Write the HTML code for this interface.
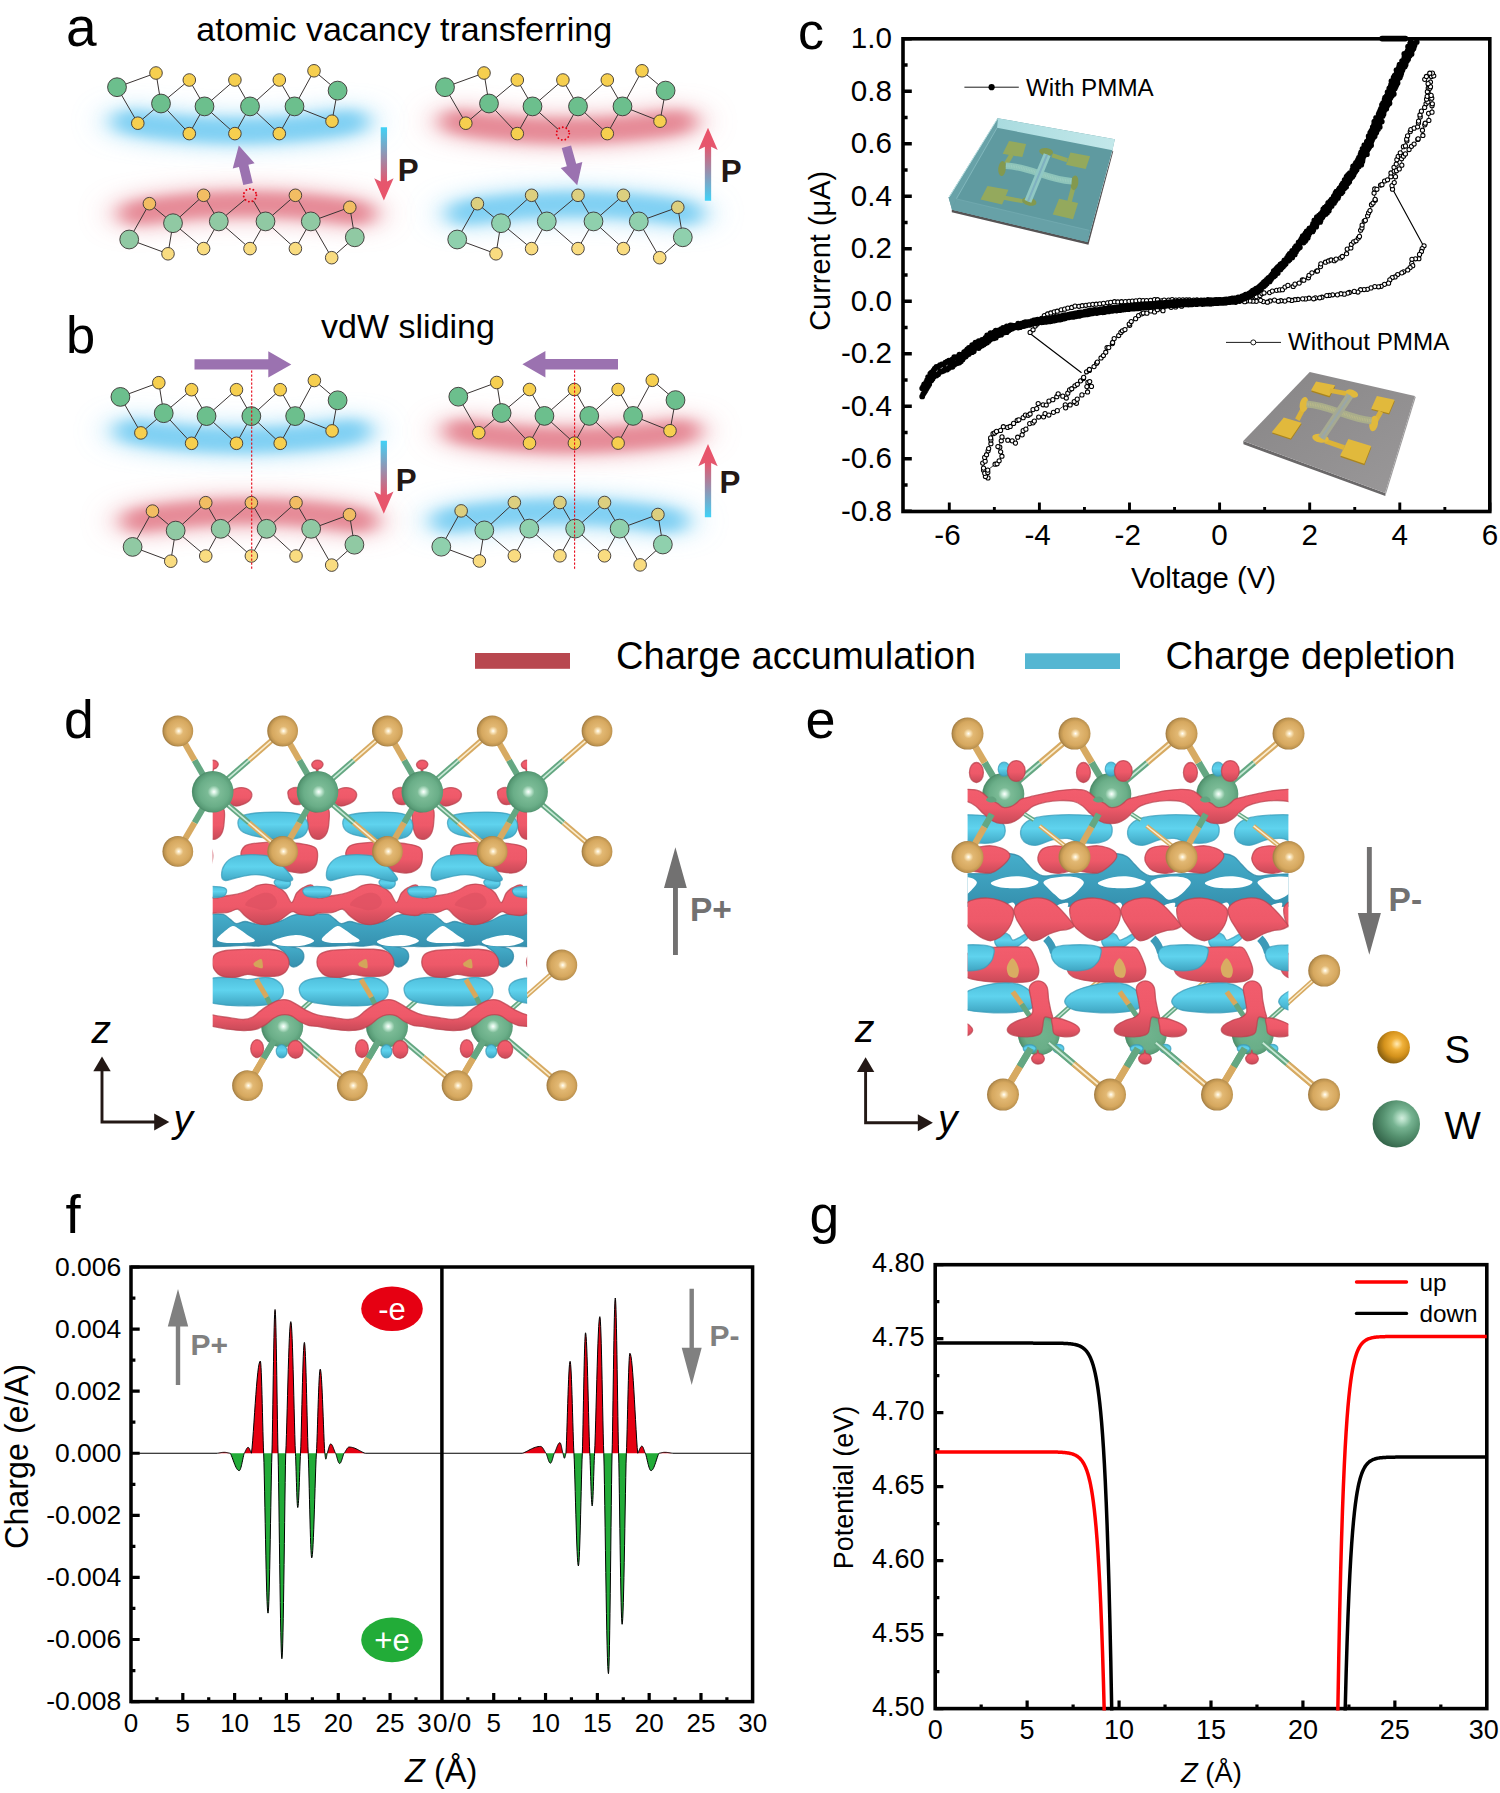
<!DOCTYPE html>
<html><head><meta charset="utf-8"><title>figure</title>
<style>html,body{margin:0;padding:0;background:#fff}svg{display:block}text{font-family:"Liberation Sans", sans-serif}</style></head>
<body><svg width="1500" height="1793" viewBox="0 0 1500 1793">
<defs><filter id="blur" filterUnits="userSpaceOnUse" x="0" y="0" width="800" height="620"><feGaussianBlur stdDeviation="10 5.5"/></filter>
<filter id="blur2" filterUnits="userSpaceOnUse" x="0" y="0" width="800" height="620"><feGaussianBlur stdDeviation="18 11"/></filter>
<linearGradient id="pgd" x1="0" y1="0" x2="0" y2="1"><stop offset="0" stop-color="#3fd2f7"/><stop offset="0.75" stop-color="#e6566d"/><stop offset="1" stop-color="#ea5369"/></linearGradient>
<linearGradient id="pgu" x1="0" y1="1" x2="0" y2="0"><stop offset="0" stop-color="#3fd2f7"/><stop offset="0.75" stop-color="#e6566d"/><stop offset="1" stop-color="#ea5369"/></linearGradient>
<linearGradient id="pmmaStrip" x1="0" y1="0" x2="1" y2="0"><stop offset="0" stop-color="#a9dbdf"/><stop offset="1" stop-color="#c3e8ea"/></linearGradient>
<linearGradient id="pmmaTop" x1="0" y1="0" x2="1" y2="1"><stop offset="0" stop-color="#5b979e"/><stop offset="1" stop-color="#639ca2"/></linearGradient>
<linearGradient id="subTop" x1="0" y1="0" x2="1" y2="1"><stop offset="0" stop-color="#878586"/><stop offset="1" stop-color="#9a9899"/></linearGradient><radialGradient id="gS" cx="0.53" cy="0.5" r="0.5"><stop offset="0" stop-color="#fff"/><stop offset="0.1" stop-color="#fbe9c3"/><stop offset="0.3" stop-color="#e2b873"/><stop offset="0.75" stop-color="#d6a85f"/><stop offset="0.93" stop-color="#be9450"/><stop offset="1" stop-color="#a98247"/></radialGradient>
<radialGradient id="gW" cx="0.53" cy="0.5" r="0.5"><stop offset="0" stop-color="#fff"/><stop offset="0.1" stop-color="#d2f0df"/><stop offset="0.3" stop-color="#7bbb96"/><stop offset="0.72" stop-color="#6aae88"/><stop offset="0.92" stop-color="#5a9d78"/><stop offset="1" stop-color="#4f8f6c"/></radialGradient>
<radialGradient id="gWn" cx="0.53" cy="0.5" r="0.5"><stop offset="0" stop-color="#70b48e"/><stop offset="0.72" stop-color="#6aae88"/><stop offset="0.92" stop-color="#5a9d78"/><stop offset="1" stop-color="#4f8f6c"/></radialGradient>
<radialGradient id="gSL" cx="0.6" cy="0.4" r="0.6"><stop offset="0" stop-color="#ffe9b5"/><stop offset="0.1" stop-color="#fcd98c"/><stop offset="0.3" stop-color="#f0b13a"/><stop offset="0.65" stop-color="#d4921c"/><stop offset="1" stop-color="#8f6412"/></radialGradient>
<radialGradient id="gWL" cx="0.62" cy="0.38" r="0.65"><stop offset="0" stop-color="#d2eddd"/><stop offset="0.12" stop-color="#b2dcc4"/><stop offset="0.32" stop-color="#76b391"/><stop offset="0.62" stop-color="#55916f"/><stop offset="1" stop-color="#35664b"/></radialGradient>
<linearGradient id="gRed" x1="0" y1="0" x2="0" y2="1"><stop offset="0" stop-color="#f25d6d"/><stop offset="0.55" stop-color="#ee5969"/><stop offset="1" stop-color="#c94a58"/></linearGradient>
<linearGradient id="gRedD" x1="0" y1="0" x2="0" y2="1"><stop offset="0" stop-color="#e05565"/><stop offset="1" stop-color="#b84350"/></linearGradient>
<linearGradient id="gLB" x1="0" y1="0" x2="0" y2="1"><stop offset="0" stop-color="#4fbfdc"/><stop offset="0.45" stop-color="#5fd3ee"/><stop offset="1" stop-color="#3fa5c2"/></linearGradient>
<linearGradient id="gTeal" x1="0" y1="0" x2="0" y2="1"><stop offset="0" stop-color="#45aecb"/><stop offset="1" stop-color="#3590ae"/></linearGradient>
<clipPath id="clipD"><rect x="212.7" y="700" width="314.4" height="420"/></clipPath>
<clipPath id="clipE"><rect x="967.6" y="700" width="320.8" height="420"/></clipPath></defs>
<rect width="1500" height="1793" fill="#fff"/>
<g filter="url(#blur)"><path d="M126 121.5Q240 140.5 354 121.5" fill="none" stroke="#80d0f3" stroke-width="22" stroke-linecap="round"/></g><g filter="url(#blur2)"><path d="M126 121.5Q240 140.5 354 121.5" fill="none" stroke="#80d0f3" stroke-width="30" stroke-linecap="round" stroke-opacity="0.7"/></g>
<g filter="url(#blur)"><path d="M133 213.5Q247 194.5 361 213.5" fill="none" stroke="#e68a97" stroke-width="22" stroke-linecap="round"/></g><g filter="url(#blur2)"><path d="M133 213.5Q247 194.5 361 213.5" fill="none" stroke="#e68a97" stroke-width="30" stroke-linecap="round" stroke-opacity="0.7"/></g>
<path d="M117 87.2L156 73L161 103.5M117 87.2L137.8 123.2L161 103.5M161 103.5L189.3 80L204.5 106.4M161 103.5L189.3 133.6L204.5 106.4M204.5 106.4L234.9 80L250 106.4M204.5 106.4L234.9 133.6L250 106.4M250 106.4L279.3 80L294.5 106.4M250 106.4L279.3 133.6L294.5 106.4M294.5 106.4L314 70.8L337.6 90.6M294.5 106.4L332 121.2L337.6 90.6" fill="none" stroke="#3a3433" stroke-width="1"/>
<circle cx="156" cy="73" r="6.3" fill="#f6cf4f" stroke="#3a3433" stroke-width="0.9"/>
<circle cx="189.3" cy="80" r="6.3" fill="#f6cf4f" stroke="#3a3433" stroke-width="0.9"/>
<circle cx="234.9" cy="80" r="6.3" fill="#f6cf4f" stroke="#3a3433" stroke-width="0.9"/>
<circle cx="279.3" cy="80" r="6.3" fill="#f6cf4f" stroke="#3a3433" stroke-width="0.9"/>
<circle cx="314" cy="70.8" r="6.3" fill="#f6cf4f" stroke="#3a3433" stroke-width="0.9"/>
<circle cx="137.8" cy="123.2" r="6.3" fill="#f6cf4f" stroke="#3a3433" stroke-width="0.9"/>
<circle cx="189.3" cy="133.6" r="6.3" fill="#f6cf4f" stroke="#3a3433" stroke-width="0.9"/>
<circle cx="234.9" cy="133.6" r="6.3" fill="#f6cf4f" stroke="#3a3433" stroke-width="0.9"/>
<circle cx="279.3" cy="133.6" r="6.3" fill="#f6cf4f" stroke="#3a3433" stroke-width="0.9"/>
<circle cx="332" cy="121.2" r="6.3" fill="#f6cf4f" stroke="#3a3433" stroke-width="0.9"/>
<circle cx="117" cy="87.2" r="9.4" fill="#6cbf8d" stroke="#3a3433" stroke-width="0.9"/>
<circle cx="161" cy="103.5" r="9.4" fill="#6cbf8d" stroke="#3a3433" stroke-width="0.9"/>
<circle cx="204.5" cy="106.4" r="9.4" fill="#6cbf8d" stroke="#3a3433" stroke-width="0.9"/>
<circle cx="250" cy="106.4" r="9.4" fill="#6cbf8d" stroke="#3a3433" stroke-width="0.9"/>
<circle cx="294.5" cy="106.4" r="9.4" fill="#6cbf8d" stroke="#3a3433" stroke-width="0.9"/>
<circle cx="337.6" cy="90.6" r="9.4" fill="#6cbf8d" stroke="#3a3433" stroke-width="0.9"/>
<path d="M129.2 239.5L149.4 203.7L173 223.2M129.2 239.5L168 253.8L173 223.2M173 223.2L203.6 195.3L218.8 221.4M173 223.2L203.6 248.6L218.8 221.4M218.8 221.4L245.01 199.47M265.5 221.4L253.32 200.89M218.8 221.4L250 248.6L265.5 221.4M265.5 221.4L295.4 195.3L310.8 221.4M265.5 221.4L295.4 248.6L310.8 221.4M310.8 221.4L349.8 207.3L354.8 237.3M310.8 221.4L331.7 257.7L354.8 237.3" fill="none" stroke="#3a3433" stroke-width="1"/>
<circle cx="149.4" cy="203.7" r="6.3" fill="#f2bd63" stroke="#3a3433" stroke-width="0.9"/>
<circle cx="203.6" cy="195.3" r="6.3" fill="#f2bd63" stroke="#3a3433" stroke-width="0.9"/>
<circle cx="250" cy="195.3" r="6.4" fill="none" stroke="#e60012" stroke-width="1.9" stroke-linecap="round" stroke-dasharray="0.01 3.645"/>
<circle cx="295.4" cy="195.3" r="6.3" fill="#f2bd63" stroke="#3a3433" stroke-width="0.9"/>
<circle cx="349.8" cy="207.3" r="6.3" fill="#f2bd63" stroke="#3a3433" stroke-width="0.9"/>
<circle cx="168" cy="253.8" r="6.3" fill="#f9dc80" stroke="#3a3433" stroke-width="0.9"/>
<circle cx="203.6" cy="248.6" r="6.3" fill="#f9dc80" stroke="#3a3433" stroke-width="0.9"/>
<circle cx="250" cy="248.6" r="6.3" fill="#f9dc80" stroke="#3a3433" stroke-width="0.9"/>
<circle cx="295.4" cy="248.6" r="6.3" fill="#f9dc80" stroke="#3a3433" stroke-width="0.9"/>
<circle cx="331.7" cy="257.7" r="6.3" fill="#f9dc80" stroke="#3a3433" stroke-width="0.9"/>
<circle cx="129.2" cy="239.5" r="9.4" fill="#90c9a3" stroke="#3a3433" stroke-width="0.9"/>
<circle cx="173" cy="223.2" r="9.4" fill="#90c9a3" stroke="#3a3433" stroke-width="0.9"/>
<circle cx="218.8" cy="221.4" r="9.4" fill="#90c9a3" stroke="#3a3433" stroke-width="0.9"/>
<circle cx="265.5" cy="221.4" r="9.4" fill="#90c9a3" stroke="#3a3433" stroke-width="0.9"/>
<circle cx="310.8" cy="221.4" r="9.4" fill="#90c9a3" stroke="#3a3433" stroke-width="0.9"/>
<circle cx="354.8" cy="237.3" r="9.4" fill="#90c9a3" stroke="#3a3433" stroke-width="0.9"/>
<g filter="url(#blur)"><path d="M454 121.5Q568 140.5 682 121.5" fill="none" stroke="#e68a97" stroke-width="22" stroke-linecap="round"/></g><g filter="url(#blur2)"><path d="M454 121.5Q568 140.5 682 121.5" fill="none" stroke="#e68a97" stroke-width="30" stroke-linecap="round" stroke-opacity="0.7"/></g>
<g filter="url(#blur)"><path d="M461 213.5Q575 194.5 689 213.5" fill="none" stroke="#80d0f3" stroke-width="22" stroke-linecap="round"/></g><g filter="url(#blur2)"><path d="M461 213.5Q575 194.5 689 213.5" fill="none" stroke="#80d0f3" stroke-width="30" stroke-linecap="round" stroke-opacity="0.7"/></g>
<path d="M445 87.2L484 73L489 103.5M445 87.2L465.8 123.2L489 103.5M489 103.5L517.3 80L532.5 106.4M489 103.5L517.3 133.6L532.5 106.4M532.5 106.4L562.9 80L578 106.4M532.5 106.4L558.06 129.27M578 106.4L566.05 127.92M578 106.4L607.3 80L622.5 106.4M578 106.4L607.3 133.6L622.5 106.4M622.5 106.4L642 70.8L665.6 90.6M622.5 106.4L660 121.2L665.6 90.6" fill="none" stroke="#3a3433" stroke-width="1"/>
<circle cx="484" cy="73" r="6.3" fill="#f6cf4f" stroke="#3a3433" stroke-width="0.9"/>
<circle cx="517.3" cy="80" r="6.3" fill="#f6cf4f" stroke="#3a3433" stroke-width="0.9"/>
<circle cx="562.9" cy="80" r="6.3" fill="#f6cf4f" stroke="#3a3433" stroke-width="0.9"/>
<circle cx="607.3" cy="80" r="6.3" fill="#f6cf4f" stroke="#3a3433" stroke-width="0.9"/>
<circle cx="642" cy="70.8" r="6.3" fill="#f6cf4f" stroke="#3a3433" stroke-width="0.9"/>
<circle cx="465.8" cy="123.2" r="6.3" fill="#f6cf4f" stroke="#3a3433" stroke-width="0.9"/>
<circle cx="517.3" cy="133.6" r="6.3" fill="#f6cf4f" stroke="#3a3433" stroke-width="0.9"/>
<circle cx="562.9" cy="133.6" r="6.4" fill="none" stroke="#e60012" stroke-width="1.9" stroke-linecap="round" stroke-dasharray="0.01 3.645"/>
<circle cx="607.3" cy="133.6" r="6.3" fill="#f6cf4f" stroke="#3a3433" stroke-width="0.9"/>
<circle cx="660" cy="121.2" r="6.3" fill="#f6cf4f" stroke="#3a3433" stroke-width="0.9"/>
<circle cx="445" cy="87.2" r="9.4" fill="#6cbf8d" stroke="#3a3433" stroke-width="0.9"/>
<circle cx="489" cy="103.5" r="9.4" fill="#6cbf8d" stroke="#3a3433" stroke-width="0.9"/>
<circle cx="532.5" cy="106.4" r="9.4" fill="#6cbf8d" stroke="#3a3433" stroke-width="0.9"/>
<circle cx="578" cy="106.4" r="9.4" fill="#6cbf8d" stroke="#3a3433" stroke-width="0.9"/>
<circle cx="622.5" cy="106.4" r="9.4" fill="#6cbf8d" stroke="#3a3433" stroke-width="0.9"/>
<circle cx="665.6" cy="90.6" r="9.4" fill="#6cbf8d" stroke="#3a3433" stroke-width="0.9"/>
<path d="M457.2 239.5L477.4 203.7L501 223.2M457.2 239.5L496 253.8L501 223.2M501 223.2L531.6 195.3L546.8 221.4M501 223.2L531.6 248.6L546.8 221.4M546.8 221.4L578 195.3L593.5 221.4M546.8 221.4L578 248.6L593.5 221.4M593.5 221.4L623.4 195.3L638.8 221.4M593.5 221.4L623.4 248.6L638.8 221.4M638.8 221.4L677.8 207.3L682.8 237.3M638.8 221.4L659.7 257.7L682.8 237.3" fill="none" stroke="#3a3433" stroke-width="1"/>
<circle cx="477.4" cy="203.7" r="6.3" fill="#dccf7f" stroke="#3a3433" stroke-width="0.9"/>
<circle cx="531.6" cy="195.3" r="6.3" fill="#dccf7f" stroke="#3a3433" stroke-width="0.9"/>
<circle cx="578" cy="195.3" r="6.3" fill="#dccf7f" stroke="#3a3433" stroke-width="0.9"/>
<circle cx="623.4" cy="195.3" r="6.3" fill="#dccf7f" stroke="#3a3433" stroke-width="0.9"/>
<circle cx="677.8" cy="207.3" r="6.3" fill="#dccf7f" stroke="#3a3433" stroke-width="0.9"/>
<circle cx="496" cy="253.8" r="6.3" fill="#f9dc80" stroke="#3a3433" stroke-width="0.9"/>
<circle cx="531.6" cy="248.6" r="6.3" fill="#f9dc80" stroke="#3a3433" stroke-width="0.9"/>
<circle cx="578" cy="248.6" r="6.3" fill="#f9dc80" stroke="#3a3433" stroke-width="0.9"/>
<circle cx="623.4" cy="248.6" r="6.3" fill="#f9dc80" stroke="#3a3433" stroke-width="0.9"/>
<circle cx="659.7" cy="257.7" r="6.3" fill="#f9dc80" stroke="#3a3433" stroke-width="0.9"/>
<circle cx="457.2" cy="239.5" r="9.4" fill="#8fd0ad" stroke="#3a3433" stroke-width="0.9"/>
<circle cx="501" cy="223.2" r="9.4" fill="#8fd0ad" stroke="#3a3433" stroke-width="0.9"/>
<circle cx="546.8" cy="221.4" r="9.4" fill="#8fd0ad" stroke="#3a3433" stroke-width="0.9"/>
<circle cx="593.5" cy="221.4" r="9.4" fill="#8fd0ad" stroke="#3a3433" stroke-width="0.9"/>
<circle cx="638.8" cy="221.4" r="9.4" fill="#8fd0ad" stroke="#3a3433" stroke-width="0.9"/>
<circle cx="682.8" cy="237.3" r="9.4" fill="#8fd0ad" stroke="#3a3433" stroke-width="0.9"/>
<g filter="url(#blur)"><path d="M128.5 431Q242.5 450 356.5 431" fill="none" stroke="#80d0f3" stroke-width="22" stroke-linecap="round"/></g><g filter="url(#blur2)"><path d="M128.5 431Q242.5 450 356.5 431" fill="none" stroke="#80d0f3" stroke-width="30" stroke-linecap="round" stroke-opacity="0.7"/></g>
<g filter="url(#blur)"><path d="M135.5 521Q249.5 502 363.5 521" fill="none" stroke="#e68a97" stroke-width="22" stroke-linecap="round"/></g><g filter="url(#blur2)"><path d="M135.5 521Q249.5 502 363.5 521" fill="none" stroke="#e68a97" stroke-width="30" stroke-linecap="round" stroke-opacity="0.7"/></g>
<path d="M120.4 396.9L158.8 382.7L163.72 413.2M120.4 396.9L140.88 432.9L163.72 413.2M163.72 413.2L191.59 389.7L206.55 416.1M163.72 413.2L191.59 443.3L206.55 416.1M206.55 416.1L236.48 389.7L251.35 416.1M206.55 416.1L236.48 443.3L251.35 416.1M251.35 416.1L280.2 389.7L295.17 416.1M251.35 416.1L280.2 443.3L295.17 416.1M295.17 416.1L314.37 380.5L337.6 400.3M295.17 416.1L332.09 430.9L337.6 400.3" fill="none" stroke="#3a3433" stroke-width="1"/>
<circle cx="158.8" cy="382.7" r="6.3" fill="#f6cf4f" stroke="#3a3433" stroke-width="0.9"/>
<circle cx="191.59" cy="389.7" r="6.3" fill="#f6cf4f" stroke="#3a3433" stroke-width="0.9"/>
<circle cx="236.48" cy="389.7" r="6.3" fill="#f6cf4f" stroke="#3a3433" stroke-width="0.9"/>
<circle cx="280.2" cy="389.7" r="6.3" fill="#f6cf4f" stroke="#3a3433" stroke-width="0.9"/>
<circle cx="314.37" cy="380.5" r="6.3" fill="#f6cf4f" stroke="#3a3433" stroke-width="0.9"/>
<circle cx="140.88" cy="432.9" r="6.3" fill="#f6cf4f" stroke="#3a3433" stroke-width="0.9"/>
<circle cx="191.59" cy="443.3" r="6.3" fill="#f6cf4f" stroke="#3a3433" stroke-width="0.9"/>
<circle cx="236.48" cy="443.3" r="6.3" fill="#f6cf4f" stroke="#3a3433" stroke-width="0.9"/>
<circle cx="280.2" cy="443.3" r="6.3" fill="#f6cf4f" stroke="#3a3433" stroke-width="0.9"/>
<circle cx="332.09" cy="430.9" r="6.3" fill="#f6cf4f" stroke="#3a3433" stroke-width="0.9"/>
<circle cx="120.4" cy="396.9" r="9.4" fill="#6cbf8d" stroke="#3a3433" stroke-width="0.9"/>
<circle cx="163.72" cy="413.2" r="9.4" fill="#6cbf8d" stroke="#3a3433" stroke-width="0.9"/>
<circle cx="206.55" cy="416.1" r="9.4" fill="#6cbf8d" stroke="#3a3433" stroke-width="0.9"/>
<circle cx="251.35" cy="416.1" r="9.4" fill="#6cbf8d" stroke="#3a3433" stroke-width="0.9"/>
<circle cx="295.17" cy="416.1" r="9.4" fill="#6cbf8d" stroke="#3a3433" stroke-width="0.9"/>
<circle cx="337.6" cy="400.3" r="9.4" fill="#6cbf8d" stroke="#3a3433" stroke-width="0.9"/>
<path d="M132.6 546.9L152.46 511.1L175.66 530.6M132.6 546.9L170.75 561.2L175.66 530.6M175.66 530.6L205.75 502.7L220.69 528.8M175.66 530.6L205.75 556L220.69 528.8M220.69 528.8L251.37 502.7L266.61 528.8M220.69 528.8L251.37 556L266.61 528.8M266.61 528.8L296.01 502.7L311.15 528.8M266.61 528.8L296.01 556L311.15 528.8M311.15 528.8L349.49 514.7L354.41 544.7M311.15 528.8L331.7 565.1L354.41 544.7" fill="none" stroke="#3a3433" stroke-width="1"/>
<circle cx="152.46" cy="511.1" r="6.3" fill="#f2bd63" stroke="#3a3433" stroke-width="0.9"/>
<circle cx="205.75" cy="502.7" r="6.3" fill="#f2bd63" stroke="#3a3433" stroke-width="0.9"/>
<circle cx="251.37" cy="502.7" r="6.3" fill="#f2bd63" stroke="#3a3433" stroke-width="0.9"/>
<circle cx="296.01" cy="502.7" r="6.3" fill="#f2bd63" stroke="#3a3433" stroke-width="0.9"/>
<circle cx="349.49" cy="514.7" r="6.3" fill="#f2bd63" stroke="#3a3433" stroke-width="0.9"/>
<circle cx="170.75" cy="561.2" r="6.3" fill="#f9dc80" stroke="#3a3433" stroke-width="0.9"/>
<circle cx="205.75" cy="556" r="6.3" fill="#f9dc80" stroke="#3a3433" stroke-width="0.9"/>
<circle cx="251.37" cy="556" r="6.3" fill="#f9dc80" stroke="#3a3433" stroke-width="0.9"/>
<circle cx="296.01" cy="556" r="6.3" fill="#f9dc80" stroke="#3a3433" stroke-width="0.9"/>
<circle cx="331.7" cy="565.1" r="6.3" fill="#f9dc80" stroke="#3a3433" stroke-width="0.9"/>
<circle cx="132.6" cy="546.9" r="9.4" fill="#90c9a3" stroke="#3a3433" stroke-width="0.9"/>
<circle cx="175.66" cy="530.6" r="9.4" fill="#90c9a3" stroke="#3a3433" stroke-width="0.9"/>
<circle cx="220.69" cy="528.8" r="9.4" fill="#90c9a3" stroke="#3a3433" stroke-width="0.9"/>
<circle cx="266.61" cy="528.8" r="9.4" fill="#90c9a3" stroke="#3a3433" stroke-width="0.9"/>
<circle cx="311.15" cy="528.8" r="9.4" fill="#90c9a3" stroke="#3a3433" stroke-width="0.9"/>
<circle cx="354.41" cy="544.7" r="9.4" fill="#90c9a3" stroke="#3a3433" stroke-width="0.9"/>
<g filter="url(#blur)"><path d="M458 431Q572 450 686 431" fill="none" stroke="#e68a97" stroke-width="22" stroke-linecap="round"/></g><g filter="url(#blur2)"><path d="M458 431Q572 450 686 431" fill="none" stroke="#e68a97" stroke-width="30" stroke-linecap="round" stroke-opacity="0.7"/></g>
<g filter="url(#blur)"><path d="M445.5 521Q559.5 502 673.5 521" fill="none" stroke="#80d0f3" stroke-width="22" stroke-linecap="round"/></g><g filter="url(#blur2)"><path d="M445.5 521Q559.5 502 673.5 521" fill="none" stroke="#80d0f3" stroke-width="30" stroke-linecap="round" stroke-opacity="0.7"/></g>
<path d="M458.3 396.7L496.7 382.5L501.62 413M458.3 396.7L478.78 432.7L501.62 413M501.62 413L529.49 389.5L544.45 415.9M501.62 413L529.49 443.1L544.45 415.9M544.45 415.9L574.38 389.5L589.25 415.9M544.45 415.9L574.38 443.1L589.25 415.9M589.25 415.9L618.1 389.5L633.07 415.9M589.25 415.9L618.1 443.1L633.07 415.9M633.07 415.9L652.27 380.3L675.5 400.1M633.07 415.9L669.99 430.7L675.5 400.1" fill="none" stroke="#3a3433" stroke-width="1"/>
<circle cx="496.7" cy="382.5" r="6.3" fill="#f6cf4f" stroke="#3a3433" stroke-width="0.9"/>
<circle cx="529.49" cy="389.5" r="6.3" fill="#f6cf4f" stroke="#3a3433" stroke-width="0.9"/>
<circle cx="574.38" cy="389.5" r="6.3" fill="#f6cf4f" stroke="#3a3433" stroke-width="0.9"/>
<circle cx="618.1" cy="389.5" r="6.3" fill="#f6cf4f" stroke="#3a3433" stroke-width="0.9"/>
<circle cx="652.27" cy="380.3" r="6.3" fill="#f6cf4f" stroke="#3a3433" stroke-width="0.9"/>
<circle cx="478.78" cy="432.7" r="6.3" fill="#f6cf4f" stroke="#3a3433" stroke-width="0.9"/>
<circle cx="529.49" cy="443.1" r="6.3" fill="#f6cf4f" stroke="#3a3433" stroke-width="0.9"/>
<circle cx="574.38" cy="443.1" r="6.3" fill="#f6cf4f" stroke="#3a3433" stroke-width="0.9"/>
<circle cx="618.1" cy="443.1" r="6.3" fill="#f6cf4f" stroke="#3a3433" stroke-width="0.9"/>
<circle cx="669.99" cy="430.7" r="6.3" fill="#f6cf4f" stroke="#3a3433" stroke-width="0.9"/>
<circle cx="458.3" cy="396.7" r="9.4" fill="#6cbf8d" stroke="#3a3433" stroke-width="0.9"/>
<circle cx="501.62" cy="413" r="9.4" fill="#6cbf8d" stroke="#3a3433" stroke-width="0.9"/>
<circle cx="544.45" cy="415.9" r="9.4" fill="#6cbf8d" stroke="#3a3433" stroke-width="0.9"/>
<circle cx="589.25" cy="415.9" r="9.4" fill="#6cbf8d" stroke="#3a3433" stroke-width="0.9"/>
<circle cx="633.07" cy="415.9" r="9.4" fill="#6cbf8d" stroke="#3a3433" stroke-width="0.9"/>
<circle cx="675.5" cy="400.1" r="9.4" fill="#6cbf8d" stroke="#3a3433" stroke-width="0.9"/>
<path d="M441.3 546.7L461.14 510.9L484.31 530.4M441.3 546.7L479.4 561L484.31 530.4M484.31 530.4L514.36 502.5L529.29 528.6M484.31 530.4L514.36 555.8L529.29 528.6M529.29 528.6L559.93 502.5L575.15 528.6M529.29 528.6L559.93 555.8L575.15 528.6M575.15 528.6L604.51 502.5L619.63 528.6M575.15 528.6L604.51 555.8L619.63 528.6M619.63 528.6L657.93 514.5L662.84 544.5M619.63 528.6L640.15 564.9L662.84 544.5" fill="none" stroke="#3a3433" stroke-width="1"/>
<circle cx="461.14" cy="510.9" r="6.3" fill="#dccf7f" stroke="#3a3433" stroke-width="0.9"/>
<circle cx="514.36" cy="502.5" r="6.3" fill="#dccf7f" stroke="#3a3433" stroke-width="0.9"/>
<circle cx="559.93" cy="502.5" r="6.3" fill="#dccf7f" stroke="#3a3433" stroke-width="0.9"/>
<circle cx="604.51" cy="502.5" r="6.3" fill="#dccf7f" stroke="#3a3433" stroke-width="0.9"/>
<circle cx="657.93" cy="514.5" r="6.3" fill="#dccf7f" stroke="#3a3433" stroke-width="0.9"/>
<circle cx="479.4" cy="561" r="6.3" fill="#f9dc80" stroke="#3a3433" stroke-width="0.9"/>
<circle cx="514.36" cy="555.8" r="6.3" fill="#f9dc80" stroke="#3a3433" stroke-width="0.9"/>
<circle cx="559.93" cy="555.8" r="6.3" fill="#f9dc80" stroke="#3a3433" stroke-width="0.9"/>
<circle cx="604.51" cy="555.8" r="6.3" fill="#f9dc80" stroke="#3a3433" stroke-width="0.9"/>
<circle cx="640.15" cy="564.9" r="6.3" fill="#f9dc80" stroke="#3a3433" stroke-width="0.9"/>
<circle cx="441.3" cy="546.7" r="9.4" fill="#8fd0ad" stroke="#3a3433" stroke-width="0.9"/>
<circle cx="484.31" cy="530.4" r="9.4" fill="#8fd0ad" stroke="#3a3433" stroke-width="0.9"/>
<circle cx="529.29" cy="528.6" r="9.4" fill="#8fd0ad" stroke="#3a3433" stroke-width="0.9"/>
<circle cx="575.15" cy="528.6" r="9.4" fill="#8fd0ad" stroke="#3a3433" stroke-width="0.9"/>
<circle cx="619.63" cy="528.6" r="9.4" fill="#8fd0ad" stroke="#3a3433" stroke-width="0.9"/>
<circle cx="662.84" cy="544.5" r="9.4" fill="#8fd0ad" stroke="#3a3433" stroke-width="0.9"/>
<path d="M251.7 370.5V569M574.6 370.5V569" stroke="#e60012" stroke-width="1.1" stroke-dasharray="2.2 1.8" fill="none"/>
<polygon points="252.72,182.88 248.39,164.7 254.61,163.22 238.8,145.4 232.73,168.44 238.95,166.95 243.28,185.12" fill="#9b72b0"/>
<polygon points="561.73,148.11 566.85,166.3 560.68,168.03 577.2,185.2 582.34,161.94 576.18,163.67 571.07,145.49" fill="#9b72b0"/>
<polygon points="194.5,369.6 268.3,369.6 268.3,377.6 291.3,364.4 268.3,351.2 268.3,359.2 194.5,359.2" fill="#9b72b0"/>
<polygon points="618,359.1 545.4,359.1 545.4,351.1 522.4,364.3 545.4,377.5 545.4,369.5 618,369.5" fill="#9b72b0"/>
<path d="M380.75 127.3H387.05V181.4L393.6 178.2L383.9 200.4L374.2 178.2L380.75 181.4Z" fill="url(#pgd)"/>
<path d="M704.85 200.8H711.15V146.8L717.7 150L708 127.8L698.3 150L704.85 146.8Z" fill="url(#pgu)"/>
<path d="M380.65 440.7H386.95V494.7L393.5 491.5L383.8 513.7L374.1 491.5L380.65 494.7Z" fill="url(#pgd)"/>
<path d="M704.85 517.2H711.15V463L717.7 466.2L708 444L698.3 466.2L704.85 463Z" fill="url(#pgu)"/>
<text x="397.7" y="181" font-size="31.3" text-anchor="start" fill="#231815" font-weight="bold">P</text>
<text x="720.7" y="182.1" font-size="31.3" text-anchor="start" fill="#231815" font-weight="bold">P</text>
<text x="395.8" y="491.3" font-size="31.3" text-anchor="start" fill="#231815" font-weight="bold">P</text>
<text x="719.5" y="492.6" font-size="31.3" text-anchor="start" fill="#231815" font-weight="bold">P</text>
<text x="404.2" y="40.8" font-size="34" text-anchor="middle" fill="#000">atomic vacancy transferring</text>
<text x="408" y="337.8" font-size="34" text-anchor="middle" fill="#000">vdW sliding</text>
<text x="66" y="45.6" font-size="55" text-anchor="start" fill="#000">a</text>
<text x="66" y="352.6" font-size="52.5" text-anchor="start" fill="#000">b</text>
<g>
<polygon points="951.78,209.43 1087.56,241.73 1112.51,150.79 1113.27,151.29 1088.45,244.77 951.78,212.34" fill="#565354" />
<polygon points="997.63,118.23 1114.79,139.13 1112.26,150.79 1087.56,241.98 952.03,209.81 948.61,197.4" fill="#5f9aa0" />
<polygon points="997.63,118.23 1114.79,139.13 1112.51,150.28 997,127.73" fill="url(#pmmaStrip)" />
<polygon points="997.63,118.23 997,127.73 956.21,198.92 952.03,209.81 948.61,197.4" fill="#68a2a8" />
<polygon points="956.21,198.92 1089.46,230.33 1087.56,241.98 952.03,209.81" fill="#67a1a7" />
<path d="M997.38 118.87L949.12 197.14" fill="none" stroke="#d6f2f4" stroke-width="0.8" />
<path d="M996.87 128.11L956.47 198.66" fill="none" stroke="#9fd0d5" stroke-width="0.5" />
<path d="M956.47 198.92L1089.21 230.33" fill="none" stroke="#7cb3b9" stroke-width="0.5" />
<polygon points="1009.03,141.03 1026.13,143.95 1022.33,157.12 1002.7,153.83" fill="#94a95d" />
<polygon points="1070.46,152.43 1090.09,156.23 1085.66,169.02 1066.03,164.72" fill="#94a95d" />
<polygon points="987.5,186 1008.4,189.8 1002.06,204.62 980.53,199.55" fill="#94a95d" />
<polygon points="1059.06,198.66 1078.06,203.1 1073,219.18 1052.73,214.62" fill="#94a95d" />
<path d="M1011.56 154.59L1006.12 163.83" fill="none" stroke="#94a95d" stroke-width="4.6" />
<path d="M1067.3 160.28L1052.1 155.22" fill="none" stroke="#94a95d" stroke-width="4.2" />
<path d="M1003.96 197.65L1022.96 201.2" fill="none" stroke="#94a95d" stroke-width="4.2" />
<path d="M1069.45 201.83L1073.63 186" fill="none" stroke="#94a95d" stroke-width="4.6" />
<ellipse cx="1046.14" cy="151.8" rx="6.97" ry="3.8" fill="#83994f" transform="rotate(8 1046.14 151.8)"/>
<ellipse cx="1074.52" cy="182.83" rx="3.8" ry="7.35" fill="#83994f" transform="rotate(8 1074.52 182.83)"/>
<ellipse cx="1002.06" cy="168.52" rx="3.8" ry="7.6" fill="#83994f" transform="rotate(6 1002.06 168.52)"/>
<ellipse cx="1029.3" cy="201.45" rx="7.35" ry="4.05" fill="#83994f" transform="rotate(14 1029.3 201.45)"/>
<path d="M1005.86 165.73C1031.2 167 1045.13 179.03 1071.73 181.18" fill="none" stroke="#8dc4ba" stroke-width="6.6" />
<path d="M1005.86 165.73C1031.2 167 1045.13 179.03 1071.73 181.18" fill="none" stroke="#9fcfc0" stroke-width="3" stroke-dasharray="0.9 0.8" stroke-opacity="0.7"/>
<path d="M1047.16 154.59L1027.9 201.45" fill="none" stroke="#90c8c4" stroke-width="7.2" />
<path d="M1047.16 154.59L1027.9 201.45" fill="none" stroke="#7fb0c0" stroke-width="2" />
</g>
<g>
<polygon points="1243.23,441 1385.09,492.93 1385.35,495.97 1243.49,444.29" fill="#6a6869" />
<polygon points="1414.86,396.03 1385.09,492.93 1385.35,495.97 1415.62,397.43" fill="#9f9d9e" />
<polygon points="1309.73,371.97 1414.86,396.03 1385.09,492.93 1243.23,441" fill="url(#subTop)" />
<polygon points="1316.32,382.86 1335.32,386.66 1329.62,397.43 1311.25,391.73" fill="#a9841f" /><polygon points="1316.06,381.47 1335.06,385.27 1329.36,396.03 1311,390.33" fill="#e1b93c" />
<polygon points="1377.12,397.43 1394.85,401.23 1389.15,414.53 1371.42,410.09" fill="#a9841f" /><polygon points="1376.86,396.03 1394.59,399.83 1388.89,413.13 1371.16,408.7" fill="#e1b93c" />
<polygon points="1284.02,418.96 1301.75,424.02 1290.98,439.86 1271.99,433.52" fill="#a9841f" /><polygon points="1283.77,417.56 1301.5,422.63 1290.73,438.46 1271.73,432.13" fill="#e1b93c" />
<polygon points="1348.62,440.49 1371.42,447.46 1364.45,465.19 1340.38,456.96" fill="#a9841f" /><polygon points="1348.36,439.1 1371.16,446.06 1364.2,463.8 1340.13,455.56" fill="#e1b93c" />
<path d="M1329.74 390.59L1348.36 393.88" fill="none" stroke="#dcb338" stroke-width="4.6" />
<path d="M1380.92 411.61L1375.34 421.36" fill="none" stroke="#dcb338" stroke-width="5" />
<path d="M1297.32 419.72L1303.14 408.7" fill="none" stroke="#dcb338" stroke-width="5" />
<path d="M1344.18 447.58L1325.18 441" fill="none" stroke="#dcb338" stroke-width="5" />
<ellipse cx="1351.78" cy="393.5" rx="6.59" ry="3.8" fill="#e1b93c" transform="rotate(20 1351.78 393.5)"/>
<ellipse cx="1373.7" cy="423.52" rx="4.31" ry="7.85" fill="#e1b93c" transform="rotate(10 1373.7 423.52)"/>
<ellipse cx="1304.03" cy="404.52" rx="4.31" ry="7.6" fill="#e1b93c" transform="rotate(10 1304.03 404.52)"/>
<ellipse cx="1320.5" cy="438.21" rx="8.36" ry="4.31" fill="#e1b93c" transform="rotate(10 1320.5 438.21)"/>
<path d="M1306.56 404.01C1331.26 405.79 1346.46 418.2 1371.54 420.73" fill="none" stroke="#a9ad8b" stroke-width="7.2" />
<path d="M1306.56 404.01C1331.26 405.79 1346.46 418.2 1371.54 420.73" fill="none" stroke="#bfbd8a" stroke-width="3.2" stroke-dasharray="0.9 0.8" stroke-opacity="0.7"/>
<path d="M1350.01 395.4L1321.38 438.21" fill="none" stroke="#a6aa92" stroke-width="7.6" />
<path d="M1350.01 395.4L1321.38 438.21" fill="none" stroke="#9aa7a8" stroke-width="2.2" />
</g>
<polyline points="987.99,477.93 985.44,476.41 983.57,470.19 983.51,468.09 982.72,463.05 985.15,461.15 984.67,457.39 986.55,454.73 988.09,450.87 988.64,448.61 990.91,443.73 990.89,439.88 990.64,437.93 993.06,433.69 994.71,432.93 996.52,431.41 1000.57,430.43 1003.35,426.74 1007.66,427.44 1010.2,426.49 1013.6,423.41 1017.19,420.42 1018.84,419.87 1023.16,417.63 1025.42,415.03 1028.22,415.25 1030.09,413.95 1033.01,409.61 1036.71,408.62 1038.18,403.51 1043.1,404.75 1046.25,405.02 1048.96,401.08 1052.81,399.63 1056.77,396.73 1058.16,393.82 1062.78,396.19 1066.32,398.02 1067.78,393.13 1069.58,389.9 1071.73,388.73 1074.95,385.76 1077.33,384.26 1080.6,380.86 1083.36,378.5 1083.65,377.42 1086.59,371.76 1089.32,370.41 1089.4,369.49 1094.03,366.58 1096.63,363.35 1097.39,362.08 1101.01,357.98 1103.38,355.5 1105.74,352.2 1107.07,347.59 1108.72,347.56 1112.35,343.57 1112.63,342.48 1114.17,338.59 1118.69,335.5 1120.87,332.43 1122.47,330.75 1124.95,329.59 1129.7,325.32 1129.21,324.01 1131.21,321.53 1135.62,318.68 1138.58,315.61 1141.81,313.82 1143.36,313.01 1146.9,313.17 1150.73,310.91 1154.55,311.89 1157.38,309.74 1162.06,309.02 1162.98,310.63 1169.92,305.53 1171.12,307.31 1175.57,306.94 1177.77,304.6 1181.61,306.17 1183.89,303.72 1188.44,302.42 1191.68,303.53 1195.87,302.88 1198.01,302.8 1202.32,302.14 1205.87,303.23 1210.53,303.89 1212.05,301.47 1213.84,303.49 1218.98,301.27" fill="none" stroke="#000" stroke-width="0.8"/>
<polyline points="984.73,473.3 987.8,472.39 987.74,470.05 995.09,464.22 997.08,463.78 999.14,460.75 1001.94,456.24 1000.65,451.84 999.77,447.13 997.92,446.54 1001.27,440.79 1001.99,436.91 1007.81,440.23 1012.16,440.86 1015.5,443.12 1017.67,437.22 1022.13,434.83 1023.16,430.68 1025.88,429.14 1029.7,423.6 1032.97,422.8 1034.33,421.11 1038.7,417.04 1043.56,416.84 1045.07,413.54 1048.85,415.04 1053.44,412.35 1057.27,410.68 1065.3,404.79 1065.61,407.83 1070.11,404.98 1076.39,403.25 1074.21,401.54 1077.23,399.15 1081.92,394.9 1087.56,391.99 1086.91,386.58 1091.46,386.4 1087.95,382.43 1089.7,381.61" fill="none" stroke="#000" stroke-width="0.8"/>
<polyline points="1030.14,332.42 1033.05,329.78 1035.17,326.07 1037.11,323.9 1039.98,320.76 1041.66,318.32 1044.36,315.51 1047.62,313.98 1050.84,312.97 1054.25,311.86 1057.25,311.24 1061.16,309.75 1064.6,309.17 1067.82,308.11 1071.71,307.49 1075.01,306.06 1078.98,306.27 1082.25,305.72 1085.89,305.29 1089.14,304.78 1092.82,304.37 1096.26,304.23 1099.79,303.79 1103.44,303.27 1107.61,302.79 1110.66,302.36 1114.47,301.7 1117.88,301.96 1121.5,301.72 1125.4,301.68 1129.03,301.42 1132.33,301.05 1135.93,300.83 1139.55,300.35 1143.11,300.66 1146.55,300.53 1150.52,300.37 1154.51,299.64 1157.53,299.74 1161.43,300.83 1164.16,300.16 1168.52,300.02 1172.12,299.51 1175.8,300.13 1179.19,299.86 1182.94,299.88 1186.44,299.87 1189.42,299.99 1193.64,300.19 1196.97,299.99 1200.94,300.04 1204.7,300.5 1207.76,299.52 1211.8,300.38 1215.42,300.2 1218.63,299.82 1219.92,299.77" fill="none" stroke="#000" stroke-width="0.8"/>
<polyline points="1218.07,300.4 1225.34,302.99 1225.88,300.56 1230.11,300.5 1234.48,301.06 1235.72,302.27 1239.57,301.25 1243.49,300.72 1247.02,299.39 1248.26,296.86 1251.97,297 1256.29,296.57 1260.01,295.47 1261.99,293.56 1263.99,292.89 1269.61,292.6 1272.34,291.05 1276.56,290.31 1279.66,289.91 1282.46,289.66 1284.98,287.08 1287.92,285.42 1293.21,286.46 1294.98,284.13 1299.18,283.08 1302.36,279.95 1303.8,280.13 1308.39,277.77 1309.04,275.32 1311.94,272.83 1316.6,271 1317.46,270.95 1320.5,266.55 1320.87,263.86 1325.48,262.21 1328.48,260.98 1331.12,259.96 1334.37,260.69 1336.09,259.17 1340.7,257.89 1342.36,256.48 1346.59,253.71 1347.24,249.11 1350.84,247.95 1351.37,244.37 1353.65,241.89 1356.06,240.79 1358.32,238.11 1359.47,236.44 1360.59,230.25 1361.94,227.93 1362.13,225.03 1364.24,221.02 1365.36,220.32 1367.62,215.86 1368.64,212.84 1370,210.57 1371.48,204.71 1373.07,203.03 1375.19,200.24 1375.13,199.44 1374.06,193.07 1374.73,188.99 1376.89,189.26 1380.59,185.03 1381.98,184.67 1384.57,181 1387.52,179.77 1390.89,176.68 1390.99,172.98 1394.2,171.16 1394.01,167.35 1396.26,164.05 1396.89,159.68 1398.2,156.36 1401.12,155.11 1400.27,152.75 1403.42,146.63 1405.47,145.89 1406.87,140.87 1406.68,139.17 1407.58,135.76 1410.26,131.6 1410.85,129.57 1414.12,128.16 1417.61,126.82 1418.44,122.95 1418.57,121.06 1420.21,116.94 1419.96,114.95 1421.41,111.19 1424.67,107.41 1426.06,103.7 1427.91,101.93 1426.57,99.22 1427.2,96.37 1427.39,91.67 1428.25,88.12 1428.65,84.61 1430.44,82.02 1431.45,76.45 1433.73,75.87 1432.4,73.09" fill="none" stroke="#000" stroke-width="0.8"/>
<polyline points="1392.51,189.18 1392.02,185.68 1394.24,182.59 1395.46,176.68 1396.42,170.68 1399.26,168.89 1401.81,165.18 1401.55,158.75 1403.52,156.17 1405.4,153.89 1409.06,149.52 1411.46,146.34 1414.09,144.02 1417.86,139.45 1418.11,138.8 1422.87,135.48 1422.46,130.23 1424.76,124.84 1425.22,123.22 1428.85,120.42 1428.59,113.37 1432,112.19 1431.99,105.67 1432.32,103.78 1431.74,98.19 1431.13,95.41 1429.83,88.32 1430.46,86.69 1428.08,83.65 1424.73,79.36 1426.4,76.45 1429.76,73.22" fill="none" stroke="#000" stroke-width="0.8"/>
<polyline points="1424.03,245.76 1422.17,248.57 1421.43,251.46 1419.56,254.39 1418.88,258.72 1415.45,258.76 1411.94,259.37 1411.76,263.28 1412.7,265.68 1410.1,267.6 1407.72,269.97 1403.64,271.76 1401.8,272.86 1397.62,274.61 1395.05,276.95 1392.19,277.57 1389.78,279.9 1388.56,283.19 1384.48,284.37 1381.16,286.29 1378.46,286.79 1374.8,286.57 1370.98,287.91 1367.36,289.29 1364.08,289.53 1360.54,289.71 1357.92,292.02 1354.24,291.39 1349.34,292.48 1347.84,293.06 1344.24,294.17 1340.87,293.73 1337.38,294.86 1332.62,294.79 1329.22,295.46 1326.76,295.5 1321.98,297.2 1319.73,297.78 1315.4,297.92 1313.61,298.75 1308.99,298.23 1305.53,298.94 1302.65,298.83 1297.96,299.48 1294.92,299.7 1291.8,300.48 1288.75,299.72 1284.86,301.11 1280.93,300.72 1278.3,301.29 1274.46,300.1 1270.08,300.98 1267.4,302.22 1263.28,301.61 1260.6,300.3 1256.3,301.3 1252.96,301.2 1249.95,300.92 1246.45,301.06 1244.73,301.67" fill="none" stroke="#000" stroke-width="0.8"/>
<path d="M1030.7 334L1081.5 372.8M1392 188L1423 245" stroke="#000" stroke-width="1.15" fill="none"/>
<g fill="#fff" stroke="#000" stroke-width="1.05"><circle cx="987.99" cy="477.93" r="2.1"/><circle cx="985.44" cy="476.41" r="2.1"/><circle cx="983.57" cy="470.19" r="2.1"/><circle cx="983.51" cy="468.09" r="2.1"/><circle cx="982.72" cy="463.05" r="2.1"/><circle cx="985.15" cy="461.15" r="2.1"/><circle cx="984.67" cy="457.39" r="2.1"/><circle cx="986.55" cy="454.73" r="2.1"/><circle cx="988.09" cy="450.87" r="2.1"/><circle cx="988.64" cy="448.61" r="2.1"/><circle cx="990.91" cy="443.73" r="2.1"/><circle cx="990.89" cy="439.88" r="2.1"/><circle cx="990.64" cy="437.93" r="2.1"/><circle cx="993.06" cy="433.69" r="2.1"/><circle cx="994.71" cy="432.93" r="2.1"/><circle cx="996.52" cy="431.41" r="2.1"/><circle cx="1000.57" cy="430.43" r="2.1"/><circle cx="1003.35" cy="426.74" r="2.1"/><circle cx="1007.66" cy="427.44" r="2.1"/><circle cx="1010.2" cy="426.49" r="2.1"/><circle cx="1013.6" cy="423.41" r="2.1"/><circle cx="1017.19" cy="420.42" r="2.1"/><circle cx="1018.84" cy="419.87" r="2.1"/><circle cx="1023.16" cy="417.63" r="2.1"/><circle cx="1025.42" cy="415.03" r="2.1"/><circle cx="1028.22" cy="415.25" r="2.1"/><circle cx="1030.09" cy="413.95" r="2.1"/><circle cx="1033.01" cy="409.61" r="2.1"/><circle cx="1036.71" cy="408.62" r="2.1"/><circle cx="1038.18" cy="403.51" r="2.1"/><circle cx="1043.1" cy="404.75" r="2.1"/><circle cx="1046.25" cy="405.02" r="2.1"/><circle cx="1048.96" cy="401.08" r="2.1"/><circle cx="1052.81" cy="399.63" r="2.1"/><circle cx="1056.77" cy="396.73" r="2.1"/><circle cx="1058.16" cy="393.82" r="2.1"/><circle cx="1062.78" cy="396.19" r="2.1"/><circle cx="1066.32" cy="398.02" r="2.1"/><circle cx="1067.78" cy="393.13" r="2.1"/><circle cx="1069.58" cy="389.9" r="2.1"/><circle cx="1071.73" cy="388.73" r="2.1"/><circle cx="1074.95" cy="385.76" r="2.1"/><circle cx="1077.33" cy="384.26" r="2.1"/><circle cx="1080.6" cy="380.86" r="2.1"/><circle cx="1083.36" cy="378.5" r="2.1"/><circle cx="1083.65" cy="377.42" r="2.1"/><circle cx="1086.59" cy="371.76" r="2.1"/><circle cx="1089.32" cy="370.41" r="2.1"/><circle cx="1089.4" cy="369.49" r="2.1"/><circle cx="1094.03" cy="366.58" r="2.1"/><circle cx="1096.63" cy="363.35" r="2.1"/><circle cx="1097.39" cy="362.08" r="2.1"/><circle cx="1101.01" cy="357.98" r="2.1"/><circle cx="1103.38" cy="355.5" r="2.1"/><circle cx="1105.74" cy="352.2" r="2.1"/><circle cx="1107.07" cy="347.59" r="2.1"/><circle cx="1108.72" cy="347.56" r="2.1"/><circle cx="1112.35" cy="343.57" r="2.1"/><circle cx="1112.63" cy="342.48" r="2.1"/><circle cx="1114.17" cy="338.59" r="2.1"/><circle cx="1118.69" cy="335.5" r="2.1"/><circle cx="1120.87" cy="332.43" r="2.1"/><circle cx="1122.47" cy="330.75" r="2.1"/><circle cx="1124.95" cy="329.59" r="2.1"/><circle cx="1129.7" cy="325.32" r="2.1"/><circle cx="1129.21" cy="324.01" r="2.1"/><circle cx="1131.21" cy="321.53" r="2.1"/><circle cx="1135.62" cy="318.68" r="2.1"/><circle cx="1138.58" cy="315.61" r="2.1"/><circle cx="1141.81" cy="313.82" r="2.1"/><circle cx="1143.36" cy="313.01" r="2.1"/><circle cx="1146.9" cy="313.17" r="2.1"/><circle cx="1150.73" cy="310.91" r="2.1"/><circle cx="1154.55" cy="311.89" r="2.1"/><circle cx="1157.38" cy="309.74" r="2.1"/><circle cx="1162.06" cy="309.02" r="2.1"/><circle cx="1162.98" cy="310.63" r="2.1"/><circle cx="1169.92" cy="305.53" r="2.1"/><circle cx="1171.12" cy="307.31" r="2.1"/><circle cx="1175.57" cy="306.94" r="2.1"/><circle cx="1177.77" cy="304.6" r="2.1"/><circle cx="1181.61" cy="306.17" r="2.1"/><circle cx="1183.89" cy="303.72" r="2.1"/><circle cx="1188.44" cy="302.42" r="2.1"/><circle cx="1191.68" cy="303.53" r="2.1"/><circle cx="1195.87" cy="302.88" r="2.1"/><circle cx="1198.01" cy="302.8" r="2.1"/><circle cx="1202.32" cy="302.14" r="2.1"/><circle cx="1205.87" cy="303.23" r="2.1"/><circle cx="1210.53" cy="303.89" r="2.1"/><circle cx="1212.05" cy="301.47" r="2.1"/><circle cx="1213.84" cy="303.49" r="2.1"/><circle cx="1218.98" cy="301.27" r="2.1"/><circle cx="984.73" cy="473.3" r="2.1"/><circle cx="987.8" cy="472.39" r="2.1"/><circle cx="987.74" cy="470.05" r="2.1"/><circle cx="995.09" cy="464.22" r="2.1"/><circle cx="997.08" cy="463.78" r="2.1"/><circle cx="999.14" cy="460.75" r="2.1"/><circle cx="1001.94" cy="456.24" r="2.1"/><circle cx="1000.65" cy="451.84" r="2.1"/><circle cx="999.77" cy="447.13" r="2.1"/><circle cx="997.92" cy="446.54" r="2.1"/><circle cx="1001.27" cy="440.79" r="2.1"/><circle cx="1001.99" cy="436.91" r="2.1"/><circle cx="1007.81" cy="440.23" r="2.1"/><circle cx="1012.16" cy="440.86" r="2.1"/><circle cx="1015.5" cy="443.12" r="2.1"/><circle cx="1017.67" cy="437.22" r="2.1"/><circle cx="1022.13" cy="434.83" r="2.1"/><circle cx="1023.16" cy="430.68" r="2.1"/><circle cx="1025.88" cy="429.14" r="2.1"/><circle cx="1029.7" cy="423.6" r="2.1"/><circle cx="1032.97" cy="422.8" r="2.1"/><circle cx="1034.33" cy="421.11" r="2.1"/><circle cx="1038.7" cy="417.04" r="2.1"/><circle cx="1043.56" cy="416.84" r="2.1"/><circle cx="1045.07" cy="413.54" r="2.1"/><circle cx="1048.85" cy="415.04" r="2.1"/><circle cx="1053.44" cy="412.35" r="2.1"/><circle cx="1057.27" cy="410.68" r="2.1"/><circle cx="1065.3" cy="404.79" r="2.1"/><circle cx="1065.61" cy="407.83" r="2.1"/><circle cx="1070.11" cy="404.98" r="2.1"/><circle cx="1076.39" cy="403.25" r="2.1"/><circle cx="1074.21" cy="401.54" r="2.1"/><circle cx="1077.23" cy="399.15" r="2.1"/><circle cx="1081.92" cy="394.9" r="2.1"/><circle cx="1087.56" cy="391.99" r="2.1"/><circle cx="1086.91" cy="386.58" r="2.1"/><circle cx="1091.46" cy="386.4" r="2.1"/><circle cx="1087.95" cy="382.43" r="2.1"/><circle cx="1089.7" cy="381.61" r="2.1"/><circle cx="1030.14" cy="332.42" r="2.1"/><circle cx="1033.05" cy="329.78" r="2.1"/><circle cx="1035.17" cy="326.07" r="2.1"/><circle cx="1037.11" cy="323.9" r="2.1"/><circle cx="1039.98" cy="320.76" r="2.1"/><circle cx="1041.66" cy="318.32" r="2.1"/><circle cx="1044.36" cy="315.51" r="2.1"/><circle cx="1047.62" cy="313.98" r="2.1"/><circle cx="1050.84" cy="312.97" r="2.1"/><circle cx="1054.25" cy="311.86" r="2.1"/><circle cx="1057.25" cy="311.24" r="2.1"/><circle cx="1061.16" cy="309.75" r="2.1"/><circle cx="1064.6" cy="309.17" r="2.1"/><circle cx="1067.82" cy="308.11" r="2.1"/><circle cx="1071.71" cy="307.49" r="2.1"/><circle cx="1075.01" cy="306.06" r="2.1"/><circle cx="1078.98" cy="306.27" r="2.1"/><circle cx="1082.25" cy="305.72" r="2.1"/><circle cx="1085.89" cy="305.29" r="2.1"/><circle cx="1089.14" cy="304.78" r="2.1"/><circle cx="1092.82" cy="304.37" r="2.1"/><circle cx="1096.26" cy="304.23" r="2.1"/><circle cx="1099.79" cy="303.79" r="2.1"/><circle cx="1103.44" cy="303.27" r="2.1"/><circle cx="1107.61" cy="302.79" r="2.1"/><circle cx="1110.66" cy="302.36" r="2.1"/><circle cx="1114.47" cy="301.7" r="2.1"/><circle cx="1117.88" cy="301.96" r="2.1"/><circle cx="1121.5" cy="301.72" r="2.1"/><circle cx="1125.4" cy="301.68" r="2.1"/><circle cx="1129.03" cy="301.42" r="2.1"/><circle cx="1132.33" cy="301.05" r="2.1"/><circle cx="1135.93" cy="300.83" r="2.1"/><circle cx="1139.55" cy="300.35" r="2.1"/><circle cx="1143.11" cy="300.66" r="2.1"/><circle cx="1146.55" cy="300.53" r="2.1"/><circle cx="1150.52" cy="300.37" r="2.1"/><circle cx="1154.51" cy="299.64" r="2.1"/><circle cx="1157.53" cy="299.74" r="2.1"/><circle cx="1161.43" cy="300.83" r="2.1"/><circle cx="1164.16" cy="300.16" r="2.1"/><circle cx="1168.52" cy="300.02" r="2.1"/><circle cx="1172.12" cy="299.51" r="2.1"/><circle cx="1175.8" cy="300.13" r="2.1"/><circle cx="1179.19" cy="299.86" r="2.1"/><circle cx="1182.94" cy="299.88" r="2.1"/><circle cx="1186.44" cy="299.87" r="2.1"/><circle cx="1189.42" cy="299.99" r="2.1"/><circle cx="1193.64" cy="300.19" r="2.1"/><circle cx="1196.97" cy="299.99" r="2.1"/><circle cx="1200.94" cy="300.04" r="2.1"/><circle cx="1204.7" cy="300.5" r="2.1"/><circle cx="1207.76" cy="299.52" r="2.1"/><circle cx="1211.8" cy="300.38" r="2.1"/><circle cx="1215.42" cy="300.2" r="2.1"/><circle cx="1218.63" cy="299.82" r="2.1"/><circle cx="1219.92" cy="299.77" r="2.1"/><circle cx="1218.07" cy="300.4" r="2.1"/><circle cx="1225.34" cy="302.99" r="2.1"/><circle cx="1225.88" cy="300.56" r="2.1"/><circle cx="1230.11" cy="300.5" r="2.1"/><circle cx="1234.48" cy="301.06" r="2.1"/><circle cx="1235.72" cy="302.27" r="2.1"/><circle cx="1239.57" cy="301.25" r="2.1"/><circle cx="1243.49" cy="300.72" r="2.1"/><circle cx="1247.02" cy="299.39" r="2.1"/><circle cx="1248.26" cy="296.86" r="2.1"/><circle cx="1251.97" cy="297" r="2.1"/><circle cx="1256.29" cy="296.57" r="2.1"/><circle cx="1260.01" cy="295.47" r="2.1"/><circle cx="1261.99" cy="293.56" r="2.1"/><circle cx="1263.99" cy="292.89" r="2.1"/><circle cx="1269.61" cy="292.6" r="2.1"/><circle cx="1272.34" cy="291.05" r="2.1"/><circle cx="1276.56" cy="290.31" r="2.1"/><circle cx="1279.66" cy="289.91" r="2.1"/><circle cx="1282.46" cy="289.66" r="2.1"/><circle cx="1284.98" cy="287.08" r="2.1"/><circle cx="1287.92" cy="285.42" r="2.1"/><circle cx="1293.21" cy="286.46" r="2.1"/><circle cx="1294.98" cy="284.13" r="2.1"/><circle cx="1299.18" cy="283.08" r="2.1"/><circle cx="1302.36" cy="279.95" r="2.1"/><circle cx="1303.8" cy="280.13" r="2.1"/><circle cx="1308.39" cy="277.77" r="2.1"/><circle cx="1309.04" cy="275.32" r="2.1"/><circle cx="1311.94" cy="272.83" r="2.1"/><circle cx="1316.6" cy="271" r="2.1"/><circle cx="1317.46" cy="270.95" r="2.1"/><circle cx="1320.5" cy="266.55" r="2.1"/><circle cx="1320.87" cy="263.86" r="2.1"/><circle cx="1325.48" cy="262.21" r="2.1"/><circle cx="1328.48" cy="260.98" r="2.1"/><circle cx="1331.12" cy="259.96" r="2.1"/><circle cx="1334.37" cy="260.69" r="2.1"/><circle cx="1336.09" cy="259.17" r="2.1"/><circle cx="1340.7" cy="257.89" r="2.1"/><circle cx="1342.36" cy="256.48" r="2.1"/><circle cx="1346.59" cy="253.71" r="2.1"/><circle cx="1347.24" cy="249.11" r="2.1"/><circle cx="1350.84" cy="247.95" r="2.1"/><circle cx="1351.37" cy="244.37" r="2.1"/><circle cx="1353.65" cy="241.89" r="2.1"/><circle cx="1356.06" cy="240.79" r="2.1"/><circle cx="1358.32" cy="238.11" r="2.1"/><circle cx="1359.47" cy="236.44" r="2.1"/><circle cx="1360.59" cy="230.25" r="2.1"/><circle cx="1361.94" cy="227.93" r="2.1"/><circle cx="1362.13" cy="225.03" r="2.1"/><circle cx="1364.24" cy="221.02" r="2.1"/><circle cx="1365.36" cy="220.32" r="2.1"/><circle cx="1367.62" cy="215.86" r="2.1"/><circle cx="1368.64" cy="212.84" r="2.1"/><circle cx="1370" cy="210.57" r="2.1"/><circle cx="1371.48" cy="204.71" r="2.1"/><circle cx="1373.07" cy="203.03" r="2.1"/><circle cx="1375.19" cy="200.24" r="2.1"/><circle cx="1375.13" cy="199.44" r="2.1"/><circle cx="1374.06" cy="193.07" r="2.1"/><circle cx="1374.73" cy="188.99" r="2.1"/><circle cx="1376.89" cy="189.26" r="2.1"/><circle cx="1380.59" cy="185.03" r="2.1"/><circle cx="1381.98" cy="184.67" r="2.1"/><circle cx="1384.57" cy="181" r="2.1"/><circle cx="1387.52" cy="179.77" r="2.1"/><circle cx="1390.89" cy="176.68" r="2.1"/><circle cx="1390.99" cy="172.98" r="2.1"/><circle cx="1394.2" cy="171.16" r="2.1"/><circle cx="1394.01" cy="167.35" r="2.1"/><circle cx="1396.26" cy="164.05" r="2.1"/><circle cx="1396.89" cy="159.68" r="2.1"/><circle cx="1398.2" cy="156.36" r="2.1"/><circle cx="1401.12" cy="155.11" r="2.1"/><circle cx="1400.27" cy="152.75" r="2.1"/><circle cx="1403.42" cy="146.63" r="2.1"/><circle cx="1405.47" cy="145.89" r="2.1"/><circle cx="1406.87" cy="140.87" r="2.1"/><circle cx="1406.68" cy="139.17" r="2.1"/><circle cx="1407.58" cy="135.76" r="2.1"/><circle cx="1410.26" cy="131.6" r="2.1"/><circle cx="1410.85" cy="129.57" r="2.1"/><circle cx="1414.12" cy="128.16" r="2.1"/><circle cx="1417.61" cy="126.82" r="2.1"/><circle cx="1418.44" cy="122.95" r="2.1"/><circle cx="1418.57" cy="121.06" r="2.1"/><circle cx="1420.21" cy="116.94" r="2.1"/><circle cx="1419.96" cy="114.95" r="2.1"/><circle cx="1421.41" cy="111.19" r="2.1"/><circle cx="1424.67" cy="107.41" r="2.1"/><circle cx="1426.06" cy="103.7" r="2.1"/><circle cx="1427.91" cy="101.93" r="2.1"/><circle cx="1426.57" cy="99.22" r="2.1"/><circle cx="1427.2" cy="96.37" r="2.1"/><circle cx="1427.39" cy="91.67" r="2.1"/><circle cx="1428.25" cy="88.12" r="2.1"/><circle cx="1428.65" cy="84.61" r="2.1"/><circle cx="1430.44" cy="82.02" r="2.1"/><circle cx="1431.45" cy="76.45" r="2.1"/><circle cx="1433.73" cy="75.87" r="2.1"/><circle cx="1432.4" cy="73.09" r="2.1"/><circle cx="1392.51" cy="189.18" r="2.1"/><circle cx="1392.02" cy="185.68" r="2.1"/><circle cx="1394.24" cy="182.59" r="2.1"/><circle cx="1395.46" cy="176.68" r="2.1"/><circle cx="1396.42" cy="170.68" r="2.1"/><circle cx="1399.26" cy="168.89" r="2.1"/><circle cx="1401.81" cy="165.18" r="2.1"/><circle cx="1401.55" cy="158.75" r="2.1"/><circle cx="1403.52" cy="156.17" r="2.1"/><circle cx="1405.4" cy="153.89" r="2.1"/><circle cx="1409.06" cy="149.52" r="2.1"/><circle cx="1411.46" cy="146.34" r="2.1"/><circle cx="1414.09" cy="144.02" r="2.1"/><circle cx="1417.86" cy="139.45" r="2.1"/><circle cx="1418.11" cy="138.8" r="2.1"/><circle cx="1422.87" cy="135.48" r="2.1"/><circle cx="1422.46" cy="130.23" r="2.1"/><circle cx="1424.76" cy="124.84" r="2.1"/><circle cx="1425.22" cy="123.22" r="2.1"/><circle cx="1428.85" cy="120.42" r="2.1"/><circle cx="1428.59" cy="113.37" r="2.1"/><circle cx="1432" cy="112.19" r="2.1"/><circle cx="1431.99" cy="105.67" r="2.1"/><circle cx="1432.32" cy="103.78" r="2.1"/><circle cx="1431.74" cy="98.19" r="2.1"/><circle cx="1431.13" cy="95.41" r="2.1"/><circle cx="1429.83" cy="88.32" r="2.1"/><circle cx="1430.46" cy="86.69" r="2.1"/><circle cx="1428.08" cy="83.65" r="2.1"/><circle cx="1424.73" cy="79.36" r="2.1"/><circle cx="1426.4" cy="76.45" r="2.1"/><circle cx="1429.76" cy="73.22" r="2.1"/><circle cx="1424.03" cy="245.76" r="2.1"/><circle cx="1422.17" cy="248.57" r="2.1"/><circle cx="1421.43" cy="251.46" r="2.1"/><circle cx="1419.56" cy="254.39" r="2.1"/><circle cx="1418.88" cy="258.72" r="2.1"/><circle cx="1415.45" cy="258.76" r="2.1"/><circle cx="1411.94" cy="259.37" r="2.1"/><circle cx="1411.76" cy="263.28" r="2.1"/><circle cx="1412.7" cy="265.68" r="2.1"/><circle cx="1410.1" cy="267.6" r="2.1"/><circle cx="1407.72" cy="269.97" r="2.1"/><circle cx="1403.64" cy="271.76" r="2.1"/><circle cx="1401.8" cy="272.86" r="2.1"/><circle cx="1397.62" cy="274.61" r="2.1"/><circle cx="1395.05" cy="276.95" r="2.1"/><circle cx="1392.19" cy="277.57" r="2.1"/><circle cx="1389.78" cy="279.9" r="2.1"/><circle cx="1388.56" cy="283.19" r="2.1"/><circle cx="1384.48" cy="284.37" r="2.1"/><circle cx="1381.16" cy="286.29" r="2.1"/><circle cx="1378.46" cy="286.79" r="2.1"/><circle cx="1374.8" cy="286.57" r="2.1"/><circle cx="1370.98" cy="287.91" r="2.1"/><circle cx="1367.36" cy="289.29" r="2.1"/><circle cx="1364.08" cy="289.53" r="2.1"/><circle cx="1360.54" cy="289.71" r="2.1"/><circle cx="1357.92" cy="292.02" r="2.1"/><circle cx="1354.24" cy="291.39" r="2.1"/><circle cx="1349.34" cy="292.48" r="2.1"/><circle cx="1347.84" cy="293.06" r="2.1"/><circle cx="1344.24" cy="294.17" r="2.1"/><circle cx="1340.87" cy="293.73" r="2.1"/><circle cx="1337.38" cy="294.86" r="2.1"/><circle cx="1332.62" cy="294.79" r="2.1"/><circle cx="1329.22" cy="295.46" r="2.1"/><circle cx="1326.76" cy="295.5" r="2.1"/><circle cx="1321.98" cy="297.2" r="2.1"/><circle cx="1319.73" cy="297.78" r="2.1"/><circle cx="1315.4" cy="297.92" r="2.1"/><circle cx="1313.61" cy="298.75" r="2.1"/><circle cx="1308.99" cy="298.23" r="2.1"/><circle cx="1305.53" cy="298.94" r="2.1"/><circle cx="1302.65" cy="298.83" r="2.1"/><circle cx="1297.96" cy="299.48" r="2.1"/><circle cx="1294.92" cy="299.7" r="2.1"/><circle cx="1291.8" cy="300.48" r="2.1"/><circle cx="1288.75" cy="299.72" r="2.1"/><circle cx="1284.86" cy="301.11" r="2.1"/><circle cx="1280.93" cy="300.72" r="2.1"/><circle cx="1278.3" cy="301.29" r="2.1"/><circle cx="1274.46" cy="300.1" r="2.1"/><circle cx="1270.08" cy="300.98" r="2.1"/><circle cx="1267.4" cy="302.22" r="2.1"/><circle cx="1263.28" cy="301.61" r="2.1"/><circle cx="1260.6" cy="300.3" r="2.1"/><circle cx="1256.3" cy="301.3" r="2.1"/><circle cx="1252.96" cy="301.2" r="2.1"/><circle cx="1249.95" cy="300.92" r="2.1"/><circle cx="1246.45" cy="301.06" r="2.1"/><circle cx="1244.73" cy="301.67" r="2.1"/></g>
<polyline points="922.2,388.36 923.18,386.66 924.16,384.44 925.14,384.14 926.13,382.36 927.11,380.19 928.1,377.03 929.21,376.9 930.32,373.72 931.43,372.64 932.54,371.83 933.65,370.34 934.76,368.54 936.4,366.83 938.18,366.82 939.97,365.13 941.76,364.47 943.55,364.29 945.34,362.67 947.12,361.74 948.9,360.66 950.68,360.65 952.46,359.5 954.24,357.18 956.02,357.63 957.8,357.17 959.43,354.68 961,354.96 962.56,354.28 964.13,352.14 965.7,351.27 967.26,349.31 968.87,347.79 970.5,348.25 972.14,345.21 973.78,346.12 975.42,342.66 977.06,343.13 978.73,341.03 980.41,341.52 982.08,339.85 983.75,339.73 985.43,337.91 987.1,335.38 988.8,336.13 990.54,333.12 992.28,334.14 994.02,332.46 995.75,330.71 997.49,331.05 999.31,330.11 1001.17,329.26 1003.03,328 1004.88,328.48 1006.74,326.43 1008.6,327.36 1010.47,325.4 1012.39,325.7 1014.31,326.22 1016.23,325.56 1018.15,323.57 1020.07,324.35 1022,323.29 1023.96,322.73 1025.91,322.07 1027.86,322.17 1029.82,321.88 1031.77,321.22 1033.73,320.43 1035.68,320.07 1037.66,319.75 1039.65,319.83 1041.63,319.15 1043.62,319.14 1045.6,318.77 1047.59,318.64 1049.57,318.72 1051.56,318.03 1053.52,317.69 1055.48,316.9 1057.44,317.06 1059.39,316.49 1061.35,316.22 1063.31,315.43 1065.27,315.23 1067.23,315.03 1069.19,314.63 1071.15,314.21 1073.12,313.78 1075.09,313.38 1077.06,313.16 1079.03,312.67 1080.99,312.49 1082.96,312.39 1084.93,311.76 1086.9,311.29 1088.88,311.02 1090.86,310.48 1092.84,310.52 1094.82,310 1096.8,310.06 1098.78,309.81 1100.76,309.31 1102.74,309.14 1104.72,308.61 1106.7,308.62 1108.68,307.89 1110.66,307.91 1112.65,307.78 1114.64,307.73 1116.63,307.46 1118.62,307.29 1120.61,306.75 1122.6,306.67 1124.59,306.65 1126.57,305.88 1128.56,305.73 1130.55,305.84 1132.54,305.58 1134.53,305.4 1136.52,305.21 1138.51,305.26 1140.51,304.76 1142.5,304.4 1144.49,304.21 1146.48,304.15 1148.48,304.13 1150.47,303.89 1152.46,304.07 1154.45,303.71 1156.44,303.42 1158.44,303.22 1160.43,302.91 1162.43,303.17 1164.42,302.88 1166.42,302.77 1168.41,302.37 1170.41,302.61 1172.4,302.19 1174.4,301.96 1176.4,301.87 1178.39,301.56 1180.39,301.68 1182.38,301.79 1184.38,301.25 1186.38,301.52 1188.38,301.5 1190.37,301.38 1192.37,301.38 1194.37,301.15 1196.37,301.12 1198.36,300.84 1200.36,301.08 1202.36,300.77 1204.36,300.48 1206.36,300.82 1208.35,300.54 1210.35,300.24 1212.35,300.34 1214.35,300.21 1216.35,299.98 1218.35,300.19 1220.34,299.81 1222.33,300.14 1224.32,299.64 1226.31,299.45 1228.3,299.41 1230.3,298.96 1232.28,298.46 1234.25,298.43 1236.21,298.21 1238.18,297.43 1240.14,297.29 1241.97,296.39 1243.81,295.98 1245.65,294.68 1247.48,294.3 1249.32,293.49 1251.06,292.08 1252.74,290.77 1254.41,289.97 1256.09,288.75 1257.77,287.81 1259.44,286.72 1260.97,285.09 1262.42,283.95 1263.87,282.07 1265.32,281.03 1266.77,279.71 1268.22,278.21 1269.67,277.2 1271.04,275.73 1272.38,274.24 1273.73,271.09 1275.07,270.27 1276.42,268.66 1277.76,267.19 1279.11,266.14 1280.44,264.36 1281.76,263.72 1283.07,262.88 1284.38,260.29 1285.69,259.93 1287.01,257.96 1288.32,255.61 1289.63,253.97 1290.92,253.05 1292.2,250.92 1293.48,250.38 1294.76,248.02 1296.04,246.16 1297.32,245.53 1298.6,242.47 1299.88,241.98 1299.22,242.56 1300.47,240.98 1301.21,239.39 1302.1,237.8 1302.75,236.22 1304.71,234.63 1305.62,233.05 1306.67,231.46 1308.76,229.88 1309.42,228.29 1312.08,226.71 1312.79,225.12 1313.11,223.54 1315.01,221.95 1314.35,220.37 1317.34,218.78 1316.84,217.2 1318.9,215.61 1320.58,214.03 1322.22,212.44 1324.05,210.86 1323.3,209.27 1324.69,207.69 1326.6,206.1 1328.21,204.51 1328.19,202.9 1330.11,201.29 1331.39,199.69 1333.12,198.08 1333.76,196.47 1334.89,194.87 1335.51,193.26 1336.34,191.65 1338.61,189.99 1339.44,188.33 1341.05,186.66 1341.81,185 1342.84,183.34 1344.57,181.67 1344.66,180.01 1346.01,178.34 1346.6,176.68 1348.08,174.97 1349.83,173.26 1352.12,171.55 1352.31,169.84 1353.35,168.13 1353.08,166.42 1355.07,164.71 1355.91,163 1357.25,161.29 1358.08,159.56 1358.97,157.77 1360.34,155.98 1360.58,154.19 1361.14,152.41 1363.01,150.62 1362.52,148.83 1364.39,147.04 1364.33,145.25 1366.94,143.46 1366.85,141.67 1368.54,139.88 1368.82,138.05 1368.66,136.21 1370.88,134.38 1370.27,132.54 1371.5,130.71 1373.4,128.88 1372.77,127.04 1373.93,125.21 1374.28,123.37 1374.3,121.54 1377.28,119.71 1376.07,117.87 1378.73,116.03 1378.65,114.19 1379.39,112.35 1380.28,110.51 1380.99,108.67 1382.15,106.83 1381.98,104.99 1383.05,103.15 1384.71,101.31 1384.63,99.47 1385.09,97.63 1386.73,95.79 1387.71,93.95 1387.6,92.11 1390.83,90.27 1389.29,88.43 1390.55,86.59 1391.06,84.75 1392.04,82.91 1391.47,81.07 1393.57,79.23 1393.63,77.39 1394.68,75.55 1396.44,73.71 1397.06,71.87 1396.5,70.03 1398.7,68.24 1399.21,66.45 1399.56,64.66 1402.37,62.87 1402.06,61.08 1403.93,59.29 1404.38,57.5 1404.63,55.71 1404.29,53.93 1407.06,52.14 1407.85,50.35 1408.53,48.56 1408.07,46.77 1411.05,44.98 1410.19,43.19 1410.65,42 1416.73,42 1414.95,43.19 1414.61,44.98 1413.97,46.77 1413.48,48.56 1412.23,50.35 1410.21,52.14 1411.55,53.93 1409.64,55.71 1408.27,57.5 1408.08,59.29 1406.85,61.08 1405.68,62.87 1405.62,64.66 1404.8,66.45 1403.01,68.24 1402.47,70.03 1401.63,71.87 1401.14,73.71 1400.58,75.55 1399.8,77.39 1397.85,79.23 1397.17,81.07 1397.55,82.91 1396.48,84.75 1395.73,86.59 1394.78,88.43 1392.57,90.27 1393.1,92.11 1393.78,93.95 1391.89,95.79 1390.5,97.63 1389.47,99.47 1389.1,101.31 1389.49,103.15 1387.72,104.99 1386.66,106.83 1386.26,108.67 1384.25,110.51 1383.72,112.35 1383.48,114.19 1382.59,116.03 1380.99,117.87 1380.47,119.71 1381.78,121.54 1379.7,123.37 1379.48,125.21 1379.73,127.04 1378.13,128.88 1376.76,130.71 1376.31,132.54 1374.94,134.38 1374.65,136.21 1373.01,138.05 1372.06,139.88 1371.36,141.67 1370.78,143.46 1371.1,145.25 1369.48,147.04 1368.27,148.83 1367.21,150.62 1366.31,152.41 1366.89,154.19 1363.8,155.98 1362.86,157.77 1362.61,159.56 1362.38,161.29 1361.58,163 1361.28,164.71 1358.78,166.42 1355.91,168.13 1356.62,169.84 1355.27,171.55 1354.17,173.26 1353.5,174.97 1352.3,176.68 1350.75,178.34 1349.21,180.01 1349.26,181.67 1347.9,183.34 1346.24,185 1346.15,186.66 1344.39,188.33 1342.54,189.99 1342.53,191.65 1341.22,193.26 1338.1,194.87 1338.35,196.47 1337.87,198.08 1335.9,199.69 1335.03,201.29 1334.04,202.9 1331.75,204.51 1331.66,206.1 1329.68,207.69 1328.86,209.27 1328.81,210.86 1327.27,212.44 1325.73,214.03 1323.36,215.61 1322.37,217.2 1320.67,218.78 1320.64,220.37 1320.11,221.95 1316.97,223.54 1316.4,225.12 1316.16,226.71 1313.59,228.29 1313.32,229.88 1312.54,231.46 1309.52,233.05 1308.68,234.63 1308.04,236.22 1307.74,237.8 1306.06,239.39 1305.16,240.98 1303.56,242.56 1299.88,247.35 1298.6,248.2 1297.32,249.59 1296.04,251.71 1294.76,254.43 1293.48,253.98 1292.2,257.43 1290.92,257.8 1289.63,259.42 1288.32,260.67 1287.01,260.89 1285.69,263.81 1284.38,265.04 1283.07,266.6 1281.76,267.72 1280.44,269.45 1279.11,269.59 1277.76,273.11 1276.42,271.62 1275.07,275.44 1273.73,276.42 1272.38,277.16 1271.04,279.16 1269.67,281.46 1268.22,281.2 1266.77,283.56 1265.32,284.9 1263.87,286.14 1262.42,286.91 1260.97,289.4 1259.44,290.13 1257.77,291.22 1256.09,292.21 1254.41,293.37 1252.74,294.24 1251.06,295.45 1249.32,296.48 1247.48,297.27 1245.65,297.68 1243.81,298.82 1241.97,299.31 1240.14,300.27 1238.18,300.54 1236.21,301.28 1234.25,301.27 1232.28,301.9 1230.3,302.04 1228.3,302.22 1226.31,302.43 1224.32,302.16 1222.33,302.91 1220.34,302.81 1218.35,303.07 1216.35,303.08 1214.35,303.19 1212.35,303.42 1210.35,303.37 1208.35,303.6 1206.36,303.52 1204.36,303.73 1202.36,304.07 1200.36,303.52 1198.36,303.81 1196.37,304.18 1194.37,303.77 1192.37,304.28 1190.37,304.33 1188.38,304.49 1186.38,304.41 1184.38,304.45 1182.38,304.64 1180.39,304.49 1178.39,304.96 1176.4,305.11 1174.4,305.17 1172.4,305.21 1170.41,305.38 1168.41,305.51 1166.42,305.57 1164.42,306 1162.43,306.14 1160.43,306.07 1158.44,306.46 1156.44,306.26 1154.45,306.78 1152.46,306.81 1150.47,307.01 1148.48,307.15 1146.48,307.33 1144.49,307.67 1142.5,307.52 1140.51,307.99 1138.51,308.28 1136.52,308.37 1134.53,308.59 1132.54,308.71 1130.55,308.7 1128.56,309.13 1126.57,309.16 1124.59,309.4 1122.6,309.67 1120.61,310.01 1118.62,310.05 1116.63,310.51 1114.64,310.35 1112.65,310.78 1110.66,310.84 1108.68,311.4 1106.7,311.44 1104.72,311.98 1102.74,312.27 1100.76,312.14 1098.78,312.45 1096.8,312.98 1094.82,312.93 1092.84,313.29 1090.86,313.48 1088.88,314.09 1086.9,314.38 1084.93,314.58 1082.96,314.8 1080.99,315.29 1079.03,315.92 1077.06,316.06 1075.09,316.43 1073.12,316.93 1071.15,316.89 1069.19,317.25 1067.23,317.47 1065.27,318.37 1063.31,318.63 1061.35,319.32 1059.39,319.64 1057.44,319.73 1055.48,320.24 1053.52,320.71 1051.56,321.1 1049.57,321.41 1047.59,321.52 1045.6,321.94 1043.62,322.11 1041.63,322.35 1039.65,322.17 1037.66,322.86 1035.68,323.21 1033.73,323.44 1031.77,323.97 1029.82,324.74 1027.86,324.77 1025.91,325.39 1023.96,326.02 1022,326.15 1020.07,327.16 1018.15,327.56 1016.23,326.79 1014.31,327.52 1012.39,328.59 1010.47,329.27 1008.6,330.47 1006.74,332.22 1004.88,332.36 1003.03,332.82 1001.17,334.69 999.31,335.12 997.49,335.41 995.75,337.66 994.02,338.27 992.28,337.31 990.54,339.15 988.8,340.99 987.1,342.59 985.43,343.2 983.75,344.38 982.08,345.38 980.41,346.31 978.73,348.01 977.06,347.93 975.42,347.86 973.78,351.2 972.14,352.14 970.5,351.73 968.87,353.95 967.26,354.66 965.7,356.39 964.13,357.18 962.56,359.61 961,361.29 959.43,362.48 957.8,363.04 956.02,363.45 954.24,364.74 952.46,366.83 950.68,365.81 948.9,367.97 947.12,369.6 945.34,369.01 943.55,370.78 941.76,371.46 939.97,371.94 938.18,374.22 936.4,375.51 934.76,375.68 933.65,376.64 932.54,378.74 931.43,380.13 930.32,380.92 929.21,384.17 928.1,386.11 927.11,387.39 926.13,389.19 925.14,391.08 924.16,392.39 923.18,394.08 922.2,396.42" fill="none" stroke="#000" stroke-width="1" stroke-linejoin="round"/>
<path d="M922.2 388.36h0M923.18 386.66h0M924.16 384.44h0M925.14 384.14h0M926.13 382.36h0M927.11 380.19h0M928.1 377.03h0M929.21 376.9h0M930.32 373.72h0M931.43 372.64h0M932.54 371.83h0M933.65 370.34h0M934.76 368.54h0M936.4 366.83h0M938.18 366.82h0M939.97 365.13h0M941.76 364.47h0M943.55 364.29h0M945.34 362.67h0M947.12 361.74h0M948.9 360.66h0M950.68 360.65h0M952.46 359.5h0M954.24 357.18h0M956.02 357.63h0M957.8 357.17h0M959.43 354.68h0M961 354.96h0M962.56 354.28h0M964.13 352.14h0M965.7 351.27h0M967.26 349.31h0M968.87 347.79h0M970.5 348.25h0M972.14 345.21h0M973.78 346.12h0M975.42 342.66h0M977.06 343.13h0M978.73 341.03h0M980.41 341.52h0M982.08 339.85h0M983.75 339.73h0M985.43 337.91h0M987.1 335.38h0M988.8 336.13h0M990.54 333.12h0M992.28 334.14h0M994.02 332.46h0M995.75 330.71h0M997.49 331.05h0M999.31 330.11h0M1001.17 329.26h0M1003.03 328h0M1004.88 328.48h0M1006.74 326.43h0M1008.6 327.36h0M1010.47 325.4h0M1012.39 325.7h0M1014.31 326.22h0M1016.23 325.56h0M1018.15 323.57h0M1020.07 324.35h0M1022 323.29h0M1023.96 322.73h0M1025.91 322.07h0M1027.86 322.17h0M1029.82 321.88h0M1031.77 321.22h0M1033.73 320.43h0M1035.68 320.07h0M1037.66 319.75h0M1039.65 319.83h0M1041.63 319.15h0M1043.62 319.14h0M1045.6 318.77h0M1047.59 318.64h0M1049.57 318.72h0M1051.56 318.03h0M1053.52 317.69h0M1055.48 316.9h0M1057.44 317.06h0M1059.39 316.49h0M1061.35 316.22h0M1063.31 315.43h0M1065.27 315.23h0M1067.23 315.03h0M1069.19 314.63h0M1071.15 314.21h0M1073.12 313.78h0M1075.09 313.38h0M1077.06 313.16h0M1079.03 312.67h0M1080.99 312.49h0M1082.96 312.39h0M1084.93 311.76h0M1086.9 311.29h0M1088.88 311.02h0M1090.86 310.48h0M1092.84 310.52h0M1094.82 310h0M1096.8 310.06h0M1098.78 309.81h0M1100.76 309.31h0M1102.74 309.14h0M1104.72 308.61h0M1106.7 308.62h0M1108.68 307.89h0M1110.66 307.91h0M1112.65 307.78h0M1114.64 307.73h0M1116.63 307.46h0M1118.62 307.29h0M1120.61 306.75h0M1122.6 306.67h0M1124.59 306.65h0M1126.57 305.88h0M1128.56 305.73h0M1130.55 305.84h0M1132.54 305.58h0M1134.53 305.4h0M1136.52 305.21h0M1138.51 305.26h0M1140.51 304.76h0M1142.5 304.4h0M1144.49 304.21h0M1146.48 304.15h0M1148.48 304.13h0M1150.47 303.89h0M1152.46 304.07h0M1154.45 303.71h0M1156.44 303.42h0M1158.44 303.22h0M1160.43 302.91h0M1162.43 303.17h0M1164.42 302.88h0M1166.42 302.77h0M1168.41 302.37h0M1170.41 302.61h0M1172.4 302.19h0M1174.4 301.96h0M1176.4 301.87h0M1178.39 301.56h0M1180.39 301.68h0M1182.38 301.79h0M1184.38 301.25h0M1186.38 301.52h0M1188.38 301.5h0M1190.37 301.38h0M1192.37 301.38h0M1194.37 301.15h0M1196.37 301.12h0M1198.36 300.84h0M1200.36 301.08h0M1202.36 300.77h0M1204.36 300.48h0M1206.36 300.82h0M1208.35 300.54h0M1210.35 300.24h0M1212.35 300.34h0M1214.35 300.21h0M1216.35 299.98h0M1218.35 300.19h0M1220.34 299.81h0M1222.33 300.14h0M1224.32 299.64h0M1226.31 299.45h0M1228.3 299.41h0M1230.3 298.96h0M1232.28 298.46h0M1234.25 298.43h0M1236.21 298.21h0M1238.18 297.43h0M1240.14 297.29h0M1241.97 296.39h0M1243.81 295.98h0M1245.65 294.68h0M1247.48 294.3h0M1249.32 293.49h0M1251.06 292.08h0M1252.74 290.77h0M1254.41 289.97h0M1256.09 288.75h0M1257.77 287.81h0M1259.44 286.72h0M1260.97 285.09h0M1262.42 283.95h0M1263.87 282.07h0M1265.32 281.03h0M1266.77 279.71h0M1268.22 278.21h0M1269.67 277.2h0M1271.04 275.73h0M1272.38 274.24h0M1273.73 271.09h0M1275.07 270.27h0M1276.42 268.66h0M1277.76 267.19h0M1279.11 266.14h0M1280.44 264.36h0M1281.76 263.72h0M1283.07 262.88h0M1284.38 260.29h0M1285.69 259.93h0M1287.01 257.96h0M1288.32 255.61h0M1289.63 253.97h0M1290.92 253.05h0M1292.2 250.92h0M1293.48 250.38h0M1294.76 248.02h0M1296.04 246.16h0M1297.32 245.53h0M1298.6 242.47h0M1299.88 241.98h0M1299.22 242.56h0M1300.47 240.98h0M1301.21 239.39h0M1302.1 237.8h0M1302.75 236.22h0M1304.71 234.63h0M1305.62 233.05h0M1306.67 231.46h0M1308.76 229.88h0M1309.42 228.29h0M1312.08 226.71h0M1312.79 225.12h0M1313.11 223.54h0M1315.01 221.95h0M1314.35 220.37h0M1317.34 218.78h0M1316.84 217.2h0M1318.9 215.61h0M1320.58 214.03h0M1322.22 212.44h0M1324.05 210.86h0M1323.3 209.27h0M1324.69 207.69h0M1326.6 206.1h0M1328.21 204.51h0M1328.19 202.9h0M1330.11 201.29h0M1331.39 199.69h0M1333.12 198.08h0M1333.76 196.47h0M1334.89 194.87h0M1335.51 193.26h0M1336.34 191.65h0M1338.61 189.99h0M1339.44 188.33h0M1341.05 186.66h0M1341.81 185h0M1342.84 183.34h0M1344.57 181.67h0M1344.66 180.01h0M1346.01 178.34h0M1346.6 176.68h0M1348.08 174.97h0M1349.83 173.26h0M1352.12 171.55h0M1352.31 169.84h0M1353.35 168.13h0M1353.08 166.42h0M1355.07 164.71h0M1355.91 163h0M1357.25 161.29h0M1358.08 159.56h0M1358.97 157.77h0M1360.34 155.98h0M1360.58 154.19h0M1361.14 152.41h0M1363.01 150.62h0M1362.52 148.83h0M1364.39 147.04h0M1364.33 145.25h0M1366.94 143.46h0M1366.85 141.67h0M1368.54 139.88h0M1368.82 138.05h0M1368.66 136.21h0M1370.88 134.38h0M1370.27 132.54h0M1371.5 130.71h0M1373.4 128.88h0M1372.77 127.04h0M1373.93 125.21h0M1374.28 123.37h0M1374.3 121.54h0M1377.28 119.71h0M1376.07 117.87h0M1378.73 116.03h0M1378.65 114.19h0M1379.39 112.35h0M1380.28 110.51h0M1380.99 108.67h0M1382.15 106.83h0M1381.98 104.99h0M1383.05 103.15h0M1384.71 101.31h0M1384.63 99.47h0M1385.09 97.63h0M1386.73 95.79h0M1387.71 93.95h0M1387.6 92.11h0M1390.83 90.27h0M1389.29 88.43h0M1390.55 86.59h0M1391.06 84.75h0M1392.04 82.91h0M1391.47 81.07h0M1393.57 79.23h0M1393.63 77.39h0M1394.68 75.55h0M1396.44 73.71h0M1397.06 71.87h0M1396.5 70.03h0M1398.7 68.24h0M1399.21 66.45h0M1399.56 64.66h0M1402.37 62.87h0M1402.06 61.08h0M1403.93 59.29h0M1404.38 57.5h0M1404.63 55.71h0M1404.29 53.93h0M1407.06 52.14h0M1407.85 50.35h0M1408.53 48.56h0M1408.07 46.77h0M1411.05 44.98h0M1410.19 43.19h0M1410.65 42h0M1416.73 42h0M1414.95 43.19h0M1414.61 44.98h0M1413.97 46.77h0M1413.48 48.56h0M1412.23 50.35h0M1410.21 52.14h0M1411.55 53.93h0M1409.64 55.71h0M1408.27 57.5h0M1408.08 59.29h0M1406.85 61.08h0M1405.68 62.87h0M1405.62 64.66h0M1404.8 66.45h0M1403.01 68.24h0M1402.47 70.03h0M1401.63 71.87h0M1401.14 73.71h0M1400.58 75.55h0M1399.8 77.39h0M1397.85 79.23h0M1397.17 81.07h0M1397.55 82.91h0M1396.48 84.75h0M1395.73 86.59h0M1394.78 88.43h0M1392.57 90.27h0M1393.1 92.11h0M1393.78 93.95h0M1391.89 95.79h0M1390.5 97.63h0M1389.47 99.47h0M1389.1 101.31h0M1389.49 103.15h0M1387.72 104.99h0M1386.66 106.83h0M1386.26 108.67h0M1384.25 110.51h0M1383.72 112.35h0M1383.48 114.19h0M1382.59 116.03h0M1380.99 117.87h0M1380.47 119.71h0M1381.78 121.54h0M1379.7 123.37h0M1379.48 125.21h0M1379.73 127.04h0M1378.13 128.88h0M1376.76 130.71h0M1376.31 132.54h0M1374.94 134.38h0M1374.65 136.21h0M1373.01 138.05h0M1372.06 139.88h0M1371.36 141.67h0M1370.78 143.46h0M1371.1 145.25h0M1369.48 147.04h0M1368.27 148.83h0M1367.21 150.62h0M1366.31 152.41h0M1366.89 154.19h0M1363.8 155.98h0M1362.86 157.77h0M1362.61 159.56h0M1362.38 161.29h0M1361.58 163h0M1361.28 164.71h0M1358.78 166.42h0M1355.91 168.13h0M1356.62 169.84h0M1355.27 171.55h0M1354.17 173.26h0M1353.5 174.97h0M1352.3 176.68h0M1350.75 178.34h0M1349.21 180.01h0M1349.26 181.67h0M1347.9 183.34h0M1346.24 185h0M1346.15 186.66h0M1344.39 188.33h0M1342.54 189.99h0M1342.53 191.65h0M1341.22 193.26h0M1338.1 194.87h0M1338.35 196.47h0M1337.87 198.08h0M1335.9 199.69h0M1335.03 201.29h0M1334.04 202.9h0M1331.75 204.51h0M1331.66 206.1h0M1329.68 207.69h0M1328.86 209.27h0M1328.81 210.86h0M1327.27 212.44h0M1325.73 214.03h0M1323.36 215.61h0M1322.37 217.2h0M1320.67 218.78h0M1320.64 220.37h0M1320.11 221.95h0M1316.97 223.54h0M1316.4 225.12h0M1316.16 226.71h0M1313.59 228.29h0M1313.32 229.88h0M1312.54 231.46h0M1309.52 233.05h0M1308.68 234.63h0M1308.04 236.22h0M1307.74 237.8h0M1306.06 239.39h0M1305.16 240.98h0M1303.56 242.56h0M1299.88 247.35h0M1298.6 248.2h0M1297.32 249.59h0M1296.04 251.71h0M1294.76 254.43h0M1293.48 253.98h0M1292.2 257.43h0M1290.92 257.8h0M1289.63 259.42h0M1288.32 260.67h0M1287.01 260.89h0M1285.69 263.81h0M1284.38 265.04h0M1283.07 266.6h0M1281.76 267.72h0M1280.44 269.45h0M1279.11 269.59h0M1277.76 273.11h0M1276.42 271.62h0M1275.07 275.44h0M1273.73 276.42h0M1272.38 277.16h0M1271.04 279.16h0M1269.67 281.46h0M1268.22 281.2h0M1266.77 283.56h0M1265.32 284.9h0M1263.87 286.14h0M1262.42 286.91h0M1260.97 289.4h0M1259.44 290.13h0M1257.77 291.22h0M1256.09 292.21h0M1254.41 293.37h0M1252.74 294.24h0M1251.06 295.45h0M1249.32 296.48h0M1247.48 297.27h0M1245.65 297.68h0M1243.81 298.82h0M1241.97 299.31h0M1240.14 300.27h0M1238.18 300.54h0M1236.21 301.28h0M1234.25 301.27h0M1232.28 301.9h0M1230.3 302.04h0M1228.3 302.22h0M1226.31 302.43h0M1224.32 302.16h0M1222.33 302.91h0M1220.34 302.81h0M1218.35 303.07h0M1216.35 303.08h0M1214.35 303.19h0M1212.35 303.42h0M1210.35 303.37h0M1208.35 303.6h0M1206.36 303.52h0M1204.36 303.73h0M1202.36 304.07h0M1200.36 303.52h0M1198.36 303.81h0M1196.37 304.18h0M1194.37 303.77h0M1192.37 304.28h0M1190.37 304.33h0M1188.38 304.49h0M1186.38 304.41h0M1184.38 304.45h0M1182.38 304.64h0M1180.39 304.49h0M1178.39 304.96h0M1176.4 305.11h0M1174.4 305.17h0M1172.4 305.21h0M1170.41 305.38h0M1168.41 305.51h0M1166.42 305.57h0M1164.42 306h0M1162.43 306.14h0M1160.43 306.07h0M1158.44 306.46h0M1156.44 306.26h0M1154.45 306.78h0M1152.46 306.81h0M1150.47 307.01h0M1148.48 307.15h0M1146.48 307.33h0M1144.49 307.67h0M1142.5 307.52h0M1140.51 307.99h0M1138.51 308.28h0M1136.52 308.37h0M1134.53 308.59h0M1132.54 308.71h0M1130.55 308.7h0M1128.56 309.13h0M1126.57 309.16h0M1124.59 309.4h0M1122.6 309.67h0M1120.61 310.01h0M1118.62 310.05h0M1116.63 310.51h0M1114.64 310.35h0M1112.65 310.78h0M1110.66 310.84h0M1108.68 311.4h0M1106.7 311.44h0M1104.72 311.98h0M1102.74 312.27h0M1100.76 312.14h0M1098.78 312.45h0M1096.8 312.98h0M1094.82 312.93h0M1092.84 313.29h0M1090.86 313.48h0M1088.88 314.09h0M1086.9 314.38h0M1084.93 314.58h0M1082.96 314.8h0M1080.99 315.29h0M1079.03 315.92h0M1077.06 316.06h0M1075.09 316.43h0M1073.12 316.93h0M1071.15 316.89h0M1069.19 317.25h0M1067.23 317.47h0M1065.27 318.37h0M1063.31 318.63h0M1061.35 319.32h0M1059.39 319.64h0M1057.44 319.73h0M1055.48 320.24h0M1053.52 320.71h0M1051.56 321.1h0M1049.57 321.41h0M1047.59 321.52h0M1045.6 321.94h0M1043.62 322.11h0M1041.63 322.35h0M1039.65 322.17h0M1037.66 322.86h0M1035.68 323.21h0M1033.73 323.44h0M1031.77 323.97h0M1029.82 324.74h0M1027.86 324.77h0M1025.91 325.39h0M1023.96 326.02h0M1022 326.15h0M1020.07 327.16h0M1018.15 327.56h0M1016.23 326.79h0M1014.31 327.52h0M1012.39 328.59h0M1010.47 329.27h0M1008.6 330.47h0M1006.74 332.22h0M1004.88 332.36h0M1003.03 332.82h0M1001.17 334.69h0M999.31 335.12h0M997.49 335.41h0M995.75 337.66h0M994.02 338.27h0M992.28 337.31h0M990.54 339.15h0M988.8 340.99h0M987.1 342.59h0M985.43 343.2h0M983.75 344.38h0M982.08 345.38h0M980.41 346.31h0M978.73 348.01h0M977.06 347.93h0M975.42 347.86h0M973.78 351.2h0M972.14 352.14h0M970.5 351.73h0M968.87 353.95h0M967.26 354.66h0M965.7 356.39h0M964.13 357.18h0M962.56 359.61h0M961 361.29h0M959.43 362.48h0M957.8 363.04h0M956.02 363.45h0M954.24 364.74h0M952.46 366.83h0M950.68 365.81h0M948.9 367.97h0M947.12 369.6h0M945.34 369.01h0M943.55 370.78h0M941.76 371.46h0M939.97 371.94h0M938.18 374.22h0M936.4 375.51h0M934.76 375.68h0M933.65 376.64h0M932.54 378.74h0M931.43 380.13h0M930.32 380.92h0M929.21 384.17h0M928.1 386.11h0M927.11 387.39h0M926.13 389.19h0M925.14 391.08h0M924.16 392.39h0M923.18 394.08h0M922.2 396.42h0" stroke="#000" stroke-width="5.8" stroke-linecap="round" fill="none"/>
<path d="M1382 38.6H1405.5" stroke="#000" stroke-width="5.6" stroke-linecap="round"/>
<path d="M903.0 38.7h8.8M903.0 64.95h4.6M903.0 91.2h8.8M903.0 117.45h4.6M903.0 143.7h8.8M903.0 169.95h4.6M903.0 196.2h8.8M903.0 222.45h4.6M903.0 248.7h8.8M903.0 274.95h4.6M903.0 301.2h8.8M903.0 327.45h4.6M903.0 353.7h8.8M903.0 379.95h4.6M903.0 406.2h8.8M903.0 432.45h4.6M903.0 458.7h8.8M903.0 484.95h4.6M903.0 511.2h8.8" stroke="#000" stroke-width="3.6" fill="none"/><path d="M949.3 511.5v-8.9M1039.4 511.5v-8.9M1129.5 511.5v-8.9M1219.6 511.5v-8.9M1309.7 511.5v-8.9M1399.8 511.5v-8.9M1489.9 511.5v-8.9M994.35 511.5v-4.5M1084.45 511.5v-4.5M1174.55 511.5v-4.5M1264.65 511.5v-4.5M1354.75 511.5v-4.5M1444.85 511.5v-4.5" stroke="#000" stroke-width="2.9" fill="none"/>
<rect x="903.0" y="38.8" width="586.8" height="472.7" fill="none" stroke="#000" stroke-width="3.6"/>
<text x="892" y="48.2" font-size="29.6" text-anchor="end" fill="#000">1.0</text>
<text x="892" y="100.7" font-size="29.6" text-anchor="end" fill="#000">0.8</text>
<text x="892" y="153.2" font-size="29.6" text-anchor="end" fill="#000">0.6</text>
<text x="892" y="205.7" font-size="29.6" text-anchor="end" fill="#000">0.4</text>
<text x="892" y="258.2" font-size="29.6" text-anchor="end" fill="#000">0.2</text>
<text x="892" y="310.7" font-size="29.6" text-anchor="end" fill="#000">0.0</text>
<text x="892" y="363.2" font-size="29.6" text-anchor="end" fill="#000">-0.2</text>
<text x="892" y="415.7" font-size="29.6" text-anchor="end" fill="#000">-0.4</text>
<text x="892" y="468.2" font-size="29.6" text-anchor="end" fill="#000">-0.6</text>
<text x="892" y="520.7" font-size="29.6" text-anchor="end" fill="#000">-0.8</text>
<text x="947.5" y="545.3" font-size="29.6" text-anchor="middle" fill="#000">-6</text>
<text x="1037.6" y="545.3" font-size="29.6" text-anchor="middle" fill="#000">-4</text>
<text x="1127.7" y="545.3" font-size="29.6" text-anchor="middle" fill="#000">-2</text>
<text x="1219.6" y="545.3" font-size="29.6" text-anchor="middle" fill="#000">0</text>
<text x="1309.7" y="545.3" font-size="29.6" text-anchor="middle" fill="#000">2</text>
<text x="1399.8" y="545.3" font-size="29.6" text-anchor="middle" fill="#000">4</text>
<text x="1489.9" y="545.3" font-size="29.6" text-anchor="middle" fill="#000">6</text>
<text x="1203.6" y="588" font-size="29.3" text-anchor="middle" fill="#000">Voltage (V)</text>
<text transform="translate(830.4,250.8) rotate(-90)" font-size="29" text-anchor="middle">Current (μA)</text>
<path d="M964.4 87.2H1018.8" stroke="#000" stroke-width="0.9"/><circle cx="991.6" cy="87.2" r="3.1" fill="#000"/>
<text x="1026" y="95.7" font-size="24.2" text-anchor="start" fill="#000">With PMMA</text>
<path d="M1226 342.4H1281" stroke="#000" stroke-width="0.9"/><circle cx="1253.3" cy="342.4" r="2.5" fill="#fff" stroke="#000" stroke-width="0.9"/>
<text x="1288" y="350.4" font-size="24.2" text-anchor="start" fill="#000">Without PMMA</text>
<text x="798" y="49" font-size="52" text-anchor="start" fill="#000">c</text>
<g stroke-linecap="butt" fill="none">
<path d="M212.7 791.8L194.55 760.18" stroke="#64a782" stroke-width="6.2"/><path d="M194.55 760.18L177.8 731" stroke="#d7aa62" stroke-width="6.2"/>
<path d="M212.7 791.8L249 760.18" stroke="#64a782" stroke-width="5.4"/><path d="M249 760.18L282.5 731" stroke="#d7aa62" stroke-width="5.4"/><path d="M212.7 791.8L249 760.18" stroke="#c9ead7" stroke-width="1.62"/><path d="M249 760.18L282.5 731" stroke="#fbeed0" stroke-width="1.62"/>
<path d="M317.5 791.8L299.35 760.18" stroke="#64a782" stroke-width="6.2"/><path d="M299.35 760.18L282.6 731" stroke="#d7aa62" stroke-width="6.2"/>
<path d="M317.5 791.8L353.8 760.18" stroke="#64a782" stroke-width="5.4"/><path d="M353.8 760.18L387.3 731" stroke="#d7aa62" stroke-width="5.4"/><path d="M317.5 791.8L353.8 760.18" stroke="#c9ead7" stroke-width="1.62"/><path d="M353.8 760.18L387.3 731" stroke="#fbeed0" stroke-width="1.62"/>
<path d="M422.3 791.8L404.15 760.18" stroke="#64a782" stroke-width="6.2"/><path d="M404.15 760.18L387.4 731" stroke="#d7aa62" stroke-width="6.2"/>
<path d="M422.3 791.8L458.6 760.18" stroke="#64a782" stroke-width="5.4"/><path d="M458.6 760.18L492.1 731" stroke="#d7aa62" stroke-width="5.4"/><path d="M422.3 791.8L458.6 760.18" stroke="#c9ead7" stroke-width="1.62"/><path d="M458.6 760.18L492.1 731" stroke="#fbeed0" stroke-width="1.62"/>
<path d="M527.1 791.8L508.95 760.18" stroke="#64a782" stroke-width="6.2"/><path d="M508.95 760.18L492.2 731" stroke="#d7aa62" stroke-width="6.2"/>
<path d="M527.1 791.8L563.4 760.18" stroke="#64a782" stroke-width="5.4"/><path d="M563.4 760.18L596.9 731" stroke="#d7aa62" stroke-width="5.4"/><path d="M527.1 791.8L563.4 760.18" stroke="#c9ead7" stroke-width="1.62"/><path d="M563.4 760.18L596.9 731" stroke="#fbeed0" stroke-width="1.62"/>
<path d="M282.2 1026.4L317.1 995.7" stroke="#64a782" stroke-width="4.6"/><path d="M317.1 995.7L352 965" stroke="#d7aa62" stroke-width="4.6"/><path d="M282.2 1026.4L317.1 995.7" stroke="#c9ead7" stroke-width="1.38"/><path d="M317.1 995.7L352 965" stroke="#fbeed0" stroke-width="1.38"/>
<path d="M387 1026.4L421.9 995.7" stroke="#64a782" stroke-width="4.6"/><path d="M421.9 995.7L456.8 965" stroke="#d7aa62" stroke-width="4.6"/><path d="M387 1026.4L421.9 995.7" stroke="#c9ead7" stroke-width="1.38"/><path d="M421.9 995.7L456.8 965" stroke="#fbeed0" stroke-width="1.38"/>
<path d="M491.8 1026.4L526.7 995.7" stroke="#64a782" stroke-width="4.6"/><path d="M526.7 995.7L561.6 965" stroke="#d7aa62" stroke-width="4.6"/><path d="M491.8 1026.4L526.7 995.7" stroke="#c9ead7" stroke-width="1.38"/><path d="M526.7 995.7L561.6 965" stroke="#fbeed0" stroke-width="1.38"/>
<path d="M282.2 1026.4L264.16 1057.18" stroke="#64a782" stroke-width="6.2"/><path d="M264.16 1057.18L247.5 1085.6" stroke="#d7aa62" stroke-width="6.2"/>
<path d="M282.2 1026.4L318.55 1057.18" stroke="#64a782" stroke-width="5.4"/><path d="M318.55 1057.18L352.1 1085.6" stroke="#d7aa62" stroke-width="5.4"/><path d="M282.2 1026.4L318.55 1057.18" stroke="#c9ead7" stroke-width="1.62"/><path d="M318.55 1057.18L352.1 1085.6" stroke="#fbeed0" stroke-width="1.62"/>
<path d="M387 1026.4L368.96 1057.18" stroke="#64a782" stroke-width="6.2"/><path d="M368.96 1057.18L352.3 1085.6" stroke="#d7aa62" stroke-width="6.2"/>
<path d="M387 1026.4L423.35 1057.18" stroke="#64a782" stroke-width="5.4"/><path d="M423.35 1057.18L456.9 1085.6" stroke="#d7aa62" stroke-width="5.4"/><path d="M387 1026.4L423.35 1057.18" stroke="#c9ead7" stroke-width="1.62"/><path d="M423.35 1057.18L456.9 1085.6" stroke="#fbeed0" stroke-width="1.62"/>
<path d="M491.8 1026.4L473.76 1057.18" stroke="#64a782" stroke-width="6.2"/><path d="M473.76 1057.18L457.1 1085.6" stroke="#d7aa62" stroke-width="6.2"/>
<path d="M491.8 1026.4L528.15 1057.18" stroke="#64a782" stroke-width="5.4"/><path d="M528.15 1057.18L561.7 1085.6" stroke="#d7aa62" stroke-width="5.4"/><path d="M491.8 1026.4L528.15 1057.18" stroke="#c9ead7" stroke-width="1.62"/><path d="M528.15 1057.18L561.7 1085.6" stroke="#fbeed0" stroke-width="1.62"/>
</g>
<circle cx="282.2" cy="1026.4" r="21" fill="url(#gW)"/>
<circle cx="387" cy="1026.4" r="21" fill="url(#gW)"/>
<circle cx="491.8" cy="1026.4" r="21" fill="url(#gW)"/>
<g clip-path="url(#clipD)"><path d="M206.92 764.53C207.02 763.41 208.12 761.88 209.07 761.16C210.01 760.44 211.37 760.24 212.59 760.24C213.82 760.24 215.48 760.44 216.43 761.16C217.37 761.88 218.27 763.41 218.27 764.53C218.27 765.66 217.19 767.14 216.43 767.91C215.66 768.67 214.26 768.55 213.67 769.13C213.08 769.72 213.21 771.05 212.9 771.43C212.59 771.82 212.11 771.82 211.83 771.43C211.55 771.05 211.78 769.72 211.21 769.13C210.65 768.55 209.17 768.67 208.45 767.91C207.74 767.14 206.82 765.66 206.92 764.53Z" fill="url(#gRed)" stroke="#b9434f" stroke-width="1.3" stroke-opacity="0.75" stroke-linejoin="round" />
<path d="M183 792.9C183 790.75 184.28 789.6 186.07 788.76C187.86 787.92 191.56 787.28 193.73 787.84C195.91 788.4 198.21 789.88 199.1 792.13C200 794.38 200.25 799.24 199.1 801.33C197.95 803.43 194.37 804.66 192.2 804.71C190.03 804.76 187.6 803.61 186.07 801.64C184.53 799.67 183 795.05 183 792.9Z" fill="url(#gRed)" stroke="#b9434f" stroke-width="1.3" stroke-opacity="0.75" stroke-linejoin="round" />
<path d="M230.53 792.13C231.94 789.78 235.65 788.63 238.2 787.99C240.76 787.35 243.64 787.48 245.87 788.3C248.09 789.12 250.85 790.98 251.54 792.9C252.23 794.82 251.46 797.88 250.01 799.8C248.55 801.72 245.28 803.38 242.8 804.4C240.32 805.42 237.31 806.32 235.13 805.93C232.96 805.55 230.53 804.4 229.77 802.1C229 799.8 229.13 794.48 230.53 792.13Z" fill="url(#gRed)" stroke="#b9434f" stroke-width="1.3" stroke-opacity="0.75" stroke-linejoin="round" />
<path d="M203.24 809C204.57 808.11 207.25 812.12 210.6 812.07C213.95 812.02 221.08 806.9 223.33 808.69C225.58 810.48 224.38 818.66 224.09 822.8C223.81 826.94 223.07 830.82 221.64 833.53C220.21 836.24 217.81 838.39 215.51 839.05C213.21 839.72 209.78 839.21 207.84 837.52C205.9 835.83 204.72 832.28 203.85 828.93C202.99 825.59 202.73 820.76 202.63 817.43C202.53 814.11 201.91 809.89 203.24 809Z" fill="url(#gRed)" stroke="#b9434f" stroke-width="1.3" stroke-opacity="0.75" stroke-linejoin="round" />
<path d="M311.72 764.53C311.82 763.41 312.92 761.88 313.87 761.16C314.81 760.44 316.17 760.24 317.39 760.24C318.62 760.24 320.28 760.44 321.23 761.16C322.17 761.88 323.07 763.41 323.07 764.53C323.07 765.66 321.99 767.14 321.23 767.91C320.46 768.67 319.06 768.55 318.47 769.13C317.88 769.72 318.01 771.05 317.7 771.43C317.39 771.82 316.91 771.82 316.63 771.43C316.35 771.05 316.58 769.72 316.01 769.13C315.45 768.55 313.97 768.67 313.25 767.91C312.54 767.14 311.62 765.66 311.72 764.53Z" fill="url(#gRed)" stroke="#b9434f" stroke-width="1.3" stroke-opacity="0.75" stroke-linejoin="round" />
<path d="M287.8 792.9C287.8 790.75 289.08 789.6 290.87 788.76C292.66 787.92 296.36 787.28 298.53 787.84C300.71 788.4 303.01 789.88 303.9 792.13C304.8 794.38 305.05 799.24 303.9 801.33C302.75 803.43 299.17 804.66 297 804.71C294.83 804.76 292.4 803.61 290.87 801.64C289.33 799.67 287.8 795.05 287.8 792.9Z" fill="url(#gRed)" stroke="#b9434f" stroke-width="1.3" stroke-opacity="0.75" stroke-linejoin="round" />
<path d="M335.33 792.13C336.74 789.78 340.45 788.63 343 787.99C345.56 787.35 348.44 787.48 350.67 788.3C352.89 789.12 355.65 790.98 356.34 792.9C357.03 794.82 356.26 797.88 354.81 799.8C353.35 801.72 350.08 803.38 347.6 804.4C345.12 805.42 342.11 806.32 339.93 805.93C337.76 805.55 335.33 804.4 334.57 802.1C333.8 799.8 333.93 794.48 335.33 792.13Z" fill="url(#gRed)" stroke="#b9434f" stroke-width="1.3" stroke-opacity="0.75" stroke-linejoin="round" />
<path d="M308.04 809C309.37 808.11 312.05 812.12 315.4 812.07C318.75 812.02 325.88 806.9 328.13 808.69C330.38 810.48 329.18 818.66 328.89 822.8C328.61 826.94 327.87 830.82 326.44 833.53C325.01 836.24 322.61 838.39 320.31 839.05C318.01 839.72 314.58 839.21 312.64 837.52C310.7 835.83 309.52 832.28 308.65 828.93C307.79 825.59 307.53 820.76 307.43 817.43C307.33 814.11 306.71 809.89 308.04 809Z" fill="url(#gRed)" stroke="#b9434f" stroke-width="1.3" stroke-opacity="0.75" stroke-linejoin="round" />
<path d="M416.52 764.53C416.62 763.41 417.72 761.88 418.67 761.16C419.61 760.44 420.97 760.24 422.19 760.24C423.42 760.24 425.08 760.44 426.03 761.16C426.97 761.88 427.87 763.41 427.87 764.53C427.87 765.66 426.79 767.14 426.03 767.91C425.26 768.67 423.86 768.55 423.27 769.13C422.68 769.72 422.81 771.05 422.5 771.43C422.19 771.82 421.71 771.82 421.43 771.43C421.15 771.05 421.38 769.72 420.81 769.13C420.25 768.55 418.77 768.67 418.05 767.91C417.34 767.14 416.42 765.66 416.52 764.53Z" fill="url(#gRed)" stroke="#b9434f" stroke-width="1.3" stroke-opacity="0.75" stroke-linejoin="round" />
<path d="M392.6 792.9C392.6 790.75 393.88 789.6 395.67 788.76C397.46 787.92 401.16 787.28 403.33 787.84C405.51 788.4 407.81 789.88 408.7 792.13C409.6 794.38 409.85 799.24 408.7 801.33C407.55 803.43 403.97 804.66 401.8 804.71C399.63 804.76 397.2 803.61 395.67 801.64C394.13 799.67 392.6 795.05 392.6 792.9Z" fill="url(#gRed)" stroke="#b9434f" stroke-width="1.3" stroke-opacity="0.75" stroke-linejoin="round" />
<path d="M440.13 792.13C441.54 789.78 445.25 788.63 447.8 787.99C450.36 787.35 453.24 787.48 455.47 788.3C457.69 789.12 460.45 790.98 461.14 792.9C461.83 794.82 461.06 797.88 459.61 799.8C458.15 801.72 454.88 803.38 452.4 804.4C449.92 805.42 446.91 806.32 444.73 805.93C442.56 805.55 440.13 804.4 439.37 802.1C438.6 799.8 438.73 794.48 440.13 792.13Z" fill="url(#gRed)" stroke="#b9434f" stroke-width="1.3" stroke-opacity="0.75" stroke-linejoin="round" />
<path d="M412.84 809C414.17 808.11 416.85 812.12 420.2 812.07C423.55 812.02 430.68 806.9 432.93 808.69C435.18 810.48 433.98 818.66 433.69 822.8C433.41 826.94 432.67 830.82 431.24 833.53C429.81 836.24 427.41 838.39 425.11 839.05C422.81 839.72 419.38 839.21 417.44 837.52C415.5 835.83 414.32 832.28 413.45 828.93C412.59 825.59 412.33 820.76 412.23 817.43C412.13 814.11 411.51 809.89 412.84 809Z" fill="url(#gRed)" stroke="#b9434f" stroke-width="1.3" stroke-opacity="0.75" stroke-linejoin="round" />
<path d="M521.32 764.53C521.42 763.41 522.52 761.88 523.47 761.16C524.41 760.44 525.77 760.24 526.99 760.24C528.22 760.24 529.88 760.44 530.83 761.16C531.77 761.88 532.67 763.41 532.67 764.53C532.67 765.66 531.59 767.14 530.83 767.91C530.06 768.67 528.66 768.55 528.07 769.13C527.48 769.72 527.61 771.05 527.3 771.43C526.99 771.82 526.51 771.82 526.23 771.43C525.95 771.05 526.18 769.72 525.61 769.13C525.05 768.55 523.57 768.67 522.85 767.91C522.14 767.14 521.22 765.66 521.32 764.53Z" fill="url(#gRed)" stroke="#b9434f" stroke-width="1.3" stroke-opacity="0.75" stroke-linejoin="round" />
<path d="M497.4 792.9C497.4 790.75 498.68 789.6 500.47 788.76C502.26 787.92 505.96 787.28 508.13 787.84C510.31 788.4 512.61 789.88 513.5 792.13C514.4 794.38 514.65 799.24 513.5 801.33C512.35 803.43 508.77 804.66 506.6 804.71C504.43 804.76 502 803.61 500.47 801.64C498.93 799.67 497.4 795.05 497.4 792.9Z" fill="url(#gRed)" stroke="#b9434f" stroke-width="1.3" stroke-opacity="0.75" stroke-linejoin="round" />
<path d="M544.93 792.13C546.34 789.78 550.05 788.63 552.6 787.99C555.16 787.35 558.04 787.48 560.27 788.3C562.49 789.12 565.25 790.98 565.94 792.9C566.63 794.82 565.86 797.88 564.41 799.8C562.95 801.72 559.68 803.38 557.2 804.4C554.72 805.42 551.71 806.32 549.53 805.93C547.36 805.55 544.93 804.4 544.17 802.1C543.4 799.8 543.53 794.48 544.93 792.13Z" fill="url(#gRed)" stroke="#b9434f" stroke-width="1.3" stroke-opacity="0.75" stroke-linejoin="round" />
<path d="M517.64 809C518.97 808.11 521.65 812.12 525 812.07C528.35 812.02 535.48 806.9 537.73 808.69C539.98 810.48 538.78 818.66 538.49 822.8C538.21 826.94 537.47 830.82 536.04 833.53C534.61 836.24 532.21 838.39 529.91 839.05C527.61 839.72 524.18 839.21 522.24 837.52C520.3 835.83 519.12 832.28 518.25 828.93C517.39 825.59 517.13 820.76 517.03 817.43C516.93 814.11 516.31 809.89 517.64 809Z" fill="url(#gRed)" stroke="#b9434f" stroke-width="1.3" stroke-opacity="0.75" stroke-linejoin="round" />
<path d="M133.17 823.57C132.91 820.88 134.06 817.97 137 816.21C139.94 814.44 144.67 813.68 150.8 812.99C156.93 812.3 166.9 811.96 173.8 812.07C180.7 812.17 187.6 812.32 192.2 813.6C196.8 814.88 199.69 816.97 201.4 819.73C203.11 822.49 203.45 827.22 202.47 830.16C201.5 833.1 199.84 835.78 195.57 837.37C191.31 838.95 183.82 839.74 176.87 839.67C169.92 839.59 160.26 838.13 153.87 836.91C147.48 835.68 141.98 834.53 138.53 832.31C135.08 830.08 133.42 826.25 133.17 823.57Z" fill="url(#gLB)" stroke="#3b9dbb" stroke-width="1.3" stroke-opacity="0.75" stroke-linejoin="round" />
<path d="M136.23 855C135.72 852.19 137.38 848.1 140.07 846.11C142.75 844.11 146.2 843.68 152.33 843.04C158.47 842.4 168.94 842.07 176.87 842.27C184.79 842.48 194.19 843.3 199.87 844.27C205.54 845.24 208.76 845.93 210.91 848.1C213.05 850.27 212.95 854.11 212.75 857.3C212.54 860.5 212.08 864.66 209.68 867.27C207.28 869.87 203.29 872.38 198.33 872.94C193.38 873.5 186.07 871.28 179.93 870.64C173.8 870 167.67 870.39 161.53 869.11C155.4 867.83 147.35 865.33 143.13 862.97C138.92 860.62 136.74 857.81 136.23 855Z" fill="url(#gRed)" stroke="#b9434f" stroke-width="1.3" stroke-opacity="0.75" stroke-linejoin="round" />
<path d="M237.97 823.57C237.71 820.88 238.86 817.97 241.8 816.21C244.74 814.44 249.47 813.68 255.6 812.99C261.73 812.3 271.7 811.96 278.6 812.07C285.5 812.17 292.4 812.32 297 813.6C301.6 814.88 304.49 816.97 306.2 819.73C307.91 822.49 308.25 827.22 307.27 830.16C306.3 833.1 304.64 835.78 300.37 837.37C296.11 838.95 288.62 839.74 281.67 839.67C274.72 839.59 265.06 838.13 258.67 836.91C252.28 835.68 246.78 834.53 243.33 832.31C239.88 830.08 238.22 826.25 237.97 823.57Z" fill="url(#gLB)" stroke="#3b9dbb" stroke-width="1.3" stroke-opacity="0.75" stroke-linejoin="round" />
<path d="M241.03 855C240.52 852.19 242.18 848.1 244.87 846.11C247.55 844.11 251 843.68 257.13 843.04C263.27 842.4 273.74 842.07 281.67 842.27C289.59 842.48 298.99 843.3 304.67 844.27C310.34 845.24 313.56 845.93 315.71 848.1C317.85 850.27 317.75 854.11 317.55 857.3C317.34 860.5 316.88 864.66 314.48 867.27C312.08 869.87 308.09 872.38 303.13 872.94C298.18 873.5 290.87 871.28 284.73 870.64C278.6 870 272.47 870.39 266.33 869.11C260.2 867.83 252.15 865.33 247.93 862.97C243.72 860.62 241.54 857.81 241.03 855Z" fill="url(#gRed)" stroke="#b9434f" stroke-width="1.3" stroke-opacity="0.75" stroke-linejoin="round" />
<path d="M342.77 823.57C342.51 820.88 343.66 817.97 346.6 816.21C349.54 814.44 354.27 813.68 360.4 812.99C366.53 812.3 376.5 811.96 383.4 812.07C390.3 812.17 397.2 812.32 401.8 813.6C406.4 814.88 409.29 816.97 411 819.73C412.71 822.49 413.05 827.22 412.07 830.16C411.1 833.1 409.44 835.78 405.17 837.37C400.91 838.95 393.42 839.74 386.47 839.67C379.52 839.59 369.86 838.13 363.47 836.91C357.08 835.68 351.58 834.53 348.13 832.31C344.68 830.08 343.02 826.25 342.77 823.57Z" fill="url(#gLB)" stroke="#3b9dbb" stroke-width="1.3" stroke-opacity="0.75" stroke-linejoin="round" />
<path d="M345.83 855C345.32 852.19 346.98 848.1 349.67 846.11C352.35 844.11 355.8 843.68 361.93 843.04C368.07 842.4 378.54 842.07 386.47 842.27C394.39 842.48 403.79 843.3 409.47 844.27C415.14 845.24 418.36 845.93 420.51 848.1C422.65 850.27 422.55 854.11 422.35 857.3C422.14 860.5 421.68 864.66 419.28 867.27C416.88 869.87 412.89 872.38 407.93 872.94C402.98 873.5 395.67 871.28 389.53 870.64C383.4 870 377.27 870.39 371.13 869.11C365 867.83 356.95 865.33 352.73 862.97C348.52 860.62 346.34 857.81 345.83 855Z" fill="url(#gRed)" stroke="#b9434f" stroke-width="1.3" stroke-opacity="0.75" stroke-linejoin="round" />
<path d="M447.57 823.57C447.31 820.88 448.46 817.97 451.4 816.21C454.34 814.44 459.07 813.68 465.2 812.99C471.33 812.3 481.3 811.96 488.2 812.07C495.1 812.17 502 812.32 506.6 813.6C511.2 814.88 514.09 816.97 515.8 819.73C517.51 822.49 517.85 827.22 516.87 830.16C515.9 833.1 514.24 835.78 509.97 837.37C505.71 838.95 498.22 839.74 491.27 839.67C484.32 839.59 474.66 838.13 468.27 836.91C461.88 835.68 456.38 834.53 452.93 832.31C449.48 830.08 447.82 826.25 447.57 823.57Z" fill="url(#gLB)" stroke="#3b9dbb" stroke-width="1.3" stroke-opacity="0.75" stroke-linejoin="round" />
<path d="M450.63 855C450.12 852.19 451.78 848.1 454.47 846.11C457.15 844.11 460.6 843.68 466.73 843.04C472.87 842.4 483.34 842.07 491.27 842.27C499.19 842.48 508.59 843.3 514.27 844.27C519.94 845.24 523.16 845.93 525.31 848.1C527.45 850.27 527.35 854.11 527.15 857.3C526.94 860.5 526.48 864.66 524.08 867.27C521.68 869.87 517.69 872.38 512.73 872.94C507.78 873.5 500.47 871.28 494.33 870.64C488.2 870 482.07 870.39 475.93 869.11C469.8 867.83 461.75 865.33 457.53 862.97C453.32 860.62 451.14 857.81 450.63 855Z" fill="url(#gRed)" stroke="#b9434f" stroke-width="1.3" stroke-opacity="0.75" stroke-linejoin="round" />
<path d="M552.37 823.57C552.11 820.88 553.26 817.97 556.2 816.21C559.14 814.44 563.87 813.68 570 812.99C576.13 812.3 586.1 811.96 593 812.07C599.9 812.17 606.8 812.32 611.4 813.6C616 814.88 618.89 816.97 620.6 819.73C622.31 822.49 622.65 827.22 621.67 830.16C620.7 833.1 619.04 835.78 614.77 837.37C610.51 838.95 603.02 839.74 596.07 839.67C589.12 839.59 579.46 838.13 573.07 836.91C566.68 835.68 561.18 834.53 557.73 832.31C554.28 830.08 552.62 826.25 552.37 823.57Z" fill="url(#gLB)" stroke="#3b9dbb" stroke-width="1.3" stroke-opacity="0.75" stroke-linejoin="round" />
<path d="M555.43 855C554.92 852.19 556.58 848.1 559.27 846.11C561.95 844.11 565.4 843.68 571.53 843.04C577.67 842.4 588.14 842.07 596.07 842.27C603.99 842.48 613.39 843.3 619.07 844.27C624.74 845.24 627.96 845.93 630.11 848.1C632.25 850.27 632.15 854.11 631.95 857.3C631.74 860.5 631.28 864.66 628.88 867.27C626.48 869.87 622.49 872.38 617.53 872.94C612.58 873.5 605.27 871.28 599.13 870.64C593 870 586.87 870.39 580.73 869.11C574.6 867.83 566.55 865.33 562.33 862.97C558.12 860.62 555.94 857.81 555.43 855Z" fill="url(#gRed)" stroke="#b9434f" stroke-width="1.3" stroke-opacity="0.75" stroke-linejoin="round" />
<path d="M107.87 914.16C109.66 914.21 115.66 913.6 118.6 914.47C121.54 915.34 123.33 917.84 125.5 919.37C127.67 920.91 129.15 923.31 131.63 923.67C134.11 924.02 137.18 921.47 140.37 921.52C143.57 921.57 146.76 923.56 150.8 923.97C154.84 924.38 160.26 924.54 164.6 923.97C168.94 923.41 173.29 921.93 176.87 920.6C180.44 919.27 183.26 917.05 186.07 916C188.88 914.95 191.18 914.7 193.73 914.31C196.29 913.93 199.1 913.52 201.4 913.7C203.7 913.88 205.66 915.31 207.53 915.39C209.41 915.46 210.02 914.31 212.67 914.16C215.31 914.01 220.46 913.6 223.4 914.47C226.34 915.34 228.13 917.84 230.3 919.37C232.47 920.91 233.95 923.31 236.43 923.67C238.91 924.02 241.98 921.47 245.17 921.52C248.37 921.57 251.56 923.56 255.6 923.97C259.64 924.38 265.06 924.54 269.4 923.97C273.74 923.41 278.09 921.93 281.67 920.6C285.24 919.27 288.06 917.05 290.87 916C293.68 914.95 295.98 914.7 298.53 914.31C301.09 913.93 303.9 913.52 306.2 913.7C308.5 913.88 310.46 915.31 312.33 915.39C314.21 915.46 314.82 914.31 317.47 914.16C320.11 914.01 325.26 913.6 328.2 914.47C331.14 915.34 332.93 917.84 335.1 919.37C337.27 920.91 338.75 923.31 341.23 923.67C343.71 924.02 346.78 921.47 349.97 921.52C353.17 921.57 356.36 923.56 360.4 923.97C364.44 924.38 369.86 924.54 374.2 923.97C378.54 923.41 382.89 921.93 386.47 920.6C390.04 919.27 392.86 917.05 395.67 916C398.48 914.95 400.78 914.7 403.33 914.31C405.89 913.93 408.7 913.52 411 913.7C413.3 913.88 415.26 915.31 417.13 915.39C419.01 915.46 419.62 914.31 422.27 914.16C424.91 914.01 430.06 913.6 433 914.47C435.94 915.34 437.73 917.84 439.9 919.37C442.07 920.91 443.55 923.31 446.03 923.67C448.51 924.02 451.58 921.47 454.77 921.52C457.97 921.57 461.16 923.56 465.2 923.97C469.24 924.38 474.66 924.54 479 923.97C483.34 923.41 487.69 921.93 491.27 920.6C494.84 919.27 497.66 917.05 500.47 916C503.28 914.95 505.58 914.7 508.13 914.31C510.69 913.93 513.5 913.52 515.8 913.7C518.1 913.88 520.06 915.31 521.93 915.39C523.81 915.46 524.42 914.31 527.07 914.16C529.71 914.01 534.86 913.6 537.8 914.47C540.74 915.34 542.53 917.84 544.7 919.37C546.87 920.91 548.35 923.31 550.83 923.67C553.31 924.02 556.38 921.47 559.57 921.52C562.77 921.57 565.96 923.56 570 923.97C574.04 924.38 579.46 924.54 583.8 923.97C588.14 923.41 592.49 921.93 596.07 920.6C599.64 919.27 602.46 917.05 605.27 916C608.08 914.95 610.38 914.7 612.93 914.31C615.49 913.93 618.3 913.52 620.6 913.7C622.9 913.88 624.86 915.31 626.73 915.39C628.61 915.46 631.01 914.36 631.87 914.16L631.87 946.67C630.5 946.62 627.08 946.36 623.67 946.36C620.26 946.36 614.98 946.49 611.4 946.67C607.82 946.85 605.27 947.43 602.2 947.43C599.13 947.43 596.07 947.1 593 946.67C589.93 946.23 587.12 944.9 583.8 944.83C580.48 944.75 577.41 946.1 573.07 946.21C568.72 946.31 562.84 945.44 557.73 945.44C552.62 945.44 547.51 946 542.4 946.21C537.29 946.41 530.99 946.64 527.07 946.67C523.14 946.69 522.28 946.36 518.87 946.36C515.46 946.36 510.18 946.49 506.6 946.67C503.02 946.85 500.47 947.43 497.4 947.43C494.33 947.43 491.27 947.1 488.2 946.67C485.13 946.23 482.32 944.9 479 944.83C475.68 944.75 472.61 946.1 468.27 946.21C463.92 946.31 458.04 945.44 452.93 945.44C447.82 945.44 442.71 946 437.6 946.21C432.49 946.41 426.19 946.64 422.27 946.67C418.34 946.69 417.48 946.36 414.07 946.36C410.66 946.36 405.38 946.49 401.8 946.67C398.22 946.85 395.67 947.43 392.6 947.43C389.53 947.43 386.47 947.1 383.4 946.67C380.33 946.23 377.52 944.9 374.2 944.83C370.88 944.75 367.81 946.1 363.47 946.21C359.12 946.31 353.24 945.44 348.13 945.44C343.02 945.44 337.91 946 332.8 946.21C327.69 946.41 321.39 946.64 317.47 946.67C313.54 946.69 312.68 946.36 309.27 946.36C305.86 946.36 300.58 946.49 297 946.67C293.42 946.85 290.87 947.43 287.8 947.43C284.73 947.43 281.67 947.1 278.6 946.67C275.53 946.23 272.72 944.9 269.4 944.83C266.08 944.75 263.01 946.1 258.67 946.21C254.32 946.31 248.44 945.44 243.33 945.44C238.22 945.44 233.11 946 228 946.21C222.89 946.41 216.59 946.64 212.67 946.67C208.74 946.69 207.88 946.36 204.47 946.36C201.06 946.36 195.78 946.49 192.2 946.67C188.62 946.85 186.07 947.43 183 947.43C179.93 947.43 176.87 947.1 173.8 946.67C170.73 946.23 167.92 944.9 164.6 944.83C161.28 944.75 158.21 946.1 153.87 946.21C149.52 946.31 143.64 945.44 138.53 945.44C133.42 945.44 128.31 946 123.2 946.21C118.09 946.41 110.42 946.59 107.87 946.67Z" fill="url(#gTeal)" stroke="#2e86a4" stroke-width="1.3" stroke-opacity="0.75" stroke-linejoin="round"/>
<path d="M172.27 945.9C173.29 944.88 182.11 946.03 186.07 946.67C190.03 947.31 193.86 948.07 196.03 949.73C198.21 951.39 199.18 954.28 199.1 956.63C199.02 958.98 197.44 962.13 195.57 963.84C193.71 965.55 190 967.21 187.91 966.91C185.81 966.6 184.33 964.35 183 962C181.67 959.65 181.72 955.48 179.93 952.8C178.14 950.12 171.24 946.92 172.27 945.9Z" fill="url(#gTeal)" stroke="#2e86a4" stroke-width="1.3" stroke-opacity="0.75" stroke-linejoin="round" />
<path d="M112.16 939.31C112.36 937.44 117.22 933.56 119.83 931.33C122.43 929.11 125.4 926.35 127.8 925.97C130.2 925.58 131.89 927.63 134.24 929.03C136.59 930.44 139.3 932.59 141.91 934.4C144.51 936.21 149.16 938.62 149.88 939.92C150.6 941.22 149.37 941.71 146.2 942.22C143.03 942.73 135.47 942.94 130.87 942.99C126.27 943.04 121.72 943.14 118.6 942.53C115.48 941.91 111.96 941.17 112.16 939.31Z" fill="#fff" />
<path d="M167.36 941.45C167.87 940.15 173.24 938.51 176.87 937.47C180.5 936.42 185.3 935.37 189.13 935.17C192.97 934.96 196.49 935.29 199.87 936.24C203.24 937.19 209.37 939.33 209.37 940.84C209.37 942.35 203.75 944.37 199.87 945.29C195.98 946.21 190.41 946.36 186.07 946.36C181.72 946.36 176.92 946.1 173.8 945.29C170.68 944.47 166.85 942.76 167.36 941.45Z" fill="#fff" />
<path d="M277.07 945.9C278.09 944.88 286.91 946.03 290.87 946.67C294.83 947.31 298.66 948.07 300.83 949.73C303.01 951.39 303.98 954.28 303.9 956.63C303.82 958.98 302.24 962.13 300.37 963.84C298.51 965.55 294.8 967.21 292.71 966.91C290.61 966.6 289.13 964.35 287.8 962C286.47 959.65 286.52 955.48 284.73 952.8C282.94 950.12 276.04 946.92 277.07 945.9Z" fill="url(#gTeal)" stroke="#2e86a4" stroke-width="1.3" stroke-opacity="0.75" stroke-linejoin="round" />
<path d="M216.96 939.31C217.16 937.44 222.02 933.56 224.63 931.33C227.23 929.11 230.2 926.35 232.6 925.97C235 925.58 236.69 927.63 239.04 929.03C241.39 930.44 244.1 932.59 246.71 934.4C249.31 936.21 253.96 938.62 254.68 939.92C255.4 941.22 254.17 941.71 251 942.22C247.83 942.73 240.27 942.94 235.67 942.99C231.07 943.04 226.52 943.14 223.4 942.53C220.28 941.91 216.76 941.17 216.96 939.31Z" fill="#fff" />
<path d="M272.16 941.45C272.67 940.15 278.04 938.51 281.67 937.47C285.3 936.42 290.1 935.37 293.93 935.17C297.77 934.96 301.29 935.29 304.67 936.24C308.04 937.19 314.17 939.33 314.17 940.84C314.17 942.35 308.55 944.37 304.67 945.29C300.78 946.21 295.21 946.36 290.87 946.36C286.52 946.36 281.72 946.1 278.6 945.29C275.48 944.47 271.65 942.76 272.16 941.45Z" fill="#fff" />
<path d="M381.87 945.9C382.89 944.88 391.71 946.03 395.67 946.67C399.63 947.31 403.46 948.07 405.63 949.73C407.81 951.39 408.78 954.28 408.7 956.63C408.62 958.98 407.04 962.13 405.17 963.84C403.31 965.55 399.6 967.21 397.51 966.91C395.41 966.6 393.93 964.35 392.6 962C391.27 959.65 391.32 955.48 389.53 952.8C387.74 950.12 380.84 946.92 381.87 945.9Z" fill="url(#gTeal)" stroke="#2e86a4" stroke-width="1.3" stroke-opacity="0.75" stroke-linejoin="round" />
<path d="M321.76 939.31C321.96 937.44 326.82 933.56 329.43 931.33C332.03 929.11 335 926.35 337.4 925.97C339.8 925.58 341.49 927.63 343.84 929.03C346.19 930.44 348.9 932.59 351.51 934.4C354.11 936.21 358.76 938.62 359.48 939.92C360.2 941.22 358.97 941.71 355.8 942.22C352.63 942.73 345.07 942.94 340.47 942.99C335.87 943.04 331.32 943.14 328.2 942.53C325.08 941.91 321.56 941.17 321.76 939.31Z" fill="#fff" />
<path d="M376.96 941.45C377.47 940.15 382.84 938.51 386.47 937.47C390.1 936.42 394.9 935.37 398.73 935.17C402.57 934.96 406.09 935.29 409.47 936.24C412.84 937.19 418.97 939.33 418.97 940.84C418.97 942.35 413.35 944.37 409.47 945.29C405.58 946.21 400.01 946.36 395.67 946.36C391.32 946.36 386.52 946.1 383.4 945.29C380.28 944.47 376.45 942.76 376.96 941.45Z" fill="#fff" />
<path d="M486.67 945.9C487.69 944.88 496.51 946.03 500.47 946.67C504.43 947.31 508.26 948.07 510.43 949.73C512.61 951.39 513.58 954.28 513.5 956.63C513.42 958.98 511.84 962.13 509.97 963.84C508.11 965.55 504.4 967.21 502.31 966.91C500.21 966.6 498.73 964.35 497.4 962C496.07 959.65 496.12 955.48 494.33 952.8C492.54 950.12 485.64 946.92 486.67 945.9Z" fill="url(#gTeal)" stroke="#2e86a4" stroke-width="1.3" stroke-opacity="0.75" stroke-linejoin="round" />
<path d="M426.56 939.31C426.76 937.44 431.62 933.56 434.23 931.33C436.83 929.11 439.8 926.35 442.2 925.97C444.6 925.58 446.29 927.63 448.64 929.03C450.99 930.44 453.7 932.59 456.31 934.4C458.91 936.21 463.56 938.62 464.28 939.92C465 941.22 463.77 941.71 460.6 942.22C457.43 942.73 449.87 942.94 445.27 942.99C440.67 943.04 436.12 943.14 433 942.53C429.88 941.91 426.36 941.17 426.56 939.31Z" fill="#fff" />
<path d="M481.76 941.45C482.27 940.15 487.64 938.51 491.27 937.47C494.9 936.42 499.7 935.37 503.53 935.17C507.37 934.96 510.89 935.29 514.27 936.24C517.64 937.19 523.77 939.33 523.77 940.84C523.77 942.35 518.15 944.37 514.27 945.29C510.38 946.21 504.81 946.36 500.47 946.36C496.12 946.36 491.32 946.1 488.2 945.29C485.08 944.47 481.25 942.76 481.76 941.45Z" fill="#fff" />
<path d="M591.47 945.9C592.49 944.88 601.31 946.03 605.27 946.67C609.23 947.31 613.06 948.07 615.23 949.73C617.41 951.39 618.38 954.28 618.3 956.63C618.22 958.98 616.64 962.13 614.77 963.84C612.91 965.55 609.2 967.21 607.11 966.91C605.01 966.6 603.53 964.35 602.2 962C600.87 959.65 600.92 955.48 599.13 952.8C597.34 950.12 590.44 946.92 591.47 945.9Z" fill="url(#gTeal)" stroke="#2e86a4" stroke-width="1.3" stroke-opacity="0.75" stroke-linejoin="round" />
<path d="M531.36 939.31C531.56 937.44 536.42 933.56 539.03 931.33C541.63 929.11 544.6 926.35 547 925.97C549.4 925.58 551.09 927.63 553.44 929.03C555.79 930.44 558.5 932.59 561.11 934.4C563.71 936.21 568.36 938.62 569.08 939.92C569.8 941.22 568.57 941.71 565.4 942.22C562.23 942.73 554.67 942.94 550.07 942.99C545.47 943.04 540.92 943.14 537.8 942.53C534.68 941.91 531.16 941.17 531.36 939.31Z" fill="#fff" />
<path d="M586.56 941.45C587.07 940.15 592.44 938.51 596.07 937.47C599.7 936.42 604.5 935.37 608.33 935.17C612.17 934.96 615.69 935.29 619.07 936.24C622.44 937.19 628.57 939.33 628.57 940.84C628.57 942.35 622.95 944.37 619.07 945.29C615.18 946.21 609.61 946.36 605.27 946.36C600.92 946.36 596.12 946.1 593 945.29C589.88 944.47 586.05 942.76 586.56 941.45Z" fill="#fff" />
<path d="M107.87 897.91C109.91 897.6 116.04 896.68 120.13 896.07C124.22 895.45 128.57 895.12 132.4 894.23C136.23 893.33 139.81 892.13 143.13 890.7C146.46 889.27 149.27 886.74 152.33 885.64C155.4 884.54 158.21 883.95 161.53 884.11C164.86 884.26 169.07 885.08 172.27 886.56C175.46 888.04 178.27 890.34 180.7 893C183.13 895.66 184.97 902.51 186.83 902.51C188.7 902.51 189.98 895.48 191.89 893C193.81 890.52 195.73 888.91 198.33 887.63C200.94 886.36 205.15 883.62 207.53 885.33C209.92 887.05 209.77 896.12 212.67 897.91C215.57 899.7 220.84 896.68 224.93 896.07C229.02 895.45 233.37 895.12 237.2 894.23C241.03 893.33 244.61 892.13 247.93 890.7C251.26 889.27 254.07 886.74 257.13 885.64C260.2 884.54 263.01 883.95 266.33 884.11C269.66 884.26 273.87 885.08 277.07 886.56C280.26 888.04 283.07 890.34 285.5 893C287.93 895.66 289.77 902.51 291.63 902.51C293.5 902.51 294.78 895.48 296.69 893C298.61 890.52 300.53 888.91 303.13 887.63C305.74 886.36 309.95 883.62 312.33 885.33C314.72 887.05 314.57 896.12 317.47 897.91C320.37 899.7 325.64 896.68 329.73 896.07C333.82 895.45 338.17 895.12 342 894.23C345.83 893.33 349.41 892.13 352.73 890.7C356.06 889.27 358.87 886.74 361.93 885.64C365 884.54 367.81 883.95 371.13 884.11C374.46 884.26 378.67 885.08 381.87 886.56C385.06 888.04 387.87 890.34 390.3 893C392.73 895.66 394.57 902.51 396.43 902.51C398.3 902.51 399.58 895.48 401.49 893C403.41 890.52 405.33 888.91 407.93 887.63C410.54 886.36 414.75 883.62 417.13 885.33C419.52 887.05 419.37 896.12 422.27 897.91C425.17 899.7 430.44 896.68 434.53 896.07C438.62 895.45 442.97 895.12 446.8 894.23C450.63 893.33 454.21 892.13 457.53 890.7C460.86 889.27 463.67 886.74 466.73 885.64C469.8 884.54 472.61 883.95 475.93 884.11C479.26 884.26 483.47 885.08 486.67 886.56C489.86 888.04 492.67 890.34 495.1 893C497.53 895.66 499.37 902.51 501.23 902.51C503.1 902.51 504.38 895.48 506.29 893C508.21 890.52 510.13 888.91 512.73 887.63C515.34 886.36 519.55 883.62 521.93 885.33C524.32 887.05 524.17 896.12 527.07 897.91C529.97 899.7 535.24 896.68 539.33 896.07C543.42 895.45 547.77 895.12 551.6 894.23C555.43 893.33 559.01 892.13 562.33 890.7C565.66 889.27 568.47 886.74 571.53 885.64C574.6 884.54 577.41 883.95 580.73 884.11C584.06 884.26 588.27 885.08 591.47 886.56C594.66 888.04 597.47 890.34 599.9 893C602.33 895.66 604.17 902.51 606.03 902.51C607.9 902.51 609.18 895.48 611.09 893C613.01 890.52 614.93 888.91 617.53 887.63C620.14 886.36 624.34 883.62 626.73 885.33C629.12 887.05 631.01 895.81 631.87 897.91L631.87 913.24C631.01 913.6 629.63 915.18 626.73 915.39C623.83 915.59 617.66 915.08 614.47 914.47C611.27 913.85 609.48 911.83 607.57 911.71C605.65 911.58 605.39 912.17 602.97 913.7C600.54 915.23 596.71 919.09 593 920.91C589.29 922.72 584.57 924.25 580.73 924.59C576.9 924.92 573.53 924.33 570 922.9C566.47 921.47 562.51 918.27 559.57 916C556.63 913.73 555.23 909.87 552.37 909.25C549.5 908.64 546.62 911.66 542.4 912.32C538.18 912.98 530.48 912.73 527.07 913.24C523.66 913.75 524.83 915.18 521.93 915.39C519.03 915.59 512.86 915.08 509.67 914.47C506.47 913.85 504.68 911.83 502.77 911.71C500.85 911.58 500.59 912.17 498.17 913.7C495.74 915.23 491.91 919.09 488.2 920.91C484.49 922.72 479.77 924.25 475.93 924.59C472.1 924.92 468.73 924.33 465.2 922.9C461.67 921.47 457.71 918.27 454.77 916C451.83 913.73 450.43 909.87 447.57 909.25C444.7 908.64 441.82 911.66 437.6 912.32C433.38 912.98 425.68 912.73 422.27 913.24C418.86 913.75 420.03 915.18 417.13 915.39C414.23 915.59 408.06 915.08 404.87 914.47C401.67 913.85 399.88 911.83 397.97 911.71C396.05 911.58 395.79 912.17 393.37 913.7C390.94 915.23 387.11 919.09 383.4 920.91C379.69 922.72 374.97 924.25 371.13 924.59C367.3 924.92 363.93 924.33 360.4 922.9C356.87 921.47 352.91 918.27 349.97 916C347.03 913.73 345.63 909.87 342.77 909.25C339.9 908.64 337.02 911.66 332.8 912.32C328.58 912.98 320.88 912.73 317.47 913.24C314.06 913.75 315.23 915.18 312.33 915.39C309.43 915.59 303.26 915.08 300.07 914.47C296.87 913.85 295.08 911.83 293.17 911.71C291.25 911.58 290.99 912.17 288.57 913.7C286.14 915.23 282.31 919.09 278.6 920.91C274.89 922.72 270.17 924.25 266.33 924.59C262.5 924.92 259.13 924.33 255.6 922.9C252.07 921.47 248.11 918.27 245.17 916C242.23 913.73 240.83 909.87 237.97 909.25C235.1 908.64 232.22 911.66 228 912.32C223.78 912.98 216.08 912.73 212.67 913.24C209.26 913.75 210.43 915.18 207.53 915.39C204.63 915.59 198.46 915.08 195.27 914.47C192.07 913.85 190.28 911.83 188.37 911.71C186.45 911.58 186.19 912.17 183.77 913.7C181.34 915.23 177.51 919.09 173.8 920.91C170.09 922.72 165.37 924.25 161.53 924.59C157.7 924.92 154.33 924.33 150.8 922.9C147.27 921.47 143.31 918.27 140.37 916C137.43 913.73 136.03 909.87 133.17 909.25C130.3 908.64 127.42 911.66 123.2 912.32C118.98 912.98 110.42 913.09 107.87 913.24Z" fill="url(#gRed)" stroke="#b9434f" stroke-width="1.3" stroke-opacity="0.75" stroke-linejoin="round"/>
<path d="M140.37 904.5C140.63 903.09 143.18 900.28 146.2 898.37C149.22 896.45 154.89 893.64 158.47 893C162.04 892.36 165.37 893 167.67 894.53C169.97 896.07 172.27 899.9 172.27 902.2C172.27 904.5 169.97 907 167.67 908.33C165.37 909.66 161.28 910.17 158.47 910.17C155.66 910.17 153.1 908.9 150.8 908.33C148.5 907.77 146.4 907.44 144.67 906.8C142.93 906.16 140.12 905.91 140.37 904.5Z" fill="#d94f5f" fill-opacity="0.55"/>
<path d="M198.33 889.47C199.1 888.17 200.89 887.3 204.47 886.87C208.05 886.43 216.17 886.46 219.8 886.87C223.43 887.28 225.42 887.89 226.24 889.32C227.06 890.75 226.29 894.1 224.71 895.45C223.12 896.81 219.85 897.19 216.73 897.45C213.62 897.7 208.81 897.45 206 896.99C203.19 896.53 201.15 895.94 199.87 894.69C198.59 893.43 197.57 890.78 198.33 889.47Z" fill="url(#gLB)" stroke="#3b9dbb" stroke-width="1.3" stroke-opacity="0.75" stroke-linejoin="round" />
<path d="M245.17 904.5C245.43 903.09 247.98 900.28 251 898.37C254.02 896.45 259.69 893.64 263.27 893C266.84 892.36 270.17 893 272.47 894.53C274.77 896.07 277.07 899.9 277.07 902.2C277.07 904.5 274.77 907 272.47 908.33C270.17 909.66 266.08 910.17 263.27 910.17C260.46 910.17 257.9 908.9 255.6 908.33C253.3 907.77 251.2 907.44 249.47 906.8C247.73 906.16 244.92 905.91 245.17 904.5Z" fill="#d94f5f" fill-opacity="0.55"/>
<path d="M303.13 889.47C303.9 888.17 305.69 887.3 309.27 886.87C312.85 886.43 320.97 886.46 324.6 886.87C328.23 887.28 330.22 887.89 331.04 889.32C331.86 890.75 331.09 894.1 329.51 895.45C327.92 896.81 324.65 897.19 321.53 897.45C318.42 897.7 313.61 897.45 310.8 896.99C307.99 896.53 305.95 895.94 304.67 894.69C303.39 893.43 302.37 890.78 303.13 889.47Z" fill="url(#gLB)" stroke="#3b9dbb" stroke-width="1.3" stroke-opacity="0.75" stroke-linejoin="round" />
<path d="M349.97 904.5C350.23 903.09 352.78 900.28 355.8 898.37C358.82 896.45 364.49 893.64 368.07 893C371.64 892.36 374.97 893 377.27 894.53C379.57 896.07 381.87 899.9 381.87 902.2C381.87 904.5 379.57 907 377.27 908.33C374.97 909.66 370.88 910.17 368.07 910.17C365.26 910.17 362.7 908.9 360.4 908.33C358.1 907.77 356 907.44 354.27 906.8C352.53 906.16 349.72 905.91 349.97 904.5Z" fill="#d94f5f" fill-opacity="0.55"/>
<path d="M407.93 889.47C408.7 888.17 410.49 887.3 414.07 886.87C417.65 886.43 425.77 886.46 429.4 886.87C433.03 887.28 435.02 887.89 435.84 889.32C436.66 890.75 435.89 894.1 434.31 895.45C432.72 896.81 429.45 897.19 426.33 897.45C423.22 897.7 418.41 897.45 415.6 896.99C412.79 896.53 410.75 895.94 409.47 894.69C408.19 893.43 407.17 890.78 407.93 889.47Z" fill="url(#gLB)" stroke="#3b9dbb" stroke-width="1.3" stroke-opacity="0.75" stroke-linejoin="round" />
<path d="M454.77 904.5C455.03 903.09 457.58 900.28 460.6 898.37C463.62 896.45 469.29 893.64 472.87 893C476.44 892.36 479.77 893 482.07 894.53C484.37 896.07 486.67 899.9 486.67 902.2C486.67 904.5 484.37 907 482.07 908.33C479.77 909.66 475.68 910.17 472.87 910.17C470.06 910.17 467.5 908.9 465.2 908.33C462.9 907.77 460.8 907.44 459.07 906.8C457.33 906.16 454.52 905.91 454.77 904.5Z" fill="#d94f5f" fill-opacity="0.55"/>
<path d="M512.73 889.47C513.5 888.17 515.29 887.3 518.87 886.87C522.45 886.43 530.57 886.46 534.2 886.87C537.83 887.28 539.82 887.89 540.64 889.32C541.46 890.75 540.69 894.1 539.11 895.45C537.52 896.81 534.25 897.19 531.13 897.45C528.02 897.7 523.21 897.45 520.4 896.99C517.59 896.53 515.55 895.94 514.27 894.69C512.99 893.43 511.97 890.78 512.73 889.47Z" fill="url(#gLB)" stroke="#3b9dbb" stroke-width="1.3" stroke-opacity="0.75" stroke-linejoin="round" />
<path d="M559.57 904.5C559.83 903.09 562.38 900.28 565.4 898.37C568.42 896.45 574.09 893.64 577.67 893C581.24 892.36 584.57 893 586.87 894.53C589.17 896.07 591.47 899.9 591.47 902.2C591.47 904.5 589.17 907 586.87 908.33C584.57 909.66 580.48 910.17 577.67 910.17C574.86 910.17 572.3 908.9 570 908.33C567.7 907.77 565.6 907.44 563.87 906.8C562.13 906.16 559.32 905.91 559.57 904.5Z" fill="#d94f5f" fill-opacity="0.55"/>
<path d="M617.53 889.47C618.3 888.17 620.09 887.3 623.67 886.87C627.25 886.43 635.37 886.46 639 886.87C642.63 887.28 644.62 887.89 645.44 889.32C646.26 890.75 645.49 894.1 643.91 895.45C642.32 896.81 639.05 897.19 635.93 897.45C632.82 897.7 628.01 897.45 625.2 896.99C622.39 896.53 620.35 895.94 619.07 894.69C617.79 893.43 616.77 890.78 617.53 889.47Z" fill="url(#gLB)" stroke="#3b9dbb" stroke-width="1.3" stroke-opacity="0.75" stroke-linejoin="round" />
<path d="M89.7 989.91C89.45 987.1 90.85 984.18 93.53 982.24C96.22 980.3 100.43 979.07 105.8 978.25C111.17 977.44 119.6 977.1 125.73 977.33C131.87 977.56 136.72 979.63 142.6 979.63C148.48 979.63 156.15 977.21 161 977.33C165.86 977.46 168.85 978.48 171.73 980.4C174.62 982.32 177.77 985.77 178.33 988.83C178.89 991.9 178 996.12 175.11 998.8C172.22 1001.48 167.95 1003.76 161 1004.93C154.05 1006.11 141.83 1006.06 133.4 1005.85C124.97 1005.65 116.79 1004.83 110.4 1003.71C104.01 1002.58 98.52 1001.41 95.07 999.11C91.62 996.81 89.96 992.72 89.7 989.91Z" fill="url(#gLB)" stroke="#3b9dbb" stroke-width="1.3" stroke-opacity="0.75" stroke-linejoin="round" />
<path d="M194.5 989.91C194.25 987.1 195.65 984.18 198.33 982.24C201.02 980.3 205.23 979.07 210.6 978.25C215.97 977.44 224.4 977.1 230.53 977.33C236.67 977.56 241.52 979.63 247.4 979.63C253.28 979.63 260.95 977.21 265.8 977.33C270.66 977.46 273.65 978.48 276.53 980.4C279.42 982.32 282.57 985.77 283.13 988.83C283.69 991.9 282.8 996.12 279.91 998.8C277.02 1001.48 272.75 1003.76 265.8 1004.93C258.85 1006.11 246.63 1006.06 238.2 1005.85C229.77 1005.65 221.59 1004.83 215.2 1003.71C208.81 1002.58 203.32 1001.41 199.87 999.11C196.42 996.81 194.76 992.72 194.5 989.91Z" fill="url(#gLB)" stroke="#3b9dbb" stroke-width="1.3" stroke-opacity="0.75" stroke-linejoin="round" />
<path d="M299.3 989.91C299.05 987.1 300.45 984.18 303.13 982.24C305.82 980.3 310.03 979.07 315.4 978.25C320.77 977.44 329.2 977.1 335.33 977.33C341.47 977.56 346.32 979.63 352.2 979.63C358.08 979.63 365.75 977.21 370.6 977.33C375.46 977.46 378.45 978.48 381.33 980.4C384.22 982.32 387.37 985.77 387.93 988.83C388.49 991.9 387.6 996.12 384.71 998.8C381.82 1001.48 377.55 1003.76 370.6 1004.93C363.65 1006.11 351.43 1006.06 343 1005.85C334.57 1005.65 326.39 1004.83 320 1003.71C313.61 1002.58 308.12 1001.41 304.67 999.11C301.22 996.81 299.56 992.72 299.3 989.91Z" fill="url(#gLB)" stroke="#3b9dbb" stroke-width="1.3" stroke-opacity="0.75" stroke-linejoin="round" />
<path d="M404.1 989.91C403.85 987.1 405.25 984.18 407.93 982.24C410.62 980.3 414.83 979.07 420.2 978.25C425.57 977.44 434 977.1 440.13 977.33C446.27 977.56 451.12 979.63 457 979.63C462.88 979.63 470.55 977.21 475.4 977.33C480.26 977.46 483.25 978.48 486.13 980.4C489.02 982.32 492.17 985.77 492.73 988.83C493.29 991.9 492.4 996.12 489.51 998.8C486.62 1001.48 482.35 1003.76 475.4 1004.93C468.45 1006.11 456.23 1006.06 447.8 1005.85C439.37 1005.65 431.19 1004.83 424.8 1003.71C418.41 1002.58 412.92 1001.41 409.47 999.11C406.02 996.81 404.36 992.72 404.1 989.91Z" fill="url(#gLB)" stroke="#3b9dbb" stroke-width="1.3" stroke-opacity="0.75" stroke-linejoin="round" />
<path d="M508.9 989.91C508.65 987.1 510.05 984.18 512.73 982.24C515.42 980.3 519.63 979.07 525 978.25C530.37 977.44 538.8 977.1 544.93 977.33C551.07 977.56 555.92 979.63 561.8 979.63C567.68 979.63 575.35 977.21 580.2 977.33C585.06 977.46 588.05 978.48 590.93 980.4C593.82 982.32 596.97 985.77 597.53 988.83C598.09 991.9 597.2 996.12 594.31 998.8C591.42 1001.48 587.15 1003.76 580.2 1004.93C573.25 1006.11 561.03 1006.06 552.6 1005.85C544.17 1005.65 535.99 1004.83 529.6 1003.71C523.21 1002.58 517.72 1001.41 514.27 999.11C510.82 996.81 509.16 992.72 508.9 989.91Z" fill="url(#gLB)" stroke="#3b9dbb" stroke-width="1.3" stroke-opacity="0.75" stroke-linejoin="round" />
<path d="M167.44 1008.77L161.92 997.27" stroke="#64a782" stroke-width="5" fill="none"/>
<path d="M161.92 997.27L151.49 979.63" stroke="#d9a85c" stroke-width="5" fill="none"/>
<path d="M272.24 1008.77L266.72 997.27" stroke="#64a782" stroke-width="5" fill="none"/>
<path d="M266.72 997.27L256.29 979.63" stroke="#d9a85c" stroke-width="5" fill="none"/>
<path d="M377.04 1008.77L371.52 997.27" stroke="#64a782" stroke-width="5" fill="none"/>
<path d="M371.52 997.27L361.09 979.63" stroke="#d9a85c" stroke-width="5" fill="none"/>
<path d="M481.84 1008.77L476.32 997.27" stroke="#64a782" stroke-width="5" fill="none"/>
<path d="M476.32 997.27L465.89 979.63" stroke="#d9a85c" stroke-width="5" fill="none"/>
<path d="M107.33 962C107.46 959.44 108.1 956.25 110.4 954.33C112.7 952.42 116.02 951.34 121.13 950.5C126.25 949.66 133.91 949.48 141.07 949.27C148.22 949.07 157.93 948.81 164.07 949.27C170.2 949.73 174.55 950.17 177.87 952.03C181.19 953.9 183.34 957.4 184 960.47C184.67 963.53 183.64 967.88 181.85 970.43C180.07 972.99 177.51 974.83 173.27 975.8C169.03 976.77 161.51 976.49 156.4 976.26C151.29 976.03 146.95 974.24 142.6 974.42C138.26 974.6 134.68 977.08 130.33 977.33C125.99 977.59 119.98 977.23 116.53 975.95C113.08 974.68 111.17 971.99 109.63 969.67C108.1 967.34 107.21 964.56 107.33 962Z" fill="url(#gRed)" stroke="#b9434f" stroke-width="1.3" stroke-opacity="0.75" stroke-linejoin="round" />
<path d="M148.73 963.53C149.12 962.51 151.24 961.18 152.57 960.47C153.9 959.75 155.81 958.68 156.71 959.24C157.6 959.8 157.78 962.36 157.93 963.84C158.09 965.32 158.39 967.52 157.63 968.13C156.86 968.75 154.56 967.78 153.33 967.52C152.11 967.27 151.03 967.27 150.27 966.6C149.5 965.94 148.35 964.56 148.73 963.53Z" fill="#d4a45a" />
<path d="M212.13 962C212.26 959.44 212.9 956.25 215.2 954.33C217.5 952.42 220.82 951.34 225.93 950.5C231.05 949.66 238.71 949.48 245.87 949.27C253.02 949.07 262.73 948.81 268.87 949.27C275 949.73 279.35 950.17 282.67 952.03C285.99 953.9 288.14 957.4 288.8 960.47C289.47 963.53 288.44 967.88 286.65 970.43C284.87 972.99 282.31 974.83 278.07 975.8C273.83 976.77 266.31 976.49 261.2 976.26C256.09 976.03 251.75 974.24 247.4 974.42C243.06 974.6 239.48 977.08 235.13 977.33C230.79 977.59 224.78 977.23 221.33 975.95C217.88 974.68 215.97 971.99 214.43 969.67C212.9 967.34 212.01 964.56 212.13 962Z" fill="url(#gRed)" stroke="#b9434f" stroke-width="1.3" stroke-opacity="0.75" stroke-linejoin="round" />
<path d="M253.53 963.53C253.92 962.51 256.04 961.18 257.37 960.47C258.7 959.75 260.61 958.68 261.51 959.24C262.4 959.8 262.58 962.36 262.73 963.84C262.89 965.32 263.19 967.52 262.43 968.13C261.66 968.75 259.36 967.78 258.13 967.52C256.91 967.27 255.83 967.27 255.07 966.6C254.3 965.94 253.15 964.56 253.53 963.53Z" fill="#d4a45a" />
<path d="M316.93 962C317.06 959.44 317.7 956.25 320 954.33C322.3 952.42 325.62 951.34 330.73 950.5C335.85 949.66 343.51 949.48 350.67 949.27C357.82 949.07 367.53 948.81 373.67 949.27C379.8 949.73 384.15 950.17 387.47 952.03C390.79 953.9 392.94 957.4 393.6 960.47C394.27 963.53 393.24 967.88 391.45 970.43C389.67 972.99 387.11 974.83 382.87 975.8C378.63 976.77 371.11 976.49 366 976.26C360.89 976.03 356.55 974.24 352.2 974.42C347.86 974.6 344.28 977.08 339.93 977.33C335.59 977.59 329.58 977.23 326.13 975.95C322.68 974.68 320.77 971.99 319.23 969.67C317.7 967.34 316.81 964.56 316.93 962Z" fill="url(#gRed)" stroke="#b9434f" stroke-width="1.3" stroke-opacity="0.75" stroke-linejoin="round" />
<path d="M358.33 963.53C358.72 962.51 360.84 961.18 362.17 960.47C363.5 959.75 365.41 958.68 366.31 959.24C367.2 959.8 367.38 962.36 367.53 963.84C367.69 965.32 367.99 967.52 367.23 968.13C366.46 968.75 364.16 967.78 362.93 967.52C361.71 967.27 360.63 967.27 359.87 966.6C359.1 965.94 357.95 964.56 358.33 963.53Z" fill="#d4a45a" />
<path d="M421.73 962C421.86 959.44 422.5 956.25 424.8 954.33C427.1 952.42 430.42 951.34 435.53 950.5C440.65 949.66 448.31 949.48 455.47 949.27C462.62 949.07 472.33 948.81 478.47 949.27C484.6 949.73 488.95 950.17 492.27 952.03C495.59 953.9 497.74 957.4 498.4 960.47C499.07 963.53 498.04 967.88 496.25 970.43C494.47 972.99 491.91 974.83 487.67 975.8C483.43 976.77 475.91 976.49 470.8 976.26C465.69 976.03 461.35 974.24 457 974.42C452.66 974.6 449.08 977.08 444.73 977.33C440.39 977.59 434.38 977.23 430.93 975.95C427.48 974.68 425.57 971.99 424.03 969.67C422.5 967.34 421.61 964.56 421.73 962Z" fill="url(#gRed)" stroke="#b9434f" stroke-width="1.3" stroke-opacity="0.75" stroke-linejoin="round" />
<path d="M463.13 963.53C463.52 962.51 465.64 961.18 466.97 960.47C468.3 959.75 470.21 958.68 471.11 959.24C472 959.8 472.18 962.36 472.33 963.84C472.49 965.32 472.79 967.52 472.03 968.13C471.26 968.75 468.96 967.78 467.73 967.52C466.51 967.27 465.43 967.27 464.67 966.6C463.9 965.94 462.75 964.56 463.13 963.53Z" fill="#d4a45a" />
<path d="M526.53 962C526.66 959.44 527.3 956.25 529.6 954.33C531.9 952.42 535.22 951.34 540.33 950.5C545.45 949.66 553.11 949.48 560.27 949.27C567.42 949.07 577.13 948.81 583.27 949.27C589.4 949.73 593.75 950.17 597.07 952.03C600.39 953.9 602.54 957.4 603.2 960.47C603.87 963.53 602.84 967.88 601.05 970.43C599.27 972.99 596.71 974.83 592.47 975.8C588.23 976.77 580.71 976.49 575.6 976.26C570.49 976.03 566.15 974.24 561.8 974.42C557.46 974.6 553.88 977.08 549.53 977.33C545.19 977.59 539.18 977.23 535.73 975.95C532.28 974.68 530.37 971.99 528.83 969.67C527.3 967.34 526.41 964.56 526.53 962Z" fill="url(#gRed)" stroke="#b9434f" stroke-width="1.3" stroke-opacity="0.75" stroke-linejoin="round" />
<path d="M567.93 963.53C568.32 962.51 570.44 961.18 571.77 960.47C573.1 959.75 575.01 958.68 575.91 959.24C576.8 959.8 576.98 962.36 577.13 963.84C577.29 965.32 577.59 967.52 576.83 968.13C576.06 968.75 573.76 967.78 572.53 967.52C571.31 967.27 570.23 967.27 569.47 966.6C568.7 965.94 567.55 964.56 567.93 963.53Z" fill="#d4a45a" />
<path d="M107.87 1014.9C110.42 1015.34 118.09 1016.74 123.2 1017.51C128.31 1018.27 134.44 1019.55 138.53 1019.5C142.62 1019.45 144.92 1018.61 147.73 1017.2C150.54 1015.8 152.59 1013.16 155.4 1011.07C158.21 1008.97 161.53 1006.42 164.6 1004.63C167.67 1002.84 170.73 1001.1 173.8 1000.33C176.87 999.57 179.93 999.31 183 1000.03C186.07 1000.74 189.13 1002.92 192.2 1004.63C195.27 1006.34 197.99 1008.59 201.4 1010.3C204.81 1012.01 208.23 1013.7 212.67 1014.9C217.1 1016.1 222.89 1016.74 228 1017.51C233.11 1018.27 239.24 1019.55 243.33 1019.5C247.42 1019.45 249.72 1018.61 252.53 1017.2C255.34 1015.8 257.39 1013.16 260.2 1011.07C263.01 1008.97 266.33 1006.42 269.4 1004.63C272.47 1002.84 275.53 1001.1 278.6 1000.33C281.67 999.57 284.73 999.31 287.8 1000.03C290.87 1000.74 293.93 1002.92 297 1004.63C300.07 1006.34 302.79 1008.59 306.2 1010.3C309.61 1012.01 313.03 1013.7 317.47 1014.9C321.9 1016.1 327.69 1016.74 332.8 1017.51C337.91 1018.27 344.04 1019.55 348.13 1019.5C352.22 1019.45 354.52 1018.61 357.33 1017.2C360.14 1015.8 362.19 1013.16 365 1011.07C367.81 1008.97 371.13 1006.42 374.2 1004.63C377.27 1002.84 380.33 1001.1 383.4 1000.33C386.47 999.57 389.53 999.31 392.6 1000.03C395.67 1000.74 398.73 1002.92 401.8 1004.63C404.87 1006.34 407.59 1008.59 411 1010.3C414.41 1012.01 417.83 1013.7 422.27 1014.9C426.7 1016.1 432.49 1016.74 437.6 1017.51C442.71 1018.27 448.84 1019.55 452.93 1019.5C457.02 1019.45 459.32 1018.61 462.13 1017.2C464.94 1015.8 466.99 1013.16 469.8 1011.07C472.61 1008.97 475.93 1006.42 479 1004.63C482.07 1002.84 485.13 1001.1 488.2 1000.33C491.27 999.57 494.33 999.31 497.4 1000.03C500.47 1000.74 503.53 1002.92 506.6 1004.63C509.67 1006.34 512.39 1008.59 515.8 1010.3C519.21 1012.01 522.63 1013.7 527.07 1014.9C531.5 1016.1 537.29 1016.74 542.4 1017.51C547.51 1018.27 553.64 1019.55 557.73 1019.5C561.82 1019.45 564.12 1018.61 566.93 1017.2C569.74 1015.8 571.79 1013.16 574.6 1011.07C577.41 1008.97 580.73 1006.42 583.8 1004.63C586.87 1002.84 589.93 1001.1 593 1000.33C596.07 999.57 599.13 999.31 602.2 1000.03C605.27 1000.74 608.33 1002.92 611.4 1004.63C614.47 1006.34 617.19 1008.59 620.6 1010.3C624.01 1012.01 629.99 1014.13 631.87 1014.9L631.87 1026.4C630.5 1026.27 626.57 1026.4 623.67 1025.63C620.77 1024.87 617.53 1023.46 614.47 1021.8C611.4 1020.14 608.33 1016.82 605.27 1015.67C602.2 1014.52 598.88 1014.52 596.07 1014.9C593.26 1015.28 590.96 1016.43 588.4 1017.97C585.84 1019.5 583.8 1022.18 580.73 1024.1C577.67 1026.02 573.83 1028.39 570 1029.47C566.17 1030.54 562.33 1030.59 557.73 1030.54C553.13 1030.49 547.51 1029.85 542.4 1029.16C537.29 1028.47 530.99 1026.99 527.07 1026.4C523.14 1025.81 521.77 1026.4 518.87 1025.63C515.97 1024.87 512.73 1023.46 509.67 1021.8C506.6 1020.14 503.53 1016.82 500.47 1015.67C497.4 1014.52 494.08 1014.52 491.27 1014.9C488.46 1015.28 486.16 1016.43 483.6 1017.97C481.04 1019.5 479 1022.18 475.93 1024.1C472.87 1026.02 469.03 1028.39 465.2 1029.47C461.37 1030.54 457.53 1030.59 452.93 1030.54C448.33 1030.49 442.71 1029.85 437.6 1029.16C432.49 1028.47 426.19 1026.99 422.27 1026.4C418.34 1025.81 416.97 1026.4 414.07 1025.63C411.17 1024.87 407.93 1023.46 404.87 1021.8C401.8 1020.14 398.73 1016.82 395.67 1015.67C392.6 1014.52 389.28 1014.52 386.47 1014.9C383.66 1015.28 381.36 1016.43 378.8 1017.97C376.24 1019.5 374.2 1022.18 371.13 1024.1C368.07 1026.02 364.23 1028.39 360.4 1029.47C356.57 1030.54 352.73 1030.59 348.13 1030.54C343.53 1030.49 337.91 1029.85 332.8 1029.16C327.69 1028.47 321.39 1026.99 317.47 1026.4C313.54 1025.81 312.17 1026.4 309.27 1025.63C306.37 1024.87 303.13 1023.46 300.07 1021.8C297 1020.14 293.93 1016.82 290.87 1015.67C287.8 1014.52 284.48 1014.52 281.67 1014.9C278.86 1015.28 276.56 1016.43 274 1017.97C271.44 1019.5 269.4 1022.18 266.33 1024.1C263.27 1026.02 259.43 1028.39 255.6 1029.47C251.77 1030.54 247.93 1030.59 243.33 1030.54C238.73 1030.49 233.11 1029.85 228 1029.16C222.89 1028.47 216.59 1026.99 212.67 1026.4C208.74 1025.81 207.37 1026.4 204.47 1025.63C201.57 1024.87 198.33 1023.46 195.27 1021.8C192.2 1020.14 189.13 1016.82 186.07 1015.67C183 1014.52 179.68 1014.52 176.87 1014.9C174.06 1015.28 171.76 1016.43 169.2 1017.97C166.64 1019.5 164.6 1022.18 161.53 1024.1C158.47 1026.02 154.63 1028.39 150.8 1029.47C146.97 1030.54 143.13 1030.59 138.53 1030.54C133.93 1030.49 128.31 1029.85 123.2 1029.16C118.09 1028.47 110.42 1026.86 107.87 1026.4Z" fill="url(#gRed)" stroke="#b9434f" stroke-width="1.3" stroke-opacity="0.75" stroke-linejoin="round"/>
<ellipse cx="281.67" cy="1051.24" rx="5.4" ry="6.6" fill="url(#gLB)" stroke="#3b9dbb" stroke-width="1.3" stroke-opacity="0.75" stroke-linejoin="round"  transform="translate(-104.8,0)"/>
<ellipse cx="257.13" cy="1048.63" rx="6.4" ry="8.9" fill="url(#gRed)" stroke="#b9434f" stroke-width="1.3" stroke-opacity="0.75" stroke-linejoin="round" transform="translate(-104.8,0)"/>
<ellipse cx="295.47" cy="1049.4" rx="7.6" ry="8.9" fill="url(#gRed)" stroke="#b9434f" stroke-width="1.3" stroke-opacity="0.75" stroke-linejoin="round" transform="translate(-104.8,0)"/>
<ellipse cx="281.67" cy="1051.24" rx="5.4" ry="6.6" fill="url(#gLB)" stroke="#3b9dbb" stroke-width="1.3" stroke-opacity="0.75" stroke-linejoin="round"  transform="translate(0,0)"/>
<ellipse cx="257.13" cy="1048.63" rx="6.4" ry="8.9" fill="url(#gRed)" stroke="#b9434f" stroke-width="1.3" stroke-opacity="0.75" stroke-linejoin="round" transform="translate(0,0)"/>
<ellipse cx="295.47" cy="1049.4" rx="7.6" ry="8.9" fill="url(#gRed)" stroke="#b9434f" stroke-width="1.3" stroke-opacity="0.75" stroke-linejoin="round" transform="translate(0,0)"/>
<ellipse cx="281.67" cy="1051.24" rx="5.4" ry="6.6" fill="url(#gLB)" stroke="#3b9dbb" stroke-width="1.3" stroke-opacity="0.75" stroke-linejoin="round"  transform="translate(104.8,0)"/>
<ellipse cx="257.13" cy="1048.63" rx="6.4" ry="8.9" fill="url(#gRed)" stroke="#b9434f" stroke-width="1.3" stroke-opacity="0.75" stroke-linejoin="round" transform="translate(104.8,0)"/>
<ellipse cx="295.47" cy="1049.4" rx="7.6" ry="8.9" fill="url(#gRed)" stroke="#b9434f" stroke-width="1.3" stroke-opacity="0.75" stroke-linejoin="round" transform="translate(104.8,0)"/>
<ellipse cx="281.67" cy="1051.24" rx="5.4" ry="6.6" fill="url(#gLB)" stroke="#3b9dbb" stroke-width="1.3" stroke-opacity="0.75" stroke-linejoin="round"  transform="translate(209.6,0)"/>
<ellipse cx="257.13" cy="1048.63" rx="6.4" ry="8.9" fill="url(#gRed)" stroke="#b9434f" stroke-width="1.3" stroke-opacity="0.75" stroke-linejoin="round" transform="translate(209.6,0)"/>
<ellipse cx="295.47" cy="1049.4" rx="7.6" ry="8.9" fill="url(#gRed)" stroke="#b9434f" stroke-width="1.3" stroke-opacity="0.75" stroke-linejoin="round" transform="translate(209.6,0)"/><path d="M169.51 881.37C170.07 880.28 171.73 878.72 174.11 878.46C176.48 878.21 181.88 878.77 183.77 879.84C185.66 880.91 185.84 883.47 185.45 884.9C185.07 886.33 183.15 887.89 181.47 888.43C179.78 888.96 177.12 888.68 175.33 888.12C173.54 887.56 171.7 886.18 170.73 885.05C169.76 883.93 168.94 882.47 169.51 881.37Z" fill="url(#gLB)" stroke="#3b9dbb" stroke-width="1.3" stroke-opacity="0.75" stroke-linejoin="round" />
<path d="M116.76 875.24C116.71 872.58 117.73 867.55 119.83 864.51C121.92 861.47 124.94 858.63 129.33 856.99C133.73 855.36 140.32 854.77 146.2 854.69C152.08 854.62 159.95 855.21 164.6 856.53C169.25 857.86 171.24 860.37 174.11 862.67C176.97 864.97 179.47 867.65 181.77 870.33C184.07 873.02 187.55 876.93 187.91 878.77C188.26 880.61 185.76 881.09 183.92 881.37C182.08 881.66 179.58 881.02 176.87 880.45C174.16 879.89 170.73 878.87 167.67 878C164.6 877.13 162.04 875.75 158.47 875.24C154.89 874.73 150.8 874.47 146.2 874.93C141.6 875.39 135.21 877.08 130.87 878C126.52 878.92 122.48 880.91 120.13 880.45C117.78 879.99 116.81 877.9 116.76 875.24Z" fill="url(#gLB)" stroke="#3b9dbb" stroke-width="1.3" stroke-opacity="0.75" stroke-linejoin="round" />
<path d="M274.31 881.37C274.87 880.28 276.53 878.72 278.91 878.46C281.28 878.21 286.68 878.77 288.57 879.84C290.46 880.91 290.64 883.47 290.25 884.9C289.87 886.33 287.95 887.89 286.27 888.43C284.58 888.96 281.92 888.68 280.13 888.12C278.34 887.56 276.5 886.18 275.53 885.05C274.56 883.93 273.74 882.47 274.31 881.37Z" fill="url(#gLB)" stroke="#3b9dbb" stroke-width="1.3" stroke-opacity="0.75" stroke-linejoin="round" />
<path d="M221.56 875.24C221.51 872.58 222.53 867.55 224.63 864.51C226.72 861.47 229.74 858.63 234.13 856.99C238.53 855.36 245.12 854.77 251 854.69C256.88 854.62 264.75 855.21 269.4 856.53C274.05 857.86 276.04 860.37 278.91 862.67C281.77 864.97 284.27 867.65 286.57 870.33C288.87 873.02 292.35 876.93 292.71 878.77C293.06 880.61 290.56 881.09 288.72 881.37C286.88 881.66 284.38 881.02 281.67 880.45C278.96 879.89 275.53 878.87 272.47 878C269.4 877.13 266.84 875.75 263.27 875.24C259.69 874.73 255.6 874.47 251 874.93C246.4 875.39 240.01 877.08 235.67 878C231.32 878.92 227.28 880.91 224.93 880.45C222.58 879.99 221.61 877.9 221.56 875.24Z" fill="url(#gLB)" stroke="#3b9dbb" stroke-width="1.3" stroke-opacity="0.75" stroke-linejoin="round" />
<path d="M379.11 881.37C379.67 880.28 381.33 878.72 383.71 878.46C386.08 878.21 391.48 878.77 393.37 879.84C395.26 880.91 395.44 883.47 395.05 884.9C394.67 886.33 392.75 887.89 391.07 888.43C389.38 888.96 386.72 888.68 384.93 888.12C383.14 887.56 381.3 886.18 380.33 885.05C379.36 883.93 378.54 882.47 379.11 881.37Z" fill="url(#gLB)" stroke="#3b9dbb" stroke-width="1.3" stroke-opacity="0.75" stroke-linejoin="round" />
<path d="M326.36 875.24C326.31 872.58 327.33 867.55 329.43 864.51C331.52 861.47 334.54 858.63 338.93 856.99C343.33 855.36 349.92 854.77 355.8 854.69C361.68 854.62 369.55 855.21 374.2 856.53C378.85 857.86 380.84 860.37 383.71 862.67C386.57 864.97 389.07 867.65 391.37 870.33C393.67 873.02 397.15 876.93 397.51 878.77C397.86 880.61 395.36 881.09 393.52 881.37C391.68 881.66 389.18 881.02 386.47 880.45C383.76 879.89 380.33 878.87 377.27 878C374.2 877.13 371.64 875.75 368.07 875.24C364.49 874.73 360.4 874.47 355.8 874.93C351.2 875.39 344.81 877.08 340.47 878C336.12 878.92 332.08 880.91 329.73 880.45C327.38 879.99 326.41 877.9 326.36 875.24Z" fill="url(#gLB)" stroke="#3b9dbb" stroke-width="1.3" stroke-opacity="0.75" stroke-linejoin="round" />
<path d="M483.91 881.37C484.47 880.28 486.13 878.72 488.51 878.46C490.88 878.21 496.28 878.77 498.17 879.84C500.06 880.91 500.24 883.47 499.85 884.9C499.47 886.33 497.55 887.89 495.87 888.43C494.18 888.96 491.52 888.68 489.73 888.12C487.94 887.56 486.1 886.18 485.13 885.05C484.16 883.93 483.34 882.47 483.91 881.37Z" fill="url(#gLB)" stroke="#3b9dbb" stroke-width="1.3" stroke-opacity="0.75" stroke-linejoin="round" />
<path d="M431.16 875.24C431.11 872.58 432.13 867.55 434.23 864.51C436.32 861.47 439.34 858.63 443.73 856.99C448.13 855.36 454.72 854.77 460.6 854.69C466.48 854.62 474.35 855.21 479 856.53C483.65 857.86 485.64 860.37 488.51 862.67C491.37 864.97 493.87 867.65 496.17 870.33C498.47 873.02 501.95 876.93 502.31 878.77C502.66 880.61 500.16 881.09 498.32 881.37C496.48 881.66 493.98 881.02 491.27 880.45C488.56 879.89 485.13 878.87 482.07 878C479 877.13 476.44 875.75 472.87 875.24C469.29 874.73 465.2 874.47 460.6 874.93C456 875.39 449.61 877.08 445.27 878C440.92 878.92 436.88 880.91 434.53 880.45C432.18 879.99 431.21 877.9 431.16 875.24Z" fill="url(#gLB)" stroke="#3b9dbb" stroke-width="1.3" stroke-opacity="0.75" stroke-linejoin="round" />
<path d="M588.71 881.37C589.27 880.28 590.93 878.72 593.31 878.46C595.68 878.21 601.08 878.77 602.97 879.84C604.86 880.91 605.04 883.47 604.65 884.9C604.27 886.33 602.35 887.89 600.67 888.43C598.98 888.96 596.32 888.68 594.53 888.12C592.74 887.56 590.9 886.18 589.93 885.05C588.96 883.93 588.14 882.47 588.71 881.37Z" fill="url(#gLB)" stroke="#3b9dbb" stroke-width="1.3" stroke-opacity="0.75" stroke-linejoin="round" />
<path d="M535.96 875.24C535.91 872.58 536.93 867.55 539.03 864.51C541.12 861.47 544.14 858.63 548.53 856.99C552.93 855.36 559.52 854.77 565.4 854.69C571.28 854.62 579.15 855.21 583.8 856.53C588.45 857.86 590.44 860.37 593.31 862.67C596.17 864.97 598.67 867.65 600.97 870.33C603.27 873.02 606.75 876.93 607.11 878.77C607.46 880.61 604.96 881.09 603.12 881.37C601.28 881.66 598.78 881.02 596.07 880.45C593.36 879.89 589.93 878.87 586.87 878C583.8 877.13 581.24 875.75 577.67 875.24C574.09 874.73 570 874.47 565.4 874.93C560.8 875.39 554.41 877.08 550.07 878C545.72 878.92 541.68 880.91 539.33 880.45C536.98 879.99 536.01 877.9 535.96 875.24Z" fill="url(#gLB)" stroke="#3b9dbb" stroke-width="1.3" stroke-opacity="0.75" stroke-linejoin="round" /></g>
<g fill="none">
<path d="M212.7 791.8L194.55 822.79" stroke="#64a782" stroke-width="6.2"/><path d="M194.55 822.79L177.8 851.4" stroke="#d7aa62" stroke-width="6.2"/>
<path d="M212.7 791.8L249 822.79" stroke="#64a782" stroke-width="5.4"/><path d="M249 822.79L282.5 851.4" stroke="#d7aa62" stroke-width="5.4"/><path d="M212.7 791.8L249 822.79" stroke="#c9ead7" stroke-width="1.62"/><path d="M249 822.79L282.5 851.4" stroke="#fbeed0" stroke-width="1.62"/>
<path d="M317.5 791.8L299.35 822.79" stroke="#64a782" stroke-width="6.2"/><path d="M299.35 822.79L282.6 851.4" stroke="#d7aa62" stroke-width="6.2"/>
<path d="M317.5 791.8L353.8 822.79" stroke="#64a782" stroke-width="5.4"/><path d="M353.8 822.79L387.3 851.4" stroke="#d7aa62" stroke-width="5.4"/><path d="M317.5 791.8L353.8 822.79" stroke="#c9ead7" stroke-width="1.62"/><path d="M353.8 822.79L387.3 851.4" stroke="#fbeed0" stroke-width="1.62"/>
<path d="M422.3 791.8L404.15 822.79" stroke="#64a782" stroke-width="6.2"/><path d="M404.15 822.79L387.4 851.4" stroke="#d7aa62" stroke-width="6.2"/>
<path d="M422.3 791.8L458.6 822.79" stroke="#64a782" stroke-width="5.4"/><path d="M458.6 822.79L492.1 851.4" stroke="#d7aa62" stroke-width="5.4"/><path d="M422.3 791.8L458.6 822.79" stroke="#c9ead7" stroke-width="1.62"/><path d="M458.6 822.79L492.1 851.4" stroke="#fbeed0" stroke-width="1.62"/>
<path d="M527.1 791.8L508.95 822.79" stroke="#64a782" stroke-width="6.2"/><path d="M508.95 822.79L492.2 851.4" stroke="#d7aa62" stroke-width="6.2"/>
<path d="M527.1 791.8L563.4 822.79" stroke="#64a782" stroke-width="5.4"/><path d="M563.4 822.79L596.9 851.4" stroke="#d7aa62" stroke-width="5.4"/><path d="M527.1 791.8L563.4 822.79" stroke="#c9ead7" stroke-width="1.62"/><path d="M563.4 822.79L596.9 851.4" stroke="#fbeed0" stroke-width="1.62"/>
<path d="M274.2 1040.4L263.52 1058.48" stroke="#64a782" stroke-width="6.2"/><path d="M263.52 1058.48L247.5 1085.6" stroke="#d7aa62" stroke-width="6.2"/>
<path d="M379 1040.4L368.32 1058.48" stroke="#64a782" stroke-width="6.2"/><path d="M368.32 1058.48L352.3 1085.6" stroke="#d7aa62" stroke-width="6.2"/>
<path d="M483.8 1040.4L473.12 1058.48" stroke="#64a782" stroke-width="6.2"/><path d="M473.12 1058.48L457.1 1085.6" stroke="#d7aa62" stroke-width="6.2"/>
</g>
<circle cx="177.8" cy="731" r="15.4" fill="url(#gS)"/>
<circle cx="177.8" cy="851.4" r="15.4" fill="url(#gS)"/>
<circle cx="282.6" cy="731" r="15.4" fill="url(#gS)"/>
<circle cx="282.6" cy="851.4" r="15.4" fill="url(#gS)"/>
<circle cx="387.4" cy="731" r="15.4" fill="url(#gS)"/>
<circle cx="387.4" cy="851.4" r="15.4" fill="url(#gS)"/>
<circle cx="492.2" cy="731" r="15.4" fill="url(#gS)"/>
<circle cx="492.2" cy="851.4" r="15.4" fill="url(#gS)"/>
<circle cx="597" cy="731" r="15.4" fill="url(#gS)"/>
<circle cx="597" cy="851.4" r="15.4" fill="url(#gS)"/>
<circle cx="212.7" cy="791.8" r="20.8" fill="url(#gW)"/>
<circle cx="317.5" cy="791.8" r="20.8" fill="url(#gW)"/>
<circle cx="422.3" cy="791.8" r="20.8" fill="url(#gW)"/>
<circle cx="527.1" cy="791.8" r="20.8" fill="url(#gW)"/>
<circle cx="247.5" cy="1085.6" r="15.4" fill="url(#gS)"/>
<circle cx="352.3" cy="1085.6" r="15.4" fill="url(#gS)"/>
<circle cx="457.1" cy="1085.6" r="15.4" fill="url(#gS)"/>
<circle cx="561.9" cy="1085.6" r="15.4" fill="url(#gS)"/>
<circle cx="561.8" cy="965" r="15.4" fill="url(#gS)"/>
<path d="M102 1070V1122H156" stroke="#231815" stroke-width="2.9" fill="none" stroke-linejoin="miter"/><path d="M93.3 1071.3L102 1056.5L110.7 1071.3Z" fill="#231815"/><path d="M154.2 1113.5L169.3 1122L154.2 1130.5Z" fill="#231815"/>
<text x="91.5" y="1043" font-size="39" text-anchor="start" fill="#000" font-style="italic">z</text>
<text x="173.5" y="1131.5" font-size="39" text-anchor="start" fill="#000" font-style="italic">y</text>
<path d="M673 955V888H664L675.4 847.2L686.8 888H677.9V955Z" fill="#727171"/>
<text x="690" y="920.6" font-size="33.5" text-anchor="start" fill="#727171" font-weight="bold">P+</text>
<text x="64" y="738.2" font-size="53.5" text-anchor="start" fill="#000">d</text>
<g fill="none">
<path d="M1003.3 794L984.68 762.59" stroke="#64a782" stroke-width="6.8"/><path d="M984.68 762.59L967.5 733.6" stroke="#d7aa62" stroke-width="6.8"/>
<path d="M1003.3 794L1040.32 762.59" stroke="#64a782" stroke-width="6"/><path d="M1040.32 762.59L1074.5 733.6" stroke="#d7aa62" stroke-width="6"/><path d="M1003.3 794L1040.32 762.59" stroke="#c9ead7" stroke-width="1.8"/><path d="M1040.32 762.59L1074.5 733.6" stroke="#fbeed0" stroke-width="1.8"/>
<path d="M1110.3 794L1091.68 762.59" stroke="#64a782" stroke-width="6.8"/><path d="M1091.68 762.59L1074.5 733.6" stroke="#d7aa62" stroke-width="6.8"/>
<path d="M1110.3 794L1147.32 762.59" stroke="#64a782" stroke-width="6"/><path d="M1147.32 762.59L1181.5 733.6" stroke="#d7aa62" stroke-width="6"/><path d="M1110.3 794L1147.32 762.59" stroke="#c9ead7" stroke-width="1.8"/><path d="M1147.32 762.59L1181.5 733.6" stroke="#fbeed0" stroke-width="1.8"/>
<path d="M1217.3 794L1198.68 762.59" stroke="#64a782" stroke-width="6.8"/><path d="M1198.68 762.59L1181.5 733.6" stroke="#d7aa62" stroke-width="6.8"/>
<path d="M1217.3 794L1254.32 762.59" stroke="#64a782" stroke-width="6"/><path d="M1254.32 762.59L1288.5 733.6" stroke="#d7aa62" stroke-width="6"/><path d="M1217.3 794L1254.32 762.59" stroke="#c9ead7" stroke-width="1.8"/><path d="M1254.32 762.59L1288.5 733.6" stroke="#fbeed0" stroke-width="1.8"/>
<path d="M1038.8 1034.3L1074.45 1002.45" stroke="#64a782" stroke-width="4.6"/><path d="M1074.45 1002.45L1110.1 970.6" stroke="#d7aa62" stroke-width="4.6"/><path d="M1038.8 1034.3L1074.45 1002.45" stroke="#c9ead7" stroke-width="1.38"/><path d="M1074.45 1002.45L1110.1 970.6" stroke="#fbeed0" stroke-width="1.38"/>
<path d="M1038.8 1034.3L1020.18 1065.66" stroke="#64a782" stroke-width="6.8"/><path d="M1020.18 1065.66L1003 1094.6" stroke="#d7aa62" stroke-width="6.8"/>
<path d="M1038.8 1034.3L1075.82 1065.66" stroke="#64a782" stroke-width="6"/><path d="M1075.82 1065.66L1110 1094.6" stroke="#d7aa62" stroke-width="6"/><path d="M1038.8 1034.3L1075.82 1065.66" stroke="#c9ead7" stroke-width="1.8"/><path d="M1075.82 1065.66L1110 1094.6" stroke="#fbeed0" stroke-width="1.8"/>
<path d="M1145.8 1034.3L1181.45 1002.45" stroke="#64a782" stroke-width="4.6"/><path d="M1181.45 1002.45L1217.1 970.6" stroke="#d7aa62" stroke-width="4.6"/><path d="M1145.8 1034.3L1181.45 1002.45" stroke="#c9ead7" stroke-width="1.38"/><path d="M1181.45 1002.45L1217.1 970.6" stroke="#fbeed0" stroke-width="1.38"/>
<path d="M1145.8 1034.3L1127.18 1065.66" stroke="#64a782" stroke-width="6.8"/><path d="M1127.18 1065.66L1110 1094.6" stroke="#d7aa62" stroke-width="6.8"/>
<path d="M1145.8 1034.3L1182.82 1065.66" stroke="#64a782" stroke-width="6"/><path d="M1182.82 1065.66L1217 1094.6" stroke="#d7aa62" stroke-width="6"/><path d="M1145.8 1034.3L1182.82 1065.66" stroke="#c9ead7" stroke-width="1.8"/><path d="M1182.82 1065.66L1217 1094.6" stroke="#fbeed0" stroke-width="1.8"/>
<path d="M1252.8 1034.3L1288.45 1002.45" stroke="#64a782" stroke-width="4.6"/><path d="M1288.45 1002.45L1324.1 970.6" stroke="#d7aa62" stroke-width="4.6"/><path d="M1252.8 1034.3L1288.45 1002.45" stroke="#c9ead7" stroke-width="1.38"/><path d="M1288.45 1002.45L1324.1 970.6" stroke="#fbeed0" stroke-width="1.38"/>
<path d="M1252.8 1034.3L1234.18 1065.66" stroke="#64a782" stroke-width="6.8"/><path d="M1234.18 1065.66L1217 1094.6" stroke="#d7aa62" stroke-width="6.8"/>
<path d="M1252.8 1034.3L1289.82 1065.66" stroke="#64a782" stroke-width="6"/><path d="M1289.82 1065.66L1324 1094.6" stroke="#d7aa62" stroke-width="6"/><path d="M1252.8 1034.3L1289.82 1065.66" stroke="#c9ead7" stroke-width="1.8"/><path d="M1289.82 1065.66L1324 1094.6" stroke="#fbeed0" stroke-width="1.8"/>
</g>
<circle cx="1003.3" cy="794" r="21" fill="url(#gW)"/>
<circle cx="1110.3" cy="794" r="21" fill="url(#gW)"/>
<circle cx="1217.3" cy="794" r="21" fill="url(#gW)"/>
<circle cx="1038.8" cy="1034.3" r="21" fill="url(#gWn)"/>
<circle cx="1145.8" cy="1034.3" r="21" fill="url(#gWn)"/>
<circle cx="1252.8" cy="1034.3" r="21" fill="url(#gWn)"/>
<g clip-path="url(#clipE)"><ellipse cx="1083.43" cy="772.51" rx="7" ry="10" fill="url(#gRed)" stroke="#b9434f" stroke-width="1.3" stroke-opacity="0.75" stroke-linejoin="round" transform="translate(-107,0)"/>
<ellipse cx="1111.03" cy="769.13" rx="5.8" ry="7" fill="url(#gLB)" stroke="#3b9dbb" stroke-width="1.3" stroke-opacity="0.75" stroke-linejoin="round" transform="translate(-107,0)"/>
<ellipse cx="1123.3" cy="770.97" rx="8.9" ry="10.4" fill="url(#gRed)" stroke="#b9434f" stroke-width="1.3" stroke-opacity="0.75" stroke-linejoin="round" transform="translate(-107,0)"/>
<ellipse cx="1083.43" cy="772.51" rx="7" ry="10" fill="url(#gRed)" stroke="#b9434f" stroke-width="1.3" stroke-opacity="0.75" stroke-linejoin="round" transform="translate(0,0)"/>
<ellipse cx="1111.03" cy="769.13" rx="5.8" ry="7" fill="url(#gLB)" stroke="#3b9dbb" stroke-width="1.3" stroke-opacity="0.75" stroke-linejoin="round" transform="translate(0,0)"/>
<ellipse cx="1123.3" cy="770.97" rx="8.9" ry="10.4" fill="url(#gRed)" stroke="#b9434f" stroke-width="1.3" stroke-opacity="0.75" stroke-linejoin="round" transform="translate(0,0)"/>
<ellipse cx="1083.43" cy="772.51" rx="7" ry="10" fill="url(#gRed)" stroke="#b9434f" stroke-width="1.3" stroke-opacity="0.75" stroke-linejoin="round" transform="translate(107,0)"/>
<ellipse cx="1111.03" cy="769.13" rx="5.8" ry="7" fill="url(#gLB)" stroke="#3b9dbb" stroke-width="1.3" stroke-opacity="0.75" stroke-linejoin="round" transform="translate(107,0)"/>
<ellipse cx="1123.3" cy="770.97" rx="8.9" ry="10.4" fill="url(#gRed)" stroke="#b9434f" stroke-width="1.3" stroke-opacity="0.75" stroke-linejoin="round" transform="translate(107,0)"/>
<ellipse cx="1083.43" cy="772.51" rx="7" ry="10" fill="url(#gRed)" stroke="#b9434f" stroke-width="1.3" stroke-opacity="0.75" stroke-linejoin="round" transform="translate(214,0)"/>
<ellipse cx="1111.03" cy="769.13" rx="5.8" ry="7" fill="url(#gLB)" stroke="#3b9dbb" stroke-width="1.3" stroke-opacity="0.75" stroke-linejoin="round" transform="translate(214,0)"/>
<ellipse cx="1123.3" cy="770.97" rx="8.9" ry="10.4" fill="url(#gRed)" stroke="#b9434f" stroke-width="1.3" stroke-opacity="0.75" stroke-linejoin="round" transform="translate(214,0)"/>
<path d="M913.57 833.84C913.31 830.62 914.72 826.45 917.4 823.72C920.08 820.99 924.56 818.86 929.67 817.43C934.78 816 941.42 815.57 948.07 815.13C954.71 814.7 962.38 814.57 969.53 814.83C976.69 815.08 985.51 815.34 991 816.67C996.5 818 1000.15 820.24 1002.5 822.8C1004.85 825.36 1005.44 829.19 1005.11 832C1004.78 834.81 1003.37 837.8 1000.51 839.67C997.65 841.53 992.59 842.79 987.93 843.19C983.28 843.6 977.2 842.91 972.6 842.12C968 841.33 964.93 838.8 960.33 838.44C955.73 838.08 950.11 838.85 945 839.97C939.89 841.1 934.01 844.68 929.67 845.19C925.32 845.7 921.62 844.93 918.93 843.04C916.25 841.15 913.82 837.06 913.57 833.84Z" fill="url(#gLB)" stroke="#3b9dbb" stroke-width="1.3" stroke-opacity="0.75" stroke-linejoin="round" />
<path d="M1020.57 833.84C1020.31 830.62 1021.72 826.45 1024.4 823.72C1027.08 820.99 1031.56 818.86 1036.67 817.43C1041.78 816 1048.42 815.57 1055.07 815.13C1061.71 814.7 1069.38 814.57 1076.53 814.83C1083.69 815.08 1092.51 815.34 1098 816.67C1103.5 818 1107.15 820.24 1109.5 822.8C1111.85 825.36 1112.44 829.19 1112.11 832C1111.78 834.81 1110.37 837.8 1107.51 839.67C1104.65 841.53 1099.59 842.79 1094.93 843.19C1090.28 843.6 1084.2 842.91 1079.6 842.12C1075 841.33 1071.93 838.8 1067.33 838.44C1062.73 838.08 1057.11 838.85 1052 839.97C1046.89 841.1 1041.01 844.68 1036.67 845.19C1032.32 845.7 1028.62 844.93 1025.93 843.04C1023.25 841.15 1020.82 837.06 1020.57 833.84Z" fill="url(#gLB)" stroke="#3b9dbb" stroke-width="1.3" stroke-opacity="0.75" stroke-linejoin="round" />
<path d="M1127.57 833.84C1127.31 830.62 1128.72 826.45 1131.4 823.72C1134.08 820.99 1138.56 818.86 1143.67 817.43C1148.78 816 1155.42 815.57 1162.07 815.13C1168.71 814.7 1176.38 814.57 1183.53 814.83C1190.69 815.08 1199.51 815.34 1205 816.67C1210.5 818 1214.15 820.24 1216.5 822.8C1218.85 825.36 1219.44 829.19 1219.11 832C1218.78 834.81 1217.37 837.8 1214.51 839.67C1211.65 841.53 1206.59 842.79 1201.93 843.19C1197.28 843.6 1191.2 842.91 1186.6 842.12C1182 841.33 1178.93 838.8 1174.33 838.44C1169.73 838.08 1164.11 838.85 1159 839.97C1153.89 841.1 1148.01 844.68 1143.67 845.19C1139.32 845.7 1135.62 844.93 1132.93 843.04C1130.25 841.15 1127.82 837.06 1127.57 833.84Z" fill="url(#gLB)" stroke="#3b9dbb" stroke-width="1.3" stroke-opacity="0.75" stroke-linejoin="round" />
<path d="M1234.57 833.84C1234.31 830.62 1235.72 826.45 1238.4 823.72C1241.08 820.99 1245.56 818.86 1250.67 817.43C1255.78 816 1262.42 815.57 1269.07 815.13C1275.71 814.7 1283.38 814.57 1290.53 814.83C1297.69 815.08 1306.51 815.34 1312 816.67C1317.5 818 1321.15 820.24 1323.5 822.8C1325.85 825.36 1326.44 829.19 1326.11 832C1325.78 834.81 1324.37 837.8 1321.51 839.67C1318.65 841.53 1313.59 842.79 1308.93 843.19C1304.28 843.6 1298.2 842.91 1293.6 842.12C1289 841.33 1285.93 838.8 1281.33 838.44C1276.73 838.08 1271.11 838.85 1266 839.97C1260.89 841.1 1255.01 844.68 1250.67 845.19C1246.32 845.7 1242.62 844.93 1239.93 843.04C1237.25 841.15 1234.82 837.06 1234.57 833.84Z" fill="url(#gLB)" stroke="#3b9dbb" stroke-width="1.3" stroke-opacity="0.75" stroke-linejoin="round" />
<path d="M1341.57 833.84C1341.31 830.62 1342.72 826.45 1345.4 823.72C1348.08 820.99 1352.56 818.86 1357.67 817.43C1362.78 816 1369.42 815.57 1376.07 815.13C1382.71 814.7 1390.38 814.57 1397.53 814.83C1404.69 815.08 1413.51 815.34 1419 816.67C1424.5 818 1428.15 820.24 1430.5 822.8C1432.85 825.36 1433.44 829.19 1433.11 832C1432.78 834.81 1431.37 837.8 1428.51 839.67C1425.65 841.53 1420.59 842.79 1415.93 843.19C1411.28 843.6 1405.2 842.91 1400.6 842.12C1396 841.33 1392.93 838.8 1388.33 838.44C1383.73 838.08 1378.11 838.85 1373 839.97C1367.89 841.1 1362.01 844.68 1357.67 845.19C1353.32 845.7 1349.62 844.93 1346.93 843.04C1344.25 841.15 1341.82 837.06 1341.57 833.84Z" fill="url(#gLB)" stroke="#3b9dbb" stroke-width="1.3" stroke-opacity="0.75" stroke-linejoin="round" />
<path d="M896.39 854.69C897.59 854.54 900.87 853.47 903.6 853.77C906.33 854.08 909.99 854.8 912.8 856.53C915.61 858.27 917.91 861.65 920.47 864.2C923.02 866.76 925.58 869.93 928.13 871.87C930.69 873.81 932.48 875.34 935.8 875.85C939.12 876.37 942.44 875.29 948.07 874.93C953.69 874.58 962.38 874.07 969.53 873.71C976.69 873.35 986.15 874.37 991 872.79C995.86 871.2 996.6 867.22 998.67 864.2C1000.73 861.19 1001.4 856.43 1003.39 854.69C1005.38 852.96 1007.87 853.47 1010.6 853.77C1013.33 854.08 1016.99 854.8 1019.8 856.53C1022.61 858.27 1024.91 861.65 1027.47 864.2C1030.02 866.76 1032.58 869.93 1035.13 871.87C1037.69 873.81 1039.48 875.34 1042.8 875.85C1046.12 876.37 1049.44 875.29 1055.07 874.93C1060.69 874.58 1069.38 874.07 1076.53 873.71C1083.69 873.35 1093.15 874.37 1098 872.79C1102.86 871.2 1103.6 867.22 1105.67 864.2C1107.73 861.19 1108.4 856.43 1110.39 854.69C1112.38 852.96 1114.87 853.47 1117.6 853.77C1120.33 854.08 1123.99 854.8 1126.8 856.53C1129.61 858.27 1131.91 861.65 1134.47 864.2C1137.02 866.76 1139.58 869.93 1142.13 871.87C1144.69 873.81 1146.48 875.34 1149.8 875.85C1153.12 876.37 1156.44 875.29 1162.07 874.93C1167.69 874.58 1176.38 874.07 1183.53 873.71C1190.69 873.35 1200.15 874.37 1205 872.79C1209.86 871.2 1210.6 867.22 1212.67 864.2C1214.73 861.19 1215.4 856.43 1217.39 854.69C1219.38 852.96 1221.87 853.47 1224.6 853.77C1227.33 854.08 1230.99 854.8 1233.8 856.53C1236.61 858.27 1238.91 861.65 1241.47 864.2C1244.02 866.76 1246.58 869.93 1249.13 871.87C1251.69 873.81 1253.48 875.34 1256.8 875.85C1260.12 876.37 1263.44 875.29 1269.07 874.93C1274.69 874.58 1283.38 874.07 1290.53 873.71C1297.69 873.35 1307.15 874.37 1312 872.79C1316.86 871.2 1317.6 867.22 1319.67 864.2C1321.73 861.19 1322.4 856.43 1324.39 854.69C1326.38 852.96 1328.87 853.47 1331.6 853.77C1334.33 854.08 1337.99 854.8 1340.8 856.53C1343.61 858.27 1345.91 861.65 1348.47 864.2C1351.02 866.76 1353.58 869.93 1356.13 871.87C1358.69 873.81 1360.48 875.34 1363.8 875.85C1367.12 876.37 1370.44 875.29 1376.07 874.93C1381.69 874.58 1390.38 874.07 1397.53 873.71C1404.69 873.35 1414.15 874.37 1419 872.79C1423.86 871.2 1424.6 867.22 1426.67 864.2C1428.73 861.19 1430.6 856.28 1431.39 854.69L1431.39 906.37C1424.21 906.37 1400.62 906.24 1388.33 906.37C1376.05 906.5 1368.32 907.13 1357.67 907.13C1347.01 907.13 1337.12 906.5 1324.39 906.37C1311.67 906.24 1293.62 906.24 1281.33 906.37C1269.05 906.5 1261.32 907.13 1250.67 907.13C1240.01 907.13 1230.12 906.5 1217.39 906.37C1204.67 906.24 1186.62 906.24 1174.33 906.37C1162.05 906.5 1154.32 907.13 1143.67 907.13C1133.01 907.13 1123.12 906.5 1110.39 906.37C1097.67 906.24 1079.62 906.24 1067.33 906.37C1055.05 906.5 1047.32 907.13 1036.67 907.13C1026.01 907.13 1016.12 906.5 1003.39 906.37C990.67 906.24 972.62 906.24 960.33 906.37C948.05 906.5 940.32 907.13 929.67 907.13C919.01 907.13 901.94 906.5 896.39 906.37Z" fill="url(#gTeal)" stroke="#2e86a4" stroke-width="1.3" stroke-opacity="0.75" stroke-linejoin="round"/>
<path d="M884.13 882.6C885.66 881.04 893.97 878.26 899 877.23C904.03 876.21 909.68 876.08 914.33 876.47C918.98 876.85 924.04 878.61 926.91 879.53C929.77 880.45 931.56 880.94 931.51 881.99C931.46 883.04 929.46 884.8 926.6 885.82C923.74 886.84 918.93 887.74 914.33 888.12C909.73 888.5 903.09 888.38 899 888.12C894.91 887.87 892.28 887.51 889.8 886.59C887.32 885.67 882.59 884.16 884.13 882.6Z" fill="#fff" />
<path d="M936.57 881.99C937.33 880.4 941.04 878.92 945 878C948.96 877.08 955.94 876.47 960.33 876.47C964.73 876.47 968.61 876.98 971.37 878C974.13 879.02 976.89 880.56 976.89 882.6C976.89 884.65 973.57 887.92 971.37 890.27C969.18 892.62 966.52 895.12 963.71 896.71C960.9 898.29 957.11 900.08 954.51 899.77C951.9 899.47 950.42 896.91 948.07 894.87C945.72 892.82 942.32 889.65 940.4 887.51C938.48 885.36 935.8 883.57 936.57 881.99Z" fill="#fff" />
<path d="M950.52 905.29C951.59 904.2 959.01 902.28 960.64 902.84C962.28 903.4 960.64 906.8 960.33 908.67C960.03 910.53 959.82 913.91 958.8 914.03C957.78 914.16 955.58 910.89 954.2 909.43C952.82 907.98 949.45 906.39 950.52 905.29Z" fill="#fff" />
<path d="M899 905.29C899.64 904.27 904.37 902.36 905.9 902.53C907.43 902.71 908.2 904.83 908.2 906.37C908.2 907.9 906.92 911.35 905.9 911.73C904.88 912.12 903.22 909.74 902.07 908.67C900.92 907.59 898.36 906.32 899 905.29Z" fill="#fff" />
<path d="M991.13 882.6C992.66 881.04 1000.97 878.26 1006 877.23C1011.03 876.21 1016.68 876.08 1021.33 876.47C1025.98 876.85 1031.04 878.61 1033.91 879.53C1036.77 880.45 1038.56 880.94 1038.51 881.99C1038.46 883.04 1036.46 884.8 1033.6 885.82C1030.74 886.84 1025.93 887.74 1021.33 888.12C1016.73 888.5 1010.09 888.38 1006 888.12C1001.91 887.87 999.28 887.51 996.8 886.59C994.32 885.67 989.59 884.16 991.13 882.6Z" fill="#fff" />
<path d="M1043.57 881.99C1044.33 880.4 1048.04 878.92 1052 878C1055.96 877.08 1062.94 876.47 1067.33 876.47C1071.73 876.47 1075.61 876.98 1078.37 878C1081.13 879.02 1083.89 880.56 1083.89 882.6C1083.89 884.65 1080.57 887.92 1078.37 890.27C1076.18 892.62 1073.52 895.12 1070.71 896.71C1067.9 898.29 1064.11 900.08 1061.51 899.77C1058.9 899.47 1057.42 896.91 1055.07 894.87C1052.72 892.82 1049.32 889.65 1047.4 887.51C1045.48 885.36 1042.8 883.57 1043.57 881.99Z" fill="#fff" />
<path d="M1057.52 905.29C1058.59 904.2 1066.01 902.28 1067.64 902.84C1069.28 903.4 1067.64 906.8 1067.33 908.67C1067.03 910.53 1066.82 913.91 1065.8 914.03C1064.78 914.16 1062.58 910.89 1061.2 909.43C1059.82 907.98 1056.45 906.39 1057.52 905.29Z" fill="#fff" />
<path d="M1006 905.29C1006.64 904.27 1011.37 902.36 1012.9 902.53C1014.43 902.71 1015.2 904.83 1015.2 906.37C1015.2 907.9 1013.92 911.35 1012.9 911.73C1011.88 912.12 1010.22 909.74 1009.07 908.67C1007.92 907.59 1005.36 906.32 1006 905.29Z" fill="#fff" />
<path d="M1098.13 882.6C1099.66 881.04 1107.97 878.26 1113 877.23C1118.03 876.21 1123.68 876.08 1128.33 876.47C1132.98 876.85 1138.04 878.61 1140.91 879.53C1143.77 880.45 1145.56 880.94 1145.51 881.99C1145.46 883.04 1143.46 884.8 1140.6 885.82C1137.74 886.84 1132.93 887.74 1128.33 888.12C1123.73 888.5 1117.09 888.38 1113 888.12C1108.91 887.87 1106.28 887.51 1103.8 886.59C1101.32 885.67 1096.59 884.16 1098.13 882.6Z" fill="#fff" />
<path d="M1150.57 881.99C1151.33 880.4 1155.04 878.92 1159 878C1162.96 877.08 1169.94 876.47 1174.33 876.47C1178.73 876.47 1182.61 876.98 1185.37 878C1188.13 879.02 1190.89 880.56 1190.89 882.6C1190.89 884.65 1187.57 887.92 1185.37 890.27C1183.18 892.62 1180.52 895.12 1177.71 896.71C1174.9 898.29 1171.11 900.08 1168.51 899.77C1165.9 899.47 1164.42 896.91 1162.07 894.87C1159.72 892.82 1156.32 889.65 1154.4 887.51C1152.48 885.36 1149.8 883.57 1150.57 881.99Z" fill="#fff" />
<path d="M1164.52 905.29C1165.59 904.2 1173.01 902.28 1174.64 902.84C1176.28 903.4 1174.64 906.8 1174.33 908.67C1174.03 910.53 1173.82 913.91 1172.8 914.03C1171.78 914.16 1169.58 910.89 1168.2 909.43C1166.82 907.98 1163.45 906.39 1164.52 905.29Z" fill="#fff" />
<path d="M1113 905.29C1113.64 904.27 1118.37 902.36 1119.9 902.53C1121.43 902.71 1122.2 904.83 1122.2 906.37C1122.2 907.9 1120.92 911.35 1119.9 911.73C1118.88 912.12 1117.22 909.74 1116.07 908.67C1114.92 907.59 1112.36 906.32 1113 905.29Z" fill="#fff" />
<path d="M1205.13 882.6C1206.66 881.04 1214.97 878.26 1220 877.23C1225.03 876.21 1230.68 876.08 1235.33 876.47C1239.98 876.85 1245.04 878.61 1247.91 879.53C1250.77 880.45 1252.56 880.94 1252.51 881.99C1252.46 883.04 1250.46 884.8 1247.6 885.82C1244.74 886.84 1239.93 887.74 1235.33 888.12C1230.73 888.5 1224.09 888.38 1220 888.12C1215.91 887.87 1213.28 887.51 1210.8 886.59C1208.32 885.67 1203.59 884.16 1205.13 882.6Z" fill="#fff" />
<path d="M1257.57 881.99C1258.33 880.4 1262.04 878.92 1266 878C1269.96 877.08 1276.94 876.47 1281.33 876.47C1285.73 876.47 1289.61 876.98 1292.37 878C1295.13 879.02 1297.89 880.56 1297.89 882.6C1297.89 884.65 1294.57 887.92 1292.37 890.27C1290.18 892.62 1287.52 895.12 1284.71 896.71C1281.9 898.29 1278.11 900.08 1275.51 899.77C1272.9 899.47 1271.42 896.91 1269.07 894.87C1266.72 892.82 1263.32 889.65 1261.4 887.51C1259.48 885.36 1256.8 883.57 1257.57 881.99Z" fill="#fff" />
<path d="M1271.52 905.29C1272.59 904.2 1280.01 902.28 1281.64 902.84C1283.28 903.4 1281.64 906.8 1281.33 908.67C1281.03 910.53 1280.82 913.91 1279.8 914.03C1278.78 914.16 1276.58 910.89 1275.2 909.43C1273.82 907.98 1270.45 906.39 1271.52 905.29Z" fill="#fff" />
<path d="M1220 905.29C1220.64 904.27 1225.37 902.36 1226.9 902.53C1228.43 902.71 1229.2 904.83 1229.2 906.37C1229.2 907.9 1227.92 911.35 1226.9 911.73C1225.88 912.12 1224.22 909.74 1223.07 908.67C1221.92 907.59 1219.36 906.32 1220 905.29Z" fill="#fff" />
<path d="M1312.13 882.6C1313.66 881.04 1321.97 878.26 1327 877.23C1332.03 876.21 1337.68 876.08 1342.33 876.47C1346.98 876.85 1352.04 878.61 1354.91 879.53C1357.77 880.45 1359.56 880.94 1359.51 881.99C1359.46 883.04 1357.46 884.8 1354.6 885.82C1351.74 886.84 1346.93 887.74 1342.33 888.12C1337.73 888.5 1331.09 888.38 1327 888.12C1322.91 887.87 1320.28 887.51 1317.8 886.59C1315.32 885.67 1310.59 884.16 1312.13 882.6Z" fill="#fff" />
<path d="M1364.57 881.99C1365.33 880.4 1369.04 878.92 1373 878C1376.96 877.08 1383.94 876.47 1388.33 876.47C1392.73 876.47 1396.61 876.98 1399.37 878C1402.13 879.02 1404.89 880.56 1404.89 882.6C1404.89 884.65 1401.57 887.92 1399.37 890.27C1397.18 892.62 1394.52 895.12 1391.71 896.71C1388.9 898.29 1385.11 900.08 1382.51 899.77C1379.9 899.47 1378.42 896.91 1376.07 894.87C1373.72 892.82 1370.32 889.65 1368.4 887.51C1366.48 885.36 1363.8 883.57 1364.57 881.99Z" fill="#fff" />
<path d="M1378.52 905.29C1379.59 904.2 1387.01 902.28 1388.64 902.84C1390.28 903.4 1388.64 906.8 1388.33 908.67C1388.03 910.53 1387.82 913.91 1386.8 914.03C1385.78 914.16 1383.58 910.89 1382.2 909.43C1380.82 907.98 1377.45 906.39 1378.52 905.29Z" fill="#fff" />
<path d="M1327 905.29C1327.64 904.27 1332.37 902.36 1333.9 902.53C1335.43 902.71 1336.2 904.83 1336.2 906.37C1336.2 907.9 1334.92 911.35 1333.9 911.73C1332.88 912.12 1331.22 909.74 1330.07 908.67C1328.92 907.59 1326.36 906.32 1327 905.29Z" fill="#fff" />
<path d="M930.89 857.3C931.4 854.69 932.94 850.78 935.8 848.87C938.66 846.95 943.47 846.06 948.07 845.8C952.67 845.55 958.8 847.08 963.4 847.33C968 847.59 971.07 847.59 975.67 847.33C980.27 847.08 986.09 845.39 991 845.8C995.91 846.21 1001.99 847.95 1005.11 849.79C1008.23 851.63 1010.47 853.88 1009.71 856.84C1008.94 859.81 1003.63 864.92 1000.51 867.57C997.39 870.23 994.63 872.02 991 872.79C987.37 873.55 982.7 872.58 978.73 872.17C974.77 871.77 971.83 870.13 967.23 870.33C962.63 870.54 955.86 873.35 951.13 873.4C946.41 873.45 941.93 872.12 938.87 870.64C935.8 869.16 934.06 866.73 932.73 864.51C931.4 862.28 930.38 859.91 930.89 857.3Z" fill="url(#gRed)" stroke="#b9434f" stroke-width="1.3" stroke-opacity="0.75" stroke-linejoin="round" />
<path d="M1037.89 857.3C1038.4 854.69 1039.94 850.78 1042.8 848.87C1045.66 846.95 1050.47 846.06 1055.07 845.8C1059.67 845.55 1065.8 847.08 1070.4 847.33C1075 847.59 1078.07 847.59 1082.67 847.33C1087.27 847.08 1093.09 845.39 1098 845.8C1102.91 846.21 1108.99 847.95 1112.11 849.79C1115.23 851.63 1117.47 853.88 1116.71 856.84C1115.94 859.81 1110.63 864.92 1107.51 867.57C1104.39 870.23 1101.63 872.02 1098 872.79C1094.37 873.55 1089.7 872.58 1085.73 872.17C1081.77 871.77 1078.83 870.13 1074.23 870.33C1069.63 870.54 1062.86 873.35 1058.13 873.4C1053.41 873.45 1048.93 872.12 1045.87 870.64C1042.8 869.16 1041.06 866.73 1039.73 864.51C1038.4 862.28 1037.38 859.91 1037.89 857.3Z" fill="url(#gRed)" stroke="#b9434f" stroke-width="1.3" stroke-opacity="0.75" stroke-linejoin="round" />
<path d="M1144.89 857.3C1145.4 854.69 1146.94 850.78 1149.8 848.87C1152.66 846.95 1157.47 846.06 1162.07 845.8C1166.67 845.55 1172.8 847.08 1177.4 847.33C1182 847.59 1185.07 847.59 1189.67 847.33C1194.27 847.08 1200.09 845.39 1205 845.8C1209.91 846.21 1215.99 847.95 1219.11 849.79C1222.23 851.63 1224.47 853.88 1223.71 856.84C1222.94 859.81 1217.63 864.92 1214.51 867.57C1211.39 870.23 1208.63 872.02 1205 872.79C1201.37 873.55 1196.7 872.58 1192.73 872.17C1188.77 871.77 1185.83 870.13 1181.23 870.33C1176.63 870.54 1169.86 873.35 1165.13 873.4C1160.41 873.45 1155.93 872.12 1152.87 870.64C1149.8 869.16 1148.06 866.73 1146.73 864.51C1145.4 862.28 1144.38 859.91 1144.89 857.3Z" fill="url(#gRed)" stroke="#b9434f" stroke-width="1.3" stroke-opacity="0.75" stroke-linejoin="round" />
<path d="M1251.89 857.3C1252.4 854.69 1253.94 850.78 1256.8 848.87C1259.66 846.95 1264.47 846.06 1269.07 845.8C1273.67 845.55 1279.8 847.08 1284.4 847.33C1289 847.59 1292.07 847.59 1296.67 847.33C1301.27 847.08 1307.09 845.39 1312 845.8C1316.91 846.21 1322.99 847.95 1326.11 849.79C1329.23 851.63 1331.47 853.88 1330.71 856.84C1329.94 859.81 1324.63 864.92 1321.51 867.57C1318.39 870.23 1315.63 872.02 1312 872.79C1308.37 873.55 1303.7 872.58 1299.73 872.17C1295.77 871.77 1292.83 870.13 1288.23 870.33C1283.63 870.54 1276.86 873.35 1272.13 873.4C1267.41 873.45 1262.93 872.12 1259.87 870.64C1256.8 869.16 1255.06 866.73 1253.73 864.51C1252.4 862.28 1251.38 859.91 1251.89 857.3Z" fill="url(#gRed)" stroke="#b9434f" stroke-width="1.3" stroke-opacity="0.75" stroke-linejoin="round" />
<path d="M1358.89 857.3C1359.4 854.69 1360.94 850.78 1363.8 848.87C1366.66 846.95 1371.47 846.06 1376.07 845.8C1380.67 845.55 1386.8 847.08 1391.4 847.33C1396 847.59 1399.07 847.59 1403.67 847.33C1408.27 847.08 1414.09 845.39 1419 845.8C1423.91 846.21 1429.99 847.95 1433.11 849.79C1436.23 851.63 1438.47 853.88 1437.71 856.84C1436.94 859.81 1431.63 864.92 1428.51 867.57C1425.39 870.23 1422.63 872.02 1419 872.79C1415.37 873.55 1410.7 872.58 1406.73 872.17C1402.77 871.77 1399.83 870.13 1395.23 870.33C1390.63 870.54 1383.86 873.35 1379.13 873.4C1374.41 873.45 1369.93 872.12 1366.87 870.64C1363.8 869.16 1362.06 866.73 1360.73 864.51C1359.4 862.28 1358.38 859.91 1358.89 857.3Z" fill="url(#gRed)" stroke="#b9434f" stroke-width="1.3" stroke-opacity="0.75" stroke-linejoin="round" />
<path d="M896.39 807.47C897.59 807.34 901.38 807.47 903.6 806.7C905.82 805.93 907.94 804.14 909.73 802.87C911.52 801.59 911.52 800.18 914.33 799.03C917.14 797.88 922.51 796.94 926.6 795.97C930.69 795 934.52 794.1 938.87 793.21C943.21 792.31 948.07 791.24 952.67 790.6C957.27 789.96 962.63 789.48 966.47 789.37C970.3 789.27 972.98 789.4 975.67 789.99C978.35 790.57 980.65 791.72 982.57 792.9C984.48 794.08 985.51 795.76 987.17 797.04C988.83 798.32 990.75 799.47 992.53 800.57C994.32 801.67 996.09 802.48 997.9 803.63C999.71 804.78 1001.28 806.96 1003.39 807.47C1005.51 807.98 1008.38 807.47 1010.6 806.7C1012.82 805.93 1014.94 804.14 1016.73 802.87C1018.52 801.59 1018.52 800.18 1021.33 799.03C1024.14 797.88 1029.51 796.94 1033.6 795.97C1037.69 795 1041.52 794.1 1045.87 793.21C1050.21 792.31 1055.07 791.24 1059.67 790.6C1064.27 789.96 1069.63 789.48 1073.47 789.37C1077.3 789.27 1079.98 789.4 1082.67 789.99C1085.35 790.57 1087.65 791.72 1089.57 792.9C1091.48 794.08 1092.51 795.76 1094.17 797.04C1095.83 798.32 1097.75 799.47 1099.53 800.57C1101.32 801.67 1103.09 802.48 1104.9 803.63C1106.71 804.78 1108.28 806.96 1110.39 807.47C1112.51 807.98 1115.38 807.47 1117.6 806.7C1119.82 805.93 1121.94 804.14 1123.73 802.87C1125.52 801.59 1125.52 800.18 1128.33 799.03C1131.14 797.88 1136.51 796.94 1140.6 795.97C1144.69 795 1148.52 794.1 1152.87 793.21C1157.21 792.31 1162.07 791.24 1166.67 790.6C1171.27 789.96 1176.63 789.48 1180.47 789.37C1184.3 789.27 1186.98 789.4 1189.67 789.99C1192.35 790.57 1194.65 791.72 1196.57 792.9C1198.48 794.08 1199.51 795.76 1201.17 797.04C1202.83 798.32 1204.75 799.47 1206.53 800.57C1208.32 801.67 1210.09 802.48 1211.9 803.63C1213.71 804.78 1215.28 806.96 1217.39 807.47C1219.51 807.98 1222.38 807.47 1224.6 806.7C1226.82 805.93 1228.94 804.14 1230.73 802.87C1232.52 801.59 1232.52 800.18 1235.33 799.03C1238.14 797.88 1243.51 796.94 1247.6 795.97C1251.69 795 1255.52 794.1 1259.87 793.21C1264.21 792.31 1269.07 791.24 1273.67 790.6C1278.27 789.96 1283.63 789.48 1287.47 789.37C1291.3 789.27 1293.98 789.4 1296.67 789.99C1299.35 790.57 1301.65 791.72 1303.57 792.9C1305.48 794.08 1306.51 795.76 1308.17 797.04C1309.83 798.32 1311.75 799.47 1313.53 800.57C1315.32 801.67 1317.09 802.48 1318.9 803.63C1320.71 804.78 1322.28 806.96 1324.39 807.47C1326.51 807.98 1329.38 807.47 1331.6 806.7C1333.82 805.93 1335.94 804.14 1337.73 802.87C1339.52 801.59 1339.52 800.18 1342.33 799.03C1345.14 797.88 1350.51 796.94 1354.6 795.97C1358.69 795 1362.52 794.1 1366.87 793.21C1371.21 792.31 1376.07 791.24 1380.67 790.6C1385.27 789.96 1390.63 789.48 1394.47 789.37C1398.3 789.27 1400.98 789.4 1403.67 789.99C1406.35 790.57 1408.65 791.72 1410.57 792.9C1412.48 794.08 1413.51 795.76 1415.17 797.04C1416.83 798.32 1418.75 799.47 1420.53 800.57C1422.32 801.67 1424.09 802.48 1425.9 803.63C1427.71 804.78 1430.48 806.83 1431.39 807.47L1431.39 823.57C1430.35 823.44 1427.2 823.39 1425.13 822.8C1423.07 822.21 1421.3 821.57 1419 820.04C1416.7 818.51 1413.89 815.95 1411.33 813.6C1408.78 811.25 1406.48 807.98 1403.67 805.93C1400.86 803.89 1398.3 802.23 1394.47 801.33C1390.63 800.44 1385.27 800.44 1380.67 800.57C1376.07 800.69 1371.21 801.21 1366.87 802.1C1362.52 802.99 1357.92 804.27 1354.6 805.93C1351.28 807.59 1349.49 809.89 1346.93 812.07C1344.38 814.24 1341.82 817.18 1339.27 818.97C1336.71 820.76 1334.08 822.03 1331.6 822.8C1329.12 823.57 1326.64 823.57 1324.39 823.57C1322.15 823.57 1320.2 823.39 1318.13 822.8C1316.07 822.21 1314.3 821.57 1312 820.04C1309.7 818.51 1306.89 815.95 1304.33 813.6C1301.78 811.25 1299.48 807.98 1296.67 805.93C1293.86 803.89 1291.3 802.23 1287.47 801.33C1283.63 800.44 1278.27 800.44 1273.67 800.57C1269.07 800.69 1264.21 801.21 1259.87 802.1C1255.52 802.99 1250.92 804.27 1247.6 805.93C1244.28 807.59 1242.49 809.89 1239.93 812.07C1237.38 814.24 1234.82 817.18 1232.27 818.97C1229.71 820.76 1227.08 822.03 1224.6 822.8C1222.12 823.57 1219.64 823.57 1217.39 823.57C1215.15 823.57 1213.2 823.39 1211.13 822.8C1209.07 822.21 1207.3 821.57 1205 820.04C1202.7 818.51 1199.89 815.95 1197.33 813.6C1194.78 811.25 1192.48 807.98 1189.67 805.93C1186.86 803.89 1184.3 802.23 1180.47 801.33C1176.63 800.44 1171.27 800.44 1166.67 800.57C1162.07 800.69 1157.21 801.21 1152.87 802.1C1148.52 802.99 1143.92 804.27 1140.6 805.93C1137.28 807.59 1135.49 809.89 1132.93 812.07C1130.38 814.24 1127.82 817.18 1125.27 818.97C1122.71 820.76 1120.08 822.03 1117.6 822.8C1115.12 823.57 1112.64 823.57 1110.39 823.57C1108.15 823.57 1106.2 823.39 1104.13 822.8C1102.07 822.21 1100.3 821.57 1098 820.04C1095.7 818.51 1092.89 815.95 1090.33 813.6C1087.78 811.25 1085.48 807.98 1082.67 805.93C1079.86 803.89 1077.3 802.23 1073.47 801.33C1069.63 800.44 1064.27 800.44 1059.67 800.57C1055.07 800.69 1050.21 801.21 1045.87 802.1C1041.52 802.99 1036.92 804.27 1033.6 805.93C1030.28 807.59 1028.49 809.89 1025.93 812.07C1023.38 814.24 1020.82 817.18 1018.27 818.97C1015.71 820.76 1013.08 822.03 1010.6 822.8C1008.12 823.57 1005.64 823.57 1003.39 823.57C1001.15 823.57 999.2 823.39 997.13 822.8C995.07 822.21 993.3 821.57 991 820.04C988.7 818.51 985.89 815.95 983.33 813.6C980.78 811.25 978.48 807.98 975.67 805.93C972.86 803.89 970.3 802.23 966.47 801.33C962.63 800.44 957.27 800.44 952.67 800.57C948.07 800.69 943.21 801.21 938.87 802.1C934.52 802.99 929.92 804.27 926.6 805.93C923.28 807.59 921.49 809.89 918.93 812.07C916.38 814.24 913.82 817.18 911.27 818.97C908.71 820.76 906.08 822.03 903.6 822.8C901.12 823.57 897.59 823.44 896.39 823.57Z" fill="url(#gRed)" stroke="#b9434f" stroke-width="1.3" stroke-opacity="0.75" stroke-linejoin="round"/>
<path d="M986.09 800.11C985.97 799.24 987.5 797.6 988.7 797.04C989.9 796.48 992.02 796.32 993.3 796.73C994.58 797.14 996.04 798.6 996.37 799.49C996.7 800.39 996.44 801.64 995.29 802.1C994.14 802.56 991 802.59 989.47 802.25C987.93 801.92 986.22 800.98 986.09 800.11Z" fill="#62a37f" />
<path d="M1093.09 800.11C1092.97 799.24 1094.5 797.6 1095.7 797.04C1096.9 796.48 1099.02 796.32 1100.3 796.73C1101.58 797.14 1103.04 798.6 1103.37 799.49C1103.7 800.39 1103.44 801.64 1102.29 802.1C1101.14 802.56 1098 802.59 1096.47 802.25C1094.93 801.92 1093.22 800.98 1093.09 800.11Z" fill="#62a37f" />
<path d="M1200.09 800.11C1199.97 799.24 1201.5 797.6 1202.7 797.04C1203.9 796.48 1206.02 796.32 1207.3 796.73C1208.58 797.14 1210.04 798.6 1210.37 799.49C1210.7 800.39 1210.44 801.64 1209.29 802.1C1208.14 802.56 1205 802.59 1203.47 802.25C1201.93 801.92 1200.22 800.98 1200.09 800.11Z" fill="#62a37f" />
<path d="M1307.09 800.11C1306.97 799.24 1308.5 797.6 1309.7 797.04C1310.9 796.48 1313.02 796.32 1314.3 796.73C1315.58 797.14 1317.04 798.6 1317.37 799.49C1317.7 800.39 1317.44 801.64 1316.29 802.1C1315.14 802.56 1312 802.59 1310.47 802.25C1308.93 801.92 1307.22 800.98 1307.09 800.11Z" fill="#62a37f" />
<path d="M1414.09 800.11C1413.97 799.24 1415.5 797.6 1416.7 797.04C1417.9 796.48 1420.02 796.32 1421.3 796.73C1422.58 797.14 1424.04 798.6 1424.37 799.49C1424.7 800.39 1424.44 801.64 1423.29 802.1C1422.14 802.56 1419 802.59 1417.47 802.25C1415.93 801.92 1414.22 800.98 1414.09 800.11Z" fill="#62a37f" />
<path d="M994.83 940.11C995.35 938.57 997.13 936.4 998.67 935.2C1000.2 934 1002.25 932.9 1004.03 932.9C1005.82 932.9 1007.94 934 1009.4 935.2C1010.86 936.4 1010.99 939.8 1012.77 940.11C1014.56 940.41 1017.83 938.11 1020.13 937.04C1022.43 935.97 1025.25 933.56 1026.57 933.67C1027.9 933.77 1028.93 936.07 1028.11 937.65C1027.29 939.24 1023.76 941.54 1021.67 943.17C1019.57 944.81 1018.09 946.44 1015.53 947.47C1012.98 948.49 1009.15 949.26 1006.33 949.31C1003.52 949.36 1000.46 948.59 998.67 947.77C996.88 946.96 996.24 945.68 995.6 944.4C994.96 943.12 994.32 941.64 994.83 940.11Z" fill="url(#gLB)" stroke="#3b9dbb" stroke-width="1.3" stroke-opacity="0.75" stroke-linejoin="round" />
<path d="M938.87 938.27Q945 944.4 946.84 952.83" stroke="#3c9ab8" stroke-width="7.5" fill="none"/>
<path d="M1101.83 940.11C1102.35 938.57 1104.13 936.4 1105.67 935.2C1107.2 934 1109.25 932.9 1111.03 932.9C1112.82 932.9 1114.94 934 1116.4 935.2C1117.86 936.4 1117.99 939.8 1119.77 940.11C1121.56 940.41 1124.83 938.11 1127.13 937.04C1129.43 935.97 1132.25 933.56 1133.57 933.67C1134.9 933.77 1135.93 936.07 1135.11 937.65C1134.29 939.24 1130.76 941.54 1128.67 943.17C1126.57 944.81 1125.09 946.44 1122.53 947.47C1119.98 948.49 1116.15 949.26 1113.33 949.31C1110.52 949.36 1107.46 948.59 1105.67 947.77C1103.88 946.96 1103.24 945.68 1102.6 944.4C1101.96 943.12 1101.32 941.64 1101.83 940.11Z" fill="url(#gLB)" stroke="#3b9dbb" stroke-width="1.3" stroke-opacity="0.75" stroke-linejoin="round" />
<path d="M1045.87 938.27Q1052 944.4 1053.84 952.83" stroke="#3c9ab8" stroke-width="7.5" fill="none"/>
<path d="M1208.83 940.11C1209.35 938.57 1211.13 936.4 1212.67 935.2C1214.2 934 1216.25 932.9 1218.03 932.9C1219.82 932.9 1221.94 934 1223.4 935.2C1224.86 936.4 1224.99 939.8 1226.77 940.11C1228.56 940.41 1231.83 938.11 1234.13 937.04C1236.43 935.97 1239.25 933.56 1240.57 933.67C1241.9 933.77 1242.93 936.07 1242.11 937.65C1241.29 939.24 1237.76 941.54 1235.67 943.17C1233.57 944.81 1232.09 946.44 1229.53 947.47C1226.98 948.49 1223.15 949.26 1220.33 949.31C1217.52 949.36 1214.46 948.59 1212.67 947.77C1210.88 946.96 1210.24 945.68 1209.6 944.4C1208.96 943.12 1208.32 941.64 1208.83 940.11Z" fill="url(#gLB)" stroke="#3b9dbb" stroke-width="1.3" stroke-opacity="0.75" stroke-linejoin="round" />
<path d="M1152.87 938.27Q1159 944.4 1160.84 952.83" stroke="#3c9ab8" stroke-width="7.5" fill="none"/>
<path d="M1315.83 940.11C1316.35 938.57 1318.13 936.4 1319.67 935.2C1321.2 934 1323.25 932.9 1325.03 932.9C1326.82 932.9 1328.94 934 1330.4 935.2C1331.86 936.4 1331.99 939.8 1333.77 940.11C1335.56 940.41 1338.83 938.11 1341.13 937.04C1343.43 935.97 1346.25 933.56 1347.57 933.67C1348.9 933.77 1349.93 936.07 1349.11 937.65C1348.29 939.24 1344.76 941.54 1342.67 943.17C1340.57 944.81 1339.09 946.44 1336.53 947.47C1333.98 948.49 1330.15 949.26 1327.33 949.31C1324.52 949.36 1321.46 948.59 1319.67 947.77C1317.88 946.96 1317.24 945.68 1316.6 944.4C1315.96 943.12 1315.32 941.64 1315.83 940.11Z" fill="url(#gLB)" stroke="#3b9dbb" stroke-width="1.3" stroke-opacity="0.75" stroke-linejoin="round" />
<path d="M1259.87 938.27Q1266 944.4 1267.84 952.83" stroke="#3c9ab8" stroke-width="7.5" fill="none"/>
<path d="M1422.83 940.11C1423.35 938.57 1425.13 936.4 1426.67 935.2C1428.2 934 1430.25 932.9 1432.03 932.9C1433.82 932.9 1435.94 934 1437.4 935.2C1438.86 936.4 1438.99 939.8 1440.77 940.11C1442.56 940.41 1445.83 938.11 1448.13 937.04C1450.43 935.97 1453.25 933.56 1454.57 933.67C1455.9 933.77 1456.93 936.07 1456.11 937.65C1455.29 939.24 1451.76 941.54 1449.67 943.17C1447.57 944.81 1446.09 946.44 1443.53 947.47C1440.98 948.49 1437.15 949.26 1434.33 949.31C1431.52 949.36 1428.46 948.59 1426.67 947.77C1424.88 946.96 1424.24 945.68 1423.6 944.4C1422.96 943.12 1422.32 941.64 1422.83 940.11Z" fill="url(#gLB)" stroke="#3b9dbb" stroke-width="1.3" stroke-opacity="0.75" stroke-linejoin="round" />
<path d="M1366.87 938.27Q1373 944.4 1374.84 952.83" stroke="#3c9ab8" stroke-width="7.5" fill="none"/>
<path d="M855.63 909.9C855.63 906.27 857.3 904.79 859.47 903C861.64 901.21 865.09 899.98 868.67 899.17C872.25 898.35 876.85 897.84 880.93 898.09C885.02 898.35 889.62 899.5 893.2 900.7C896.78 901.9 900.2 903.64 902.4 905.3C904.6 906.96 905.88 908.19 906.39 910.67C906.9 913.15 906.39 917.06 905.47 920.17C904.55 923.29 902.91 926.56 900.87 929.37C898.82 932.18 896.01 935.15 893.2 937.04C890.39 938.93 886.81 940.46 884 940.72C881.19 940.98 879.15 939.95 876.33 938.57C873.52 937.19 869.95 934.74 867.13 932.44C864.32 930.14 861.38 928.53 859.47 924.77C857.55 921.02 855.63 913.53 855.63 909.9Z" fill="url(#gRed)" stroke="#b9434f" stroke-width="1.3" stroke-opacity="0.75" stroke-linejoin="round" />
<path d="M907 909.13C907.9 906.27 911.35 903.31 914.67 901.47C917.99 899.63 922.85 898.48 926.93 898.09C931.02 897.71 935.62 898.09 939.2 899.17C942.78 900.24 945.33 902.11 948.4 904.53C951.47 906.96 954.79 910.67 957.6 913.73C960.41 916.8 963.68 920.89 965.27 922.93C966.85 924.98 967.87 924.93 967.11 926C966.34 927.07 963.27 928.56 960.67 929.37C958.06 930.19 954.53 930.14 951.47 930.91C948.4 931.67 945.33 932.59 942.27 933.97C939.2 935.35 935.88 938.06 933.07 939.19C930.26 940.31 927.45 941.08 925.4 940.72C923.36 940.36 922.59 939.19 920.8 937.04C919.01 934.89 916.58 930.91 914.67 927.84C912.75 924.77 910.58 921.76 909.3 918.64C908.02 915.52 906.11 912 907 909.13Z" fill="url(#gRed)" stroke="#b9434f" stroke-width="1.3" stroke-opacity="0.75" stroke-linejoin="round" />
<path d="M962.63 909.9C962.63 906.27 964.3 904.79 966.47 903C968.64 901.21 972.09 899.98 975.67 899.17C979.25 898.35 983.85 897.84 987.93 898.09C992.02 898.35 996.62 899.5 1000.2 900.7C1003.78 901.9 1007.2 903.64 1009.4 905.3C1011.6 906.96 1012.88 908.19 1013.39 910.67C1013.9 913.15 1013.39 917.06 1012.47 920.17C1011.55 923.29 1009.91 926.56 1007.87 929.37C1005.82 932.18 1003.01 935.15 1000.2 937.04C997.39 938.93 993.81 940.46 991 940.72C988.19 940.98 986.15 939.95 983.33 938.57C980.52 937.19 976.95 934.74 974.13 932.44C971.32 930.14 968.38 928.53 966.47 924.77C964.55 921.02 962.63 913.53 962.63 909.9Z" fill="url(#gRed)" stroke="#b9434f" stroke-width="1.3" stroke-opacity="0.75" stroke-linejoin="round" />
<path d="M1014 909.13C1014.9 906.27 1018.35 903.31 1021.67 901.47C1024.99 899.63 1029.85 898.48 1033.93 898.09C1038.02 897.71 1042.62 898.09 1046.2 899.17C1049.78 900.24 1052.33 902.11 1055.4 904.53C1058.47 906.96 1061.79 910.67 1064.6 913.73C1067.41 916.8 1070.68 920.89 1072.27 922.93C1073.85 924.98 1074.87 924.93 1074.11 926C1073.34 927.07 1070.27 928.56 1067.67 929.37C1065.06 930.19 1061.53 930.14 1058.47 930.91C1055.4 931.67 1052.33 932.59 1049.27 933.97C1046.2 935.35 1042.88 938.06 1040.07 939.19C1037.26 940.31 1034.45 941.08 1032.4 940.72C1030.36 940.36 1029.59 939.19 1027.8 937.04C1026.01 934.89 1023.58 930.91 1021.67 927.84C1019.75 924.77 1017.58 921.76 1016.3 918.64C1015.02 915.52 1013.11 912 1014 909.13Z" fill="url(#gRed)" stroke="#b9434f" stroke-width="1.3" stroke-opacity="0.75" stroke-linejoin="round" />
<path d="M1069.63 909.9C1069.63 906.27 1071.3 904.79 1073.47 903C1075.64 901.21 1079.09 899.98 1082.67 899.17C1086.25 898.35 1090.85 897.84 1094.93 898.09C1099.02 898.35 1103.62 899.5 1107.2 900.7C1110.78 901.9 1114.2 903.64 1116.4 905.3C1118.6 906.96 1119.88 908.19 1120.39 910.67C1120.9 913.15 1120.39 917.06 1119.47 920.17C1118.55 923.29 1116.91 926.56 1114.87 929.37C1112.82 932.18 1110.01 935.15 1107.2 937.04C1104.39 938.93 1100.81 940.46 1098 940.72C1095.19 940.98 1093.15 939.95 1090.33 938.57C1087.52 937.19 1083.95 934.74 1081.13 932.44C1078.32 930.14 1075.38 928.53 1073.47 924.77C1071.55 921.02 1069.63 913.53 1069.63 909.9Z" fill="url(#gRed)" stroke="#b9434f" stroke-width="1.3" stroke-opacity="0.75" stroke-linejoin="round" />
<path d="M1121 909.13C1121.9 906.27 1125.35 903.31 1128.67 901.47C1131.99 899.63 1136.85 898.48 1140.93 898.09C1145.02 897.71 1149.62 898.09 1153.2 899.17C1156.78 900.24 1159.33 902.11 1162.4 904.53C1165.47 906.96 1168.79 910.67 1171.6 913.73C1174.41 916.8 1177.68 920.89 1179.27 922.93C1180.85 924.98 1181.87 924.93 1181.11 926C1180.34 927.07 1177.27 928.56 1174.67 929.37C1172.06 930.19 1168.53 930.14 1165.47 930.91C1162.4 931.67 1159.33 932.59 1156.27 933.97C1153.2 935.35 1149.88 938.06 1147.07 939.19C1144.26 940.31 1141.45 941.08 1139.4 940.72C1137.36 940.36 1136.59 939.19 1134.8 937.04C1133.01 934.89 1130.58 930.91 1128.67 927.84C1126.75 924.77 1124.58 921.76 1123.3 918.64C1122.02 915.52 1120.11 912 1121 909.13Z" fill="url(#gRed)" stroke="#b9434f" stroke-width="1.3" stroke-opacity="0.75" stroke-linejoin="round" />
<path d="M1176.63 909.9C1176.63 906.27 1178.3 904.79 1180.47 903C1182.64 901.21 1186.09 899.98 1189.67 899.17C1193.25 898.35 1197.85 897.84 1201.93 898.09C1206.02 898.35 1210.62 899.5 1214.2 900.7C1217.78 901.9 1221.2 903.64 1223.4 905.3C1225.6 906.96 1226.88 908.19 1227.39 910.67C1227.9 913.15 1227.39 917.06 1226.47 920.17C1225.55 923.29 1223.91 926.56 1221.87 929.37C1219.82 932.18 1217.01 935.15 1214.2 937.04C1211.39 938.93 1207.81 940.46 1205 940.72C1202.19 940.98 1200.15 939.95 1197.33 938.57C1194.52 937.19 1190.95 934.74 1188.13 932.44C1185.32 930.14 1182.38 928.53 1180.47 924.77C1178.55 921.02 1176.63 913.53 1176.63 909.9Z" fill="url(#gRed)" stroke="#b9434f" stroke-width="1.3" stroke-opacity="0.75" stroke-linejoin="round" />
<path d="M1228 909.13C1228.9 906.27 1232.35 903.31 1235.67 901.47C1238.99 899.63 1243.85 898.48 1247.93 898.09C1252.02 897.71 1256.62 898.09 1260.2 899.17C1263.78 900.24 1266.33 902.11 1269.4 904.53C1272.47 906.96 1275.79 910.67 1278.6 913.73C1281.41 916.8 1284.68 920.89 1286.27 922.93C1287.85 924.98 1288.87 924.93 1288.11 926C1287.34 927.07 1284.27 928.56 1281.67 929.37C1279.06 930.19 1275.53 930.14 1272.47 930.91C1269.4 931.67 1266.33 932.59 1263.27 933.97C1260.2 935.35 1256.88 938.06 1254.07 939.19C1251.26 940.31 1248.45 941.08 1246.4 940.72C1244.36 940.36 1243.59 939.19 1241.8 937.04C1240.01 934.89 1237.58 930.91 1235.67 927.84C1233.75 924.77 1231.58 921.76 1230.3 918.64C1229.02 915.52 1227.11 912 1228 909.13Z" fill="url(#gRed)" stroke="#b9434f" stroke-width="1.3" stroke-opacity="0.75" stroke-linejoin="round" />
<path d="M1283.63 909.9C1283.63 906.27 1285.3 904.79 1287.47 903C1289.64 901.21 1293.09 899.98 1296.67 899.17C1300.25 898.35 1304.85 897.84 1308.93 898.09C1313.02 898.35 1317.62 899.5 1321.2 900.7C1324.78 901.9 1328.2 903.64 1330.4 905.3C1332.6 906.96 1333.88 908.19 1334.39 910.67C1334.9 913.15 1334.39 917.06 1333.47 920.17C1332.55 923.29 1330.91 926.56 1328.87 929.37C1326.82 932.18 1324.01 935.15 1321.2 937.04C1318.39 938.93 1314.81 940.46 1312 940.72C1309.19 940.98 1307.15 939.95 1304.33 938.57C1301.52 937.19 1297.95 934.74 1295.13 932.44C1292.32 930.14 1289.38 928.53 1287.47 924.77C1285.55 921.02 1283.63 913.53 1283.63 909.9Z" fill="url(#gRed)" stroke="#b9434f" stroke-width="1.3" stroke-opacity="0.75" stroke-linejoin="round" />
<path d="M1335 909.13C1335.9 906.27 1339.35 903.31 1342.67 901.47C1345.99 899.63 1350.85 898.48 1354.93 898.09C1359.02 897.71 1363.62 898.09 1367.2 899.17C1370.78 900.24 1373.33 902.11 1376.4 904.53C1379.47 906.96 1382.79 910.67 1385.6 913.73C1388.41 916.8 1391.68 920.89 1393.27 922.93C1394.85 924.98 1395.87 924.93 1395.11 926C1394.34 927.07 1391.27 928.56 1388.67 929.37C1386.06 930.19 1382.53 930.14 1379.47 930.91C1376.4 931.67 1373.33 932.59 1370.27 933.97C1367.2 935.35 1363.88 938.06 1361.07 939.19C1358.26 940.31 1355.45 941.08 1353.4 940.72C1351.36 940.36 1350.59 939.19 1348.8 937.04C1347.01 934.89 1344.58 930.91 1342.67 927.84C1340.75 924.77 1338.58 921.76 1337.3 918.64C1336.02 915.52 1334.11 912 1335 909.13Z" fill="url(#gRed)" stroke="#b9434f" stroke-width="1.3" stroke-opacity="0.75" stroke-linejoin="round" />
<path d="M853.33 965.87C854.31 961.98 857.3 955.13 862.53 952.07C867.77 949 876.08 948.31 884.77 947.47C893.46 946.62 908.36 946.85 914.67 947.01C920.98 947.16 920.29 946.27 922.64 948.39C924.99 950.51 927.24 956.05 928.77 959.73C930.31 963.41 931.84 967.35 931.84 970.47C931.84 973.59 931.13 976.5 928.77 978.44C926.42 980.38 923.92 981.48 917.73 982.12C911.55 982.76 899.85 982.63 891.67 982.27C883.49 981.92 874.49 981.12 868.67 979.97C862.84 978.82 859.26 977.73 856.71 975.37C854.15 973.02 852.36 969.75 853.33 965.87Z" fill="url(#gRed)" stroke="#b9434f" stroke-width="1.3" stroke-opacity="0.75" stroke-linejoin="round" />
<path d="M837.23 953.91C837.23 951.3 838.38 948.92 841.07 947.47C843.75 946.01 847.46 945.55 853.33 945.17C859.21 944.78 870.81 944.66 876.33 945.17C881.85 945.68 884.77 946.52 886.45 948.23C888.14 949.95 886.86 953.22 886.45 955.44C886.05 957.66 885.69 959.43 884 961.57C882.31 963.72 879.91 966.79 876.33 968.32C872.76 969.85 866.88 970.62 862.53 970.77C858.19 970.93 853.85 970.52 850.27 969.24C846.69 967.96 843.24 965.66 841.07 963.11C838.9 960.55 837.23 956.51 837.23 953.91Z" fill="url(#gLB)" stroke="#3b9dbb" stroke-width="1.3" stroke-opacity="0.75" stroke-linejoin="round" />
<path d="M899.79 968.93C899.67 966.74 900.69 964.59 901.63 962.8C902.58 961.01 904.16 958.2 905.47 958.2C906.77 958.2 908.38 960.76 909.45 962.8C910.53 964.84 911.91 968.01 911.91 970.47C911.91 972.92 911.04 976.6 909.45 977.52C907.87 978.44 904.01 977.42 902.4 975.99C900.79 974.56 899.92 971.13 899.79 968.93Z" fill="#d9ac62" />
<path d="M960.33 965.87C961.31 961.98 964.3 955.13 969.53 952.07C974.77 949 983.08 948.31 991.77 947.47C1000.46 946.62 1015.36 946.85 1021.67 947.01C1027.98 947.16 1027.29 946.27 1029.64 948.39C1031.99 950.51 1034.24 956.05 1035.77 959.73C1037.31 963.41 1038.84 967.35 1038.84 970.47C1038.84 973.59 1038.13 976.5 1035.77 978.44C1033.42 980.38 1030.92 981.48 1024.73 982.12C1018.55 982.76 1006.85 982.63 998.67 982.27C990.49 981.92 981.49 981.12 975.67 979.97C969.84 978.82 966.26 977.73 963.71 975.37C961.15 973.02 959.36 969.75 960.33 965.87Z" fill="url(#gRed)" stroke="#b9434f" stroke-width="1.3" stroke-opacity="0.75" stroke-linejoin="round" />
<path d="M944.23 953.91C944.23 951.3 945.38 948.92 948.07 947.47C950.75 946.01 954.46 945.55 960.33 945.17C966.21 944.78 977.81 944.66 983.33 945.17C988.85 945.68 991.77 946.52 993.45 948.23C995.14 949.95 993.86 953.22 993.45 955.44C993.05 957.66 992.69 959.43 991 961.57C989.31 963.72 986.91 966.79 983.33 968.32C979.76 969.85 973.88 970.62 969.53 970.77C965.19 970.93 960.85 970.52 957.27 969.24C953.69 967.96 950.24 965.66 948.07 963.11C945.9 960.55 944.23 956.51 944.23 953.91Z" fill="url(#gLB)" stroke="#3b9dbb" stroke-width="1.3" stroke-opacity="0.75" stroke-linejoin="round" />
<path d="M1006.79 968.93C1006.67 966.74 1007.69 964.59 1008.63 962.8C1009.58 961.01 1011.16 958.2 1012.47 958.2C1013.77 958.2 1015.38 960.76 1016.45 962.8C1017.53 964.84 1018.91 968.01 1018.91 970.47C1018.91 972.92 1018.04 976.6 1016.45 977.52C1014.87 978.44 1011.01 977.42 1009.4 975.99C1007.79 974.56 1006.92 971.13 1006.79 968.93Z" fill="#d9ac62" />
<path d="M1067.33 965.87C1068.31 961.98 1071.3 955.13 1076.53 952.07C1081.77 949 1090.08 948.31 1098.77 947.47C1107.46 946.62 1122.36 946.85 1128.67 947.01C1134.98 947.16 1134.29 946.27 1136.64 948.39C1138.99 950.51 1141.24 956.05 1142.77 959.73C1144.31 963.41 1145.84 967.35 1145.84 970.47C1145.84 973.59 1145.13 976.5 1142.77 978.44C1140.42 980.38 1137.92 981.48 1131.73 982.12C1125.55 982.76 1113.85 982.63 1105.67 982.27C1097.49 981.92 1088.49 981.12 1082.67 979.97C1076.84 978.82 1073.26 977.73 1070.71 975.37C1068.15 973.02 1066.36 969.75 1067.33 965.87Z" fill="url(#gRed)" stroke="#b9434f" stroke-width="1.3" stroke-opacity="0.75" stroke-linejoin="round" />
<path d="M1051.23 953.91C1051.23 951.3 1052.38 948.92 1055.07 947.47C1057.75 946.01 1061.46 945.55 1067.33 945.17C1073.21 944.78 1084.81 944.66 1090.33 945.17C1095.85 945.68 1098.77 946.52 1100.45 948.23C1102.14 949.95 1100.86 953.22 1100.45 955.44C1100.05 957.66 1099.69 959.43 1098 961.57C1096.31 963.72 1093.91 966.79 1090.33 968.32C1086.76 969.85 1080.88 970.62 1076.53 970.77C1072.19 970.93 1067.85 970.52 1064.27 969.24C1060.69 967.96 1057.24 965.66 1055.07 963.11C1052.9 960.55 1051.23 956.51 1051.23 953.91Z" fill="url(#gLB)" stroke="#3b9dbb" stroke-width="1.3" stroke-opacity="0.75" stroke-linejoin="round" />
<path d="M1113.79 968.93C1113.67 966.74 1114.69 964.59 1115.63 962.8C1116.58 961.01 1118.16 958.2 1119.47 958.2C1120.77 958.2 1122.38 960.76 1123.45 962.8C1124.53 964.84 1125.91 968.01 1125.91 970.47C1125.91 972.92 1125.04 976.6 1123.45 977.52C1121.87 978.44 1118.01 977.42 1116.4 975.99C1114.79 974.56 1113.92 971.13 1113.79 968.93Z" fill="#d9ac62" />
<path d="M1174.33 965.87C1175.31 961.98 1178.3 955.13 1183.53 952.07C1188.77 949 1197.08 948.31 1205.77 947.47C1214.46 946.62 1229.36 946.85 1235.67 947.01C1241.98 947.16 1241.29 946.27 1243.64 948.39C1245.99 950.51 1248.24 956.05 1249.77 959.73C1251.31 963.41 1252.84 967.35 1252.84 970.47C1252.84 973.59 1252.13 976.5 1249.77 978.44C1247.42 980.38 1244.92 981.48 1238.73 982.12C1232.55 982.76 1220.85 982.63 1212.67 982.27C1204.49 981.92 1195.49 981.12 1189.67 979.97C1183.84 978.82 1180.26 977.73 1177.71 975.37C1175.15 973.02 1173.36 969.75 1174.33 965.87Z" fill="url(#gRed)" stroke="#b9434f" stroke-width="1.3" stroke-opacity="0.75" stroke-linejoin="round" />
<path d="M1158.23 953.91C1158.23 951.3 1159.38 948.92 1162.07 947.47C1164.75 946.01 1168.46 945.55 1174.33 945.17C1180.21 944.78 1191.81 944.66 1197.33 945.17C1202.85 945.68 1205.77 946.52 1207.45 948.23C1209.14 949.95 1207.86 953.22 1207.45 955.44C1207.05 957.66 1206.69 959.43 1205 961.57C1203.31 963.72 1200.91 966.79 1197.33 968.32C1193.76 969.85 1187.88 970.62 1183.53 970.77C1179.19 970.93 1174.85 970.52 1171.27 969.24C1167.69 967.96 1164.24 965.66 1162.07 963.11C1159.9 960.55 1158.23 956.51 1158.23 953.91Z" fill="url(#gLB)" stroke="#3b9dbb" stroke-width="1.3" stroke-opacity="0.75" stroke-linejoin="round" />
<path d="M1220.79 968.93C1220.67 966.74 1221.69 964.59 1222.63 962.8C1223.58 961.01 1225.16 958.2 1226.47 958.2C1227.77 958.2 1229.38 960.76 1230.45 962.8C1231.53 964.84 1232.91 968.01 1232.91 970.47C1232.91 972.92 1232.04 976.6 1230.45 977.52C1228.87 978.44 1225.01 977.42 1223.4 975.99C1221.79 974.56 1220.92 971.13 1220.79 968.93Z" fill="#d9ac62" />
<path d="M1281.33 965.87C1282.31 961.98 1285.3 955.13 1290.53 952.07C1295.77 949 1304.08 948.31 1312.77 947.47C1321.46 946.62 1336.36 946.85 1342.67 947.01C1348.98 947.16 1348.29 946.27 1350.64 948.39C1352.99 950.51 1355.24 956.05 1356.77 959.73C1358.31 963.41 1359.84 967.35 1359.84 970.47C1359.84 973.59 1359.13 976.5 1356.77 978.44C1354.42 980.38 1351.92 981.48 1345.73 982.12C1339.55 982.76 1327.85 982.63 1319.67 982.27C1311.49 981.92 1302.49 981.12 1296.67 979.97C1290.84 978.82 1287.26 977.73 1284.71 975.37C1282.15 973.02 1280.36 969.75 1281.33 965.87Z" fill="url(#gRed)" stroke="#b9434f" stroke-width="1.3" stroke-opacity="0.75" stroke-linejoin="round" />
<path d="M1265.23 953.91C1265.23 951.3 1266.38 948.92 1269.07 947.47C1271.75 946.01 1275.46 945.55 1281.33 945.17C1287.21 944.78 1298.81 944.66 1304.33 945.17C1309.85 945.68 1312.77 946.52 1314.45 948.23C1316.14 949.95 1314.86 953.22 1314.45 955.44C1314.05 957.66 1313.69 959.43 1312 961.57C1310.31 963.72 1307.91 966.79 1304.33 968.32C1300.76 969.85 1294.88 970.62 1290.53 970.77C1286.19 970.93 1281.85 970.52 1278.27 969.24C1274.69 967.96 1271.24 965.66 1269.07 963.11C1266.9 960.55 1265.23 956.51 1265.23 953.91Z" fill="url(#gLB)" stroke="#3b9dbb" stroke-width="1.3" stroke-opacity="0.75" stroke-linejoin="round" />
<path d="M1327.79 968.93C1327.67 966.74 1328.69 964.59 1329.63 962.8C1330.58 961.01 1332.16 958.2 1333.47 958.2C1334.77 958.2 1336.38 960.76 1337.45 962.8C1338.53 964.84 1339.91 968.01 1339.91 970.47C1339.91 972.92 1339.04 976.6 1337.45 977.52C1335.87 978.44 1332.01 977.42 1330.4 975.99C1328.79 974.56 1327.92 971.13 1327.79 968.93Z" fill="#d9ac62" />
<path d="M851.03 1002.97C850.01 1000.78 851.42 998.63 853.33 996.53C855.25 994.44 858.7 992.19 862.53 990.4C866.37 988.61 871.22 987.03 876.33 985.8C881.45 984.57 887.32 983.3 893.2 983.04C899.08 982.79 906.75 983.04 911.6 984.27C916.46 985.49 919.37 988.1 922.33 990.4C925.3 992.7 928.31 995.72 929.39 998.07C930.46 1000.42 930.46 1002.44 928.77 1004.51C927.09 1006.58 924.17 1009.11 919.27 1010.49C914.36 1011.87 906.49 1012.53 899.33 1012.79C892.18 1013.04 882.98 1012.53 876.33 1012.02C869.69 1011.51 863.68 1011.23 859.47 1009.72C855.25 1008.21 852.06 1005.17 851.03 1002.97Z" fill="url(#gLB)" stroke="#3b9dbb" stroke-width="1.3" stroke-opacity="0.75" stroke-linejoin="round" />
<path d="M958.03 1002.97C957.01 1000.78 958.42 998.63 960.33 996.53C962.25 994.44 965.7 992.19 969.53 990.4C973.37 988.61 978.22 987.03 983.33 985.8C988.45 984.57 994.32 983.3 1000.2 983.04C1006.08 982.79 1013.75 983.04 1018.6 984.27C1023.46 985.49 1026.37 988.1 1029.33 990.4C1032.3 992.7 1035.31 995.72 1036.39 998.07C1037.46 1000.42 1037.46 1002.44 1035.77 1004.51C1034.09 1006.58 1031.17 1009.11 1026.27 1010.49C1021.36 1011.87 1013.49 1012.53 1006.33 1012.79C999.18 1013.04 989.98 1012.53 983.33 1012.02C976.69 1011.51 970.68 1011.23 966.47 1009.72C962.25 1008.21 959.06 1005.17 958.03 1002.97Z" fill="url(#gLB)" stroke="#3b9dbb" stroke-width="1.3" stroke-opacity="0.75" stroke-linejoin="round" />
<path d="M1065.03 1002.97C1064.01 1000.78 1065.42 998.63 1067.33 996.53C1069.25 994.44 1072.7 992.19 1076.53 990.4C1080.37 988.61 1085.22 987.03 1090.33 985.8C1095.45 984.57 1101.32 983.3 1107.2 983.04C1113.08 982.79 1120.75 983.04 1125.6 984.27C1130.46 985.49 1133.37 988.1 1136.33 990.4C1139.3 992.7 1142.31 995.72 1143.39 998.07C1144.46 1000.42 1144.46 1002.44 1142.77 1004.51C1141.09 1006.58 1138.17 1009.11 1133.27 1010.49C1128.36 1011.87 1120.49 1012.53 1113.33 1012.79C1106.18 1013.04 1096.98 1012.53 1090.33 1012.02C1083.69 1011.51 1077.68 1011.23 1073.47 1009.72C1069.25 1008.21 1066.06 1005.17 1065.03 1002.97Z" fill="url(#gLB)" stroke="#3b9dbb" stroke-width="1.3" stroke-opacity="0.75" stroke-linejoin="round" />
<path d="M1172.03 1002.97C1171.01 1000.78 1172.42 998.63 1174.33 996.53C1176.25 994.44 1179.7 992.19 1183.53 990.4C1187.37 988.61 1192.22 987.03 1197.33 985.8C1202.45 984.57 1208.32 983.3 1214.2 983.04C1220.08 982.79 1227.75 983.04 1232.6 984.27C1237.46 985.49 1240.37 988.1 1243.33 990.4C1246.3 992.7 1249.31 995.72 1250.39 998.07C1251.46 1000.42 1251.46 1002.44 1249.77 1004.51C1248.09 1006.58 1245.17 1009.11 1240.27 1010.49C1235.36 1011.87 1227.49 1012.53 1220.33 1012.79C1213.18 1013.04 1203.98 1012.53 1197.33 1012.02C1190.69 1011.51 1184.68 1011.23 1180.47 1009.72C1176.25 1008.21 1173.06 1005.17 1172.03 1002.97Z" fill="url(#gLB)" stroke="#3b9dbb" stroke-width="1.3" stroke-opacity="0.75" stroke-linejoin="round" />
<path d="M1279.03 1002.97C1278.01 1000.78 1279.42 998.63 1281.33 996.53C1283.25 994.44 1286.7 992.19 1290.53 990.4C1294.37 988.61 1299.22 987.03 1304.33 985.8C1309.45 984.57 1315.32 983.3 1321.2 983.04C1327.08 982.79 1334.75 983.04 1339.6 984.27C1344.46 985.49 1347.37 988.1 1350.33 990.4C1353.3 992.7 1356.31 995.72 1357.39 998.07C1358.46 1000.42 1358.46 1002.44 1356.77 1004.51C1355.09 1006.58 1352.17 1009.11 1347.27 1010.49C1342.36 1011.87 1334.49 1012.53 1327.33 1012.79C1320.18 1013.04 1310.98 1012.53 1304.33 1012.02C1297.69 1011.51 1291.68 1011.23 1287.47 1009.72C1283.25 1008.21 1280.06 1005.17 1279.03 1002.97Z" fill="url(#gLB)" stroke="#3b9dbb" stroke-width="1.3" stroke-opacity="0.75" stroke-linejoin="round" />
<path d="M905.77 991.63L914.67 1004.2" stroke="#d9a85c" stroke-width="5.2" fill="none"/>
<path d="M914.67 1004.2L923.1 1016.77" stroke="#64a782" stroke-width="5.2" fill="none"/>
<path d="M1012.77 991.63L1021.67 1004.2" stroke="#d9a85c" stroke-width="5.2" fill="none"/>
<path d="M1021.67 1004.2L1030.1 1016.77" stroke="#64a782" stroke-width="5.2" fill="none"/>
<path d="M1119.77 991.63L1128.67 1004.2" stroke="#d9a85c" stroke-width="5.2" fill="none"/>
<path d="M1128.67 1004.2L1137.1 1016.77" stroke="#64a782" stroke-width="5.2" fill="none"/>
<path d="M1226.77 991.63L1235.67 1004.2" stroke="#d9a85c" stroke-width="5.2" fill="none"/>
<path d="M1235.67 1004.2L1244.1 1016.77" stroke="#64a782" stroke-width="5.2" fill="none"/>
<path d="M922.33 988.1C922.79 985.19 924.89 983.22 926.93 982.12C928.98 981.02 932.4 980.64 934.6 981.51C936.8 982.38 938.95 984.32 940.12 987.33C941.3 990.35 941.04 995.77 941.65 999.6C942.27 1003.43 943.19 1007.27 943.8 1010.33C944.41 1013.4 946.36 1016.85 945.33 1018C944.31 1019.15 939.3 1015.7 937.67 1017.23C936.03 1018.77 936.24 1024.47 935.52 1027.2C934.81 1029.94 935.57 1032.06 933.37 1033.64C931.18 1035.23 926.47 1036.35 922.33 1036.71C918.19 1037.07 912.11 1036.61 908.53 1035.79C904.96 1034.97 901.89 1033.49 900.87 1031.8C899.85 1030.11 900.61 1027.58 902.4 1025.67C904.19 1023.75 908.53 1021.71 911.6 1020.3C914.67 1018.9 918.45 1018.64 920.8 1017.23C923.15 1015.83 925.15 1014.81 925.71 1011.87C926.27 1008.93 924.74 1003.56 924.17 999.6C923.61 995.64 921.87 991.01 922.33 988.1Z" fill="url(#gRed)" stroke="#b9434f" stroke-width="1.3" stroke-opacity="0.75" stroke-linejoin="round" />
<path d="M944.72 1018.77C945.44 1017.36 947.28 1017.62 949.93 1018C952.59 1018.38 957.35 1019.79 960.67 1021.07C963.99 1022.35 967.9 1024.01 969.87 1025.67C971.84 1027.33 972.99 1029.35 972.47 1031.03C971.96 1032.72 969.54 1034.84 966.8 1035.79C964.07 1036.73 959.34 1037.07 956.07 1036.71C952.8 1036.35 948.91 1035.35 947.17 1033.64C945.44 1031.93 946.05 1028.91 945.64 1026.43C945.23 1023.96 944.01 1020.17 944.72 1018.77Z" fill="url(#gRed)" stroke="#b9434f" stroke-width="1.3" stroke-opacity="0.75" stroke-linejoin="round" />
<ellipse cx="1136.64" cy="1048.67" rx="6.4" ry="3.9" fill="url(#gLB)" stroke="#3b9dbb" stroke-width="1.3" stroke-opacity="0.75" stroke-linejoin="round" transform="translate(-214,0)"/>
<ellipse cx="1165.47" cy="1048.67" rx="5.4" ry="4.3" fill="url(#gLB)" stroke="#3b9dbb" stroke-width="1.3" stroke-opacity="0.75" stroke-linejoin="round" transform="translate(-214,0)"/>
<path d="M924.63 1058.63C924.69 1057.36 926.04 1055.7 926.93 1054.8C927.83 1053.91 929.36 1054.03 930 1053.27C930.64 1052.5 930.46 1050.2 930.77 1050.2C931.07 1050.2 931.07 1052.5 931.84 1053.27C932.61 1054.03 934.45 1053.91 935.37 1054.8C936.29 1055.7 937.36 1057.31 937.36 1058.63C937.36 1059.96 936.47 1061.88 935.37 1062.77C934.27 1063.67 932.22 1064.05 930.77 1064C929.31 1063.95 927.65 1063.36 926.63 1062.47C925.61 1061.57 924.58 1059.91 924.63 1058.63Z" fill="url(#gRed)" stroke="#b9434f" stroke-width="1.3" stroke-opacity="0.75" stroke-linejoin="round" />
<path d="M1029.33 988.1C1029.79 985.19 1031.89 983.22 1033.93 982.12C1035.98 981.02 1039.4 980.64 1041.6 981.51C1043.8 982.38 1045.95 984.32 1047.12 987.33C1048.3 990.35 1048.04 995.77 1048.65 999.6C1049.27 1003.43 1050.19 1007.27 1050.8 1010.33C1051.41 1013.4 1053.36 1016.85 1052.33 1018C1051.31 1019.15 1046.3 1015.7 1044.67 1017.23C1043.03 1018.77 1043.24 1024.47 1042.52 1027.2C1041.81 1029.94 1042.57 1032.06 1040.37 1033.64C1038.18 1035.23 1033.47 1036.35 1029.33 1036.71C1025.19 1037.07 1019.11 1036.61 1015.53 1035.79C1011.96 1034.97 1008.89 1033.49 1007.87 1031.8C1006.85 1030.11 1007.61 1027.58 1009.4 1025.67C1011.19 1023.75 1015.53 1021.71 1018.6 1020.3C1021.67 1018.9 1025.45 1018.64 1027.8 1017.23C1030.15 1015.83 1032.15 1014.81 1032.71 1011.87C1033.27 1008.93 1031.74 1003.56 1031.17 999.6C1030.61 995.64 1028.87 991.01 1029.33 988.1Z" fill="url(#gRed)" stroke="#b9434f" stroke-width="1.3" stroke-opacity="0.75" stroke-linejoin="round" />
<path d="M1051.72 1018.77C1052.44 1017.36 1054.28 1017.62 1056.93 1018C1059.59 1018.38 1064.35 1019.79 1067.67 1021.07C1070.99 1022.35 1074.9 1024.01 1076.87 1025.67C1078.84 1027.33 1079.99 1029.35 1079.47 1031.03C1078.96 1032.72 1076.54 1034.84 1073.8 1035.79C1071.07 1036.73 1066.34 1037.07 1063.07 1036.71C1059.8 1036.35 1055.91 1035.35 1054.17 1033.64C1052.44 1031.93 1053.05 1028.91 1052.64 1026.43C1052.23 1023.96 1051.01 1020.17 1051.72 1018.77Z" fill="url(#gRed)" stroke="#b9434f" stroke-width="1.3" stroke-opacity="0.75" stroke-linejoin="round" />
<ellipse cx="1136.64" cy="1048.67" rx="6.4" ry="3.9" fill="url(#gLB)" stroke="#3b9dbb" stroke-width="1.3" stroke-opacity="0.75" stroke-linejoin="round" transform="translate(-107,0)"/>
<ellipse cx="1165.47" cy="1048.67" rx="5.4" ry="4.3" fill="url(#gLB)" stroke="#3b9dbb" stroke-width="1.3" stroke-opacity="0.75" stroke-linejoin="round" transform="translate(-107,0)"/>
<path d="M1031.63 1058.63C1031.69 1057.36 1033.04 1055.7 1033.93 1054.8C1034.83 1053.91 1036.36 1054.03 1037 1053.27C1037.64 1052.5 1037.46 1050.2 1037.77 1050.2C1038.07 1050.2 1038.07 1052.5 1038.84 1053.27C1039.61 1054.03 1041.45 1053.91 1042.37 1054.8C1043.29 1055.7 1044.36 1057.31 1044.36 1058.63C1044.36 1059.96 1043.47 1061.88 1042.37 1062.77C1041.27 1063.67 1039.22 1064.05 1037.77 1064C1036.31 1063.95 1034.65 1063.36 1033.63 1062.47C1032.61 1061.57 1031.58 1059.91 1031.63 1058.63Z" fill="url(#gRed)" stroke="#b9434f" stroke-width="1.3" stroke-opacity="0.75" stroke-linejoin="round" />
<path d="M1136.33 988.1C1136.79 985.19 1138.89 983.22 1140.93 982.12C1142.98 981.02 1146.4 980.64 1148.6 981.51C1150.8 982.38 1152.95 984.32 1154.12 987.33C1155.3 990.35 1155.04 995.77 1155.65 999.6C1156.27 1003.43 1157.19 1007.27 1157.8 1010.33C1158.41 1013.4 1160.36 1016.85 1159.33 1018C1158.31 1019.15 1153.3 1015.7 1151.67 1017.23C1150.03 1018.77 1150.24 1024.47 1149.52 1027.2C1148.81 1029.94 1149.57 1032.06 1147.37 1033.64C1145.18 1035.23 1140.47 1036.35 1136.33 1036.71C1132.19 1037.07 1126.11 1036.61 1122.53 1035.79C1118.96 1034.97 1115.89 1033.49 1114.87 1031.8C1113.85 1030.11 1114.61 1027.58 1116.4 1025.67C1118.19 1023.75 1122.53 1021.71 1125.6 1020.3C1128.67 1018.9 1132.45 1018.64 1134.8 1017.23C1137.15 1015.83 1139.15 1014.81 1139.71 1011.87C1140.27 1008.93 1138.74 1003.56 1138.17 999.6C1137.61 995.64 1135.87 991.01 1136.33 988.1Z" fill="url(#gRed)" stroke="#b9434f" stroke-width="1.3" stroke-opacity="0.75" stroke-linejoin="round" />
<path d="M1158.72 1018.77C1159.44 1017.36 1161.28 1017.62 1163.93 1018C1166.59 1018.38 1171.35 1019.79 1174.67 1021.07C1177.99 1022.35 1181.9 1024.01 1183.87 1025.67C1185.84 1027.33 1186.99 1029.35 1186.47 1031.03C1185.96 1032.72 1183.54 1034.84 1180.8 1035.79C1178.07 1036.73 1173.34 1037.07 1170.07 1036.71C1166.8 1036.35 1162.91 1035.35 1161.17 1033.64C1159.44 1031.93 1160.05 1028.91 1159.64 1026.43C1159.23 1023.96 1158.01 1020.17 1158.72 1018.77Z" fill="url(#gRed)" stroke="#b9434f" stroke-width="1.3" stroke-opacity="0.75" stroke-linejoin="round" />
<ellipse cx="1136.64" cy="1048.67" rx="6.4" ry="3.9" fill="url(#gLB)" stroke="#3b9dbb" stroke-width="1.3" stroke-opacity="0.75" stroke-linejoin="round" transform="translate(0,0)"/>
<ellipse cx="1165.47" cy="1048.67" rx="5.4" ry="4.3" fill="url(#gLB)" stroke="#3b9dbb" stroke-width="1.3" stroke-opacity="0.75" stroke-linejoin="round" transform="translate(0,0)"/>
<path d="M1138.63 1058.63C1138.69 1057.36 1140.04 1055.7 1140.93 1054.8C1141.83 1053.91 1143.36 1054.03 1144 1053.27C1144.64 1052.5 1144.46 1050.2 1144.77 1050.2C1145.07 1050.2 1145.07 1052.5 1145.84 1053.27C1146.61 1054.03 1148.45 1053.91 1149.37 1054.8C1150.29 1055.7 1151.36 1057.31 1151.36 1058.63C1151.36 1059.96 1150.47 1061.88 1149.37 1062.77C1148.27 1063.67 1146.22 1064.05 1144.77 1064C1143.31 1063.95 1141.65 1063.36 1140.63 1062.47C1139.61 1061.57 1138.58 1059.91 1138.63 1058.63Z" fill="url(#gRed)" stroke="#b9434f" stroke-width="1.3" stroke-opacity="0.75" stroke-linejoin="round" />
<path d="M1243.33 988.1C1243.79 985.19 1245.89 983.22 1247.93 982.12C1249.98 981.02 1253.4 980.64 1255.6 981.51C1257.8 982.38 1259.95 984.32 1261.12 987.33C1262.3 990.35 1262.04 995.77 1262.65 999.6C1263.27 1003.43 1264.19 1007.27 1264.8 1010.33C1265.41 1013.4 1267.36 1016.85 1266.33 1018C1265.31 1019.15 1260.3 1015.7 1258.67 1017.23C1257.03 1018.77 1257.24 1024.47 1256.52 1027.2C1255.81 1029.94 1256.57 1032.06 1254.37 1033.64C1252.18 1035.23 1247.47 1036.35 1243.33 1036.71C1239.19 1037.07 1233.11 1036.61 1229.53 1035.79C1225.96 1034.97 1222.89 1033.49 1221.87 1031.8C1220.85 1030.11 1221.61 1027.58 1223.4 1025.67C1225.19 1023.75 1229.53 1021.71 1232.6 1020.3C1235.67 1018.9 1239.45 1018.64 1241.8 1017.23C1244.15 1015.83 1246.15 1014.81 1246.71 1011.87C1247.27 1008.93 1245.74 1003.56 1245.17 999.6C1244.61 995.64 1242.87 991.01 1243.33 988.1Z" fill="url(#gRed)" stroke="#b9434f" stroke-width="1.3" stroke-opacity="0.75" stroke-linejoin="round" />
<path d="M1265.72 1018.77C1266.44 1017.36 1268.28 1017.62 1270.93 1018C1273.59 1018.38 1278.35 1019.79 1281.67 1021.07C1284.99 1022.35 1288.9 1024.01 1290.87 1025.67C1292.84 1027.33 1293.99 1029.35 1293.47 1031.03C1292.96 1032.72 1290.54 1034.84 1287.8 1035.79C1285.07 1036.73 1280.34 1037.07 1277.07 1036.71C1273.8 1036.35 1269.91 1035.35 1268.17 1033.64C1266.44 1031.93 1267.05 1028.91 1266.64 1026.43C1266.23 1023.96 1265.01 1020.17 1265.72 1018.77Z" fill="url(#gRed)" stroke="#b9434f" stroke-width="1.3" stroke-opacity="0.75" stroke-linejoin="round" />
<ellipse cx="1136.64" cy="1048.67" rx="6.4" ry="3.9" fill="url(#gLB)" stroke="#3b9dbb" stroke-width="1.3" stroke-opacity="0.75" stroke-linejoin="round" transform="translate(107,0)"/>
<ellipse cx="1165.47" cy="1048.67" rx="5.4" ry="4.3" fill="url(#gLB)" stroke="#3b9dbb" stroke-width="1.3" stroke-opacity="0.75" stroke-linejoin="round" transform="translate(107,0)"/>
<path d="M1245.63 1058.63C1245.69 1057.36 1247.04 1055.7 1247.93 1054.8C1248.83 1053.91 1250.36 1054.03 1251 1053.27C1251.64 1052.5 1251.46 1050.2 1251.77 1050.2C1252.07 1050.2 1252.07 1052.5 1252.84 1053.27C1253.61 1054.03 1255.45 1053.91 1256.37 1054.8C1257.29 1055.7 1258.36 1057.31 1258.36 1058.63C1258.36 1059.96 1257.47 1061.88 1256.37 1062.77C1255.27 1063.67 1253.22 1064.05 1251.77 1064C1250.31 1063.95 1248.65 1063.36 1247.63 1062.47C1246.61 1061.57 1245.58 1059.91 1245.63 1058.63Z" fill="url(#gRed)" stroke="#b9434f" stroke-width="1.3" stroke-opacity="0.75" stroke-linejoin="round" /></g>
<g fill="none">
<path d="M991.8 814L984.51 826.9" stroke="#64a782" stroke-width="6.4"/><path d="M984.51 826.9L967.5 857" stroke="#d7aa62" stroke-width="6.4"/>
<path d="M1024.3 813.91L1033.81 820.04" stroke="#64a782" stroke-width="4.2"/><path d="M1024.3 813.91L1033.81 820.04" stroke="#d7f0e1" stroke-width="1.3"/>
<path d="M1039.63 825.87L1065.7 846.57" stroke="#d7aa62" stroke-width="4.4"/><path d="M1039.63 825.87L1065.7 846.57" stroke="#fbeed0" stroke-width="1.4"/>
<path d="M1098.8 814L1091.51 826.9" stroke="#64a782" stroke-width="6.4"/><path d="M1091.51 826.9L1074.5 857" stroke="#d7aa62" stroke-width="6.4"/>
<path d="M1131.3 813.91L1140.81 820.04" stroke="#64a782" stroke-width="4.2"/><path d="M1131.3 813.91L1140.81 820.04" stroke="#d7f0e1" stroke-width="1.3"/>
<path d="M1146.63 825.87L1172.7 846.57" stroke="#d7aa62" stroke-width="4.4"/><path d="M1146.63 825.87L1172.7 846.57" stroke="#fbeed0" stroke-width="1.4"/>
<path d="M1205.8 814L1198.51 826.9" stroke="#64a782" stroke-width="6.4"/><path d="M1198.51 826.9L1181.5 857" stroke="#d7aa62" stroke-width="6.4"/>
<path d="M1238.3 813.91L1247.81 820.04" stroke="#64a782" stroke-width="4.2"/><path d="M1238.3 813.91L1247.81 820.04" stroke="#d7f0e1" stroke-width="1.3"/>
<path d="M1253.63 825.87L1279.7 846.57" stroke="#d7aa62" stroke-width="4.4"/><path d="M1253.63 825.87L1279.7 846.57" stroke="#fbeed0" stroke-width="1.4"/>
<path d="M1030.8 1048.3L1019.68 1066.82" stroke="#64a782" stroke-width="6.8"/><path d="M1019.68 1066.82L1003 1094.6" stroke="#d7aa62" stroke-width="6.8"/>
<path d="M1048.8 1042.8L1073.28 1063.52" stroke="#64a782" stroke-width="6"/><path d="M1073.28 1063.52L1110 1094.6" stroke="#d7aa62" stroke-width="6"/><path d="M1048.8 1042.8L1073.28 1063.52" stroke="#c9ead7" stroke-width="1.8"/><path d="M1073.28 1063.52L1110 1094.6" stroke="#fbeed0" stroke-width="1.8"/>
<path d="M1137.8 1048.3L1126.68 1066.82" stroke="#64a782" stroke-width="6.8"/><path d="M1126.68 1066.82L1110 1094.6" stroke="#d7aa62" stroke-width="6.8"/>
<path d="M1155.8 1042.8L1180.28 1063.52" stroke="#64a782" stroke-width="6"/><path d="M1180.28 1063.52L1217 1094.6" stroke="#d7aa62" stroke-width="6"/><path d="M1155.8 1042.8L1180.28 1063.52" stroke="#c9ead7" stroke-width="1.8"/><path d="M1180.28 1063.52L1217 1094.6" stroke="#fbeed0" stroke-width="1.8"/>
<path d="M1244.8 1048.3L1233.68 1066.82" stroke="#64a782" stroke-width="6.8"/><path d="M1233.68 1066.82L1217 1094.6" stroke="#d7aa62" stroke-width="6.8"/>
<path d="M1262.8 1042.8L1287.28 1063.52" stroke="#64a782" stroke-width="6"/><path d="M1287.28 1063.52L1324 1094.6" stroke="#d7aa62" stroke-width="6"/><path d="M1262.8 1042.8L1287.28 1063.52" stroke="#c9ead7" stroke-width="1.8"/><path d="M1287.28 1063.52L1324 1094.6" stroke="#fbeed0" stroke-width="1.8"/>
</g>
<circle cx="967.5" cy="733.6" r="16" fill="url(#gS)"/>
<circle cx="967.5" cy="857" r="16" fill="url(#gS)"/>
<circle cx="1074.5" cy="733.6" r="16" fill="url(#gS)"/>
<circle cx="1074.5" cy="857" r="16" fill="url(#gS)"/>
<circle cx="1181.5" cy="733.6" r="16" fill="url(#gS)"/>
<circle cx="1181.5" cy="857" r="16" fill="url(#gS)"/>
<circle cx="1288.5" cy="733.6" r="16" fill="url(#gS)"/>
<circle cx="1288.5" cy="857" r="16" fill="url(#gS)"/>
<circle cx="1003" cy="1094.6" r="16" fill="url(#gS)"/>
<circle cx="1110" cy="1094.6" r="16" fill="url(#gS)"/>
<circle cx="1217" cy="1094.6" r="16" fill="url(#gS)"/>
<circle cx="1324" cy="1094.6" r="16" fill="url(#gS)"/>
<circle cx="1324.2" cy="970.6" r="16" fill="url(#gS)"/>
<path d="M865.6 1070.8V1122.8H919.6" stroke="#231815" stroke-width="2.9" fill="none" stroke-linejoin="miter"/><path d="M856.9 1072.1L865.6 1057.3L874.3 1072.1Z" fill="#231815"/><path d="M917.8 1114.3L932.9 1122.8L917.8 1131.3Z" fill="#231815"/>
<text x="855" y="1042" font-size="39" text-anchor="start" fill="#000" font-style="italic">z</text>
<text x="938" y="1132" font-size="39" text-anchor="start" fill="#000" font-style="italic">y</text>
<path d="M1366.9 846.9V913H1357.8L1369.3 954.7L1380.9 913H1371.8V846.9Z" fill="#727171"/>
<text x="1388.6" y="911.4" font-size="33.5" text-anchor="start" fill="#727171" font-weight="bold">P-</text>
<text x="805.5" y="738.2" font-size="54" text-anchor="start" fill="#000">e</text>
<circle cx="1393.6" cy="1047.2" r="16.3" fill="url(#gSL)"/><circle cx="1396.3" cy="1123.9" r="23.7" fill="url(#gWL)"/>
<text x="1444.5" y="1063.4" font-size="38.5" text-anchor="start" fill="#000">S</text>
<text x="1444.5" y="1139.2" font-size="38.5" text-anchor="start" fill="#000">W</text>
<rect x="475" y="653" width="95" height="15.8" fill="#b8474f"/><rect x="1025" y="653.3" width="95" height="15.7" fill="#54b6d2"/>
<text x="616" y="668.8" font-size="38.1" text-anchor="start" fill="#000">Charge accumulation</text>
<text x="1165.5" y="669.2" font-size="38.1" text-anchor="start" fill="#000">Charge depletion</text>
<path d="M217.02 1453.26L217.53 1453.2L218.05 1453.13L218.57 1453.04L219.09 1452.94L219.61 1452.85L220.12 1452.75L220.64 1452.66L221.16 1452.58L221.68 1452.51L222.2 1452.44L222.72 1452.39L223.23 1452.36L223.75 1452.33L224.27 1452.33L224.69 1452.33L225.11 1452.36L225.54 1452.39L225.96 1452.44L226.38 1452.51L226.8 1452.58L227.22 1452.66L227.65 1452.75L228.07 1452.85L228.49 1452.94L228.91 1453.04L229.33 1453.13L229.76 1453.2L230.18 1453.26Z" fill="#e60012"/>
<path d="M230.18 1453.26L230.82 1454.27L231.47 1455.72L232.11 1457.38L232.75 1459.13L233.4 1460.91L234.04 1462.66L234.69 1464.34L235.33 1465.88L235.97 1467.26L236.62 1468.44L237.26 1469.38L237.91 1470.08L238.55 1470.5L239.19 1470.64L239.56 1470.5L239.92 1470.08L240.28 1469.38L240.64 1468.44L241.01 1467.26L241.37 1465.88L241.73 1464.34L242.09 1462.66L242.46 1460.91L242.82 1459.13L243.18 1457.38L243.55 1455.72L243.91 1454.27L244.27 1453.26Z" fill="#22ac38"/>
<path d="M244.27 1453.26L244.55 1452.91L244.82 1452.42L245.09 1451.86L245.37 1451.27L245.64 1450.66L245.91 1450.07L246.19 1449.5L246.46 1448.97L246.74 1448.51L247.01 1448.11L247.28 1447.79L247.56 1447.55L247.83 1447.41L248.11 1447.36L248.34 1447.41L248.58 1447.55L248.82 1447.79L249.05 1448.11L249.29 1448.51L249.53 1448.97L249.76 1449.5L250 1450.07L250.24 1450.66L250.47 1451.27L250.71 1451.86L250.95 1452.42L251.19 1452.91L251.42 1453.26Z" fill="#e60012"/>
<path d="M251.42 1453.26L252.06 1447.91L252.7 1440.19L253.33 1431.42L253.97 1422.12L254.6 1412.67L255.24 1403.37L255.88 1394.5L256.51 1386.3L257.15 1378.99L257.79 1372.75L258.42 1367.73L259.06 1364.05L259.7 1361.81L260.33 1361.06L260.57 1361.81L260.81 1364.05L261.05 1367.73L261.28 1372.75L261.52 1378.99L261.76 1386.3L261.99 1394.5L262.23 1403.37L262.47 1412.67L262.7 1422.12L262.94 1431.42L263.18 1440.19L263.41 1447.91L263.65 1453.26Z" fill="#e60012"/>
<path d="M263.65 1453.26L263.96 1462.54L264.27 1475.92L264.58 1491.13L264.89 1507.25L265.21 1523.64L265.52 1539.76L265.83 1555.14L266.14 1569.35L266.45 1582.03L266.76 1592.86L267.07 1601.56L267.38 1607.94L267.69 1611.82L268 1613.13L268.28 1611.82L268.57 1607.94L268.85 1601.56L269.13 1592.86L269.41 1582.03L269.69 1569.35L269.97 1555.14L270.25 1539.76L270.53 1523.64L270.82 1507.25L271.1 1491.13L271.38 1475.92L271.66 1462.54L271.94 1453.26Z" fill="#22ac38"/>
<path d="M271.94 1453.26L272.16 1444.91L272.39 1432.88L272.61 1419.21L272.83 1404.71L273.05 1389.98L273.27 1375.49L273.5 1361.66L273.72 1348.88L273.94 1337.48L274.16 1327.75L274.38 1319.92L274.61 1314.2L274.83 1310.7L275.05 1309.53L275.27 1310.7L275.48 1314.2L275.69 1319.92L275.91 1327.75L276.12 1337.48L276.34 1348.88L276.55 1361.66L276.77 1375.49L276.98 1389.98L277.2 1404.71L277.41 1419.21L277.63 1432.88L277.84 1444.91L278.06 1453.26Z" fill="#e60012"/>
<path d="M278.06 1453.26L278.33 1465.19L278.6 1482.39L278.88 1501.94L279.15 1522.66L279.43 1543.73L279.7 1564.46L279.97 1584.22L280.25 1602.49L280.52 1618.79L280.79 1632.71L281.07 1643.9L281.34 1652.09L281.62 1657.08L281.89 1658.76L282.16 1657.08L282.44 1652.09L282.71 1643.9L282.99 1632.71L283.26 1618.79L283.53 1602.49L283.81 1584.22L284.08 1564.46L284.36 1543.73L284.63 1522.66L284.9 1501.94L285.18 1482.39L285.45 1465.19L285.72 1453.26Z" fill="#22ac38"/>
<path d="M285.72 1453.26L286.09 1445.62L286.45 1434.6L286.81 1422.08L287.18 1408.8L287.54 1395.31L287.9 1382.04L288.26 1369.38L288.63 1357.68L288.99 1347.24L289.35 1338.32L289.71 1331.16L290.08 1325.91L290.44 1322.71L290.8 1321.64L291.14 1322.71L291.47 1325.91L291.8 1331.16L292.14 1338.32L292.47 1347.24L292.8 1357.68L293.13 1369.38L293.47 1382.04L293.8 1395.31L294.13 1408.8L294.47 1422.08L294.8 1434.6L295.13 1445.62L295.47 1453.26Z" fill="#e60012"/>
<path d="M295.47 1453.26L295.63 1456.41L295.79 1460.96L295.95 1466.13L296.12 1471.6L296.28 1477.17L296.44 1482.65L296.61 1487.88L296.77 1492.71L296.93 1497.02L297.09 1500.69L297.26 1503.65L297.42 1505.82L297.58 1507.14L297.75 1507.58L297.95 1507.14L298.15 1505.82L298.35 1503.65L298.55 1500.69L298.75 1497.02L298.95 1492.71L299.15 1487.88L299.34 1482.65L299.54 1477.17L299.74 1471.6L299.94 1466.13L300.14 1460.96L300.34 1456.41L300.54 1453.26Z" fill="#22ac38"/>
<path d="M300.54 1453.26L300.82 1446.82L301.09 1437.55L301.37 1427L301.64 1415.83L301.91 1404.47L302.19 1393.29L302.46 1382.63L302.74 1372.78L303.01 1363.99L303.28 1356.48L303.56 1350.45L303.83 1346.03L304.1 1343.34L304.38 1342.43L304.65 1343.34L304.93 1346.03L305.2 1350.45L305.47 1356.48L305.75 1363.99L306.02 1372.78L306.3 1382.63L306.57 1393.29L306.84 1404.47L307.12 1415.83L307.39 1427L307.67 1437.55L307.94 1446.82L308.21 1453.26Z" fill="#e60012"/>
<path d="M308.21 1453.26L308.46 1459.33L308.72 1468.09L308.97 1478.04L309.22 1488.59L309.47 1499.32L309.72 1509.86L309.97 1519.93L310.23 1529.23L310.48 1537.52L310.73 1544.61L310.98 1550.3L311.23 1554.47L311.48 1557.02L311.74 1557.87L312.07 1557.02L312.4 1554.47L312.74 1550.3L313.07 1544.61L313.4 1537.52L313.74 1529.23L314.07 1519.93L314.4 1509.86L314.73 1499.32L315.07 1488.59L315.4 1478.04L315.73 1468.09L316.07 1459.33L316.4 1453.26Z" fill="#22ac38"/>
<path d="M316.4 1453.26L316.67 1448.37L316.95 1441.33L317.22 1433.33L317.5 1424.84L317.77 1416.22L318.04 1407.74L318.32 1399.65L318.59 1392.17L318.87 1385.49L319.14 1379.8L319.41 1375.22L319.69 1371.86L319.96 1369.82L320.23 1369.13L320.56 1369.82L320.89 1371.86L321.21 1375.22L321.54 1379.8L321.86 1385.49L322.19 1392.17L322.51 1399.65L322.84 1407.74L323.17 1416.22L323.49 1424.84L323.82 1433.33L324.14 1441.33L324.47 1448.37L324.79 1453.26Z" fill="#e60012"/>
<path d="M324.79 1453.26L324.87 1453.6L324.94 1454.09L325.02 1454.65L325.09 1455.25L325.16 1455.85L325.24 1456.45L325.31 1457.02L325.39 1457.54L325.46 1458.01L325.53 1458.41L325.61 1458.73L325.68 1458.96L325.76 1459.11L325.83 1459.16L325.93 1459.11L326.02 1458.96L326.12 1458.73L326.22 1458.41L326.31 1458.01L326.41 1457.54L326.5 1457.02L326.6 1456.45L326.7 1455.85L326.79 1455.25L326.89 1454.65L326.99 1454.09L327.08 1453.6L327.18 1453.26Z" fill="#22ac38"/>
<path d="M327.18 1453.26L327.43 1452.72L327.68 1451.94L327.93 1451.05L328.18 1450.11L328.44 1449.16L328.69 1448.22L328.94 1447.32L329.19 1446.49L329.44 1445.76L329.69 1445.12L329.95 1444.62L330.2 1444.25L330.45 1444.02L330.7 1443.94L331.05 1444.02L331.4 1444.25L331.75 1444.62L332.09 1445.12L332.44 1445.76L332.79 1446.49L333.14 1447.32L333.48 1448.22L333.83 1449.16L334.18 1450.11L334.53 1451.05L334.88 1451.94L335.22 1452.72L335.57 1453.26Z" fill="#e60012"/>
<path d="M335.57 1453.26L335.86 1453.85L336.15 1454.71L336.44 1455.68L336.73 1456.72L337.02 1457.77L337.3 1458.8L337.59 1459.79L337.88 1460.7L338.17 1461.51L338.46 1462.2L338.75 1462.76L339.04 1463.17L339.33 1463.42L339.61 1463.5L339.93 1463.42L340.25 1463.17L340.57 1462.76L340.89 1462.2L341.21 1461.51L341.52 1460.7L341.84 1459.79L342.16 1458.8L342.48 1457.77L342.8 1456.72L343.12 1455.68L343.43 1454.71L343.75 1453.85L344.07 1453.26Z" fill="#22ac38"/>
<path d="M344.07 1453.26L344.43 1452.9L344.8 1452.38L345.16 1451.79L345.52 1451.16L345.88 1450.52L346.25 1449.9L346.61 1449.3L346.97 1448.75L347.33 1448.26L347.7 1447.84L348.06 1447.5L348.42 1447.25L348.79 1447.1L349.15 1447.05L350.3 1447.1L351.44 1447.25L352.59 1447.5L353.74 1447.84L354.89 1448.26L356.03 1448.75L357.18 1449.3L358.33 1449.9L359.47 1450.52L360.62 1451.16L361.77 1451.79L362.92 1452.38L364.06 1452.9L365.21 1453.26Z" fill="#e60012"/>
<path d="M131 1453.2571428571428L217.02 1453.26L217.53 1453.2L218.05 1453.13L218.57 1453.04L219.09 1452.94L219.61 1452.85L220.12 1452.75L220.64 1452.66L221.16 1452.58L221.68 1452.51L222.2 1452.44L222.72 1452.39L223.23 1452.36L223.75 1452.33L224.27 1452.33L224.69 1452.33L225.11 1452.36L225.54 1452.39L225.96 1452.44L226.38 1452.51L226.8 1452.58L227.22 1452.66L227.65 1452.75L228.07 1452.85L228.49 1452.94L228.91 1453.04L229.33 1453.13L229.76 1453.2L230.18 1453.26L230.82 1454.27L231.47 1455.72L232.11 1457.38L232.75 1459.13L233.4 1460.91L234.04 1462.66L234.69 1464.34L235.33 1465.88L235.97 1467.26L236.62 1468.44L237.26 1469.38L237.91 1470.08L238.55 1470.5L239.19 1470.64L239.56 1470.5L239.92 1470.08L240.28 1469.38L240.64 1468.44L241.01 1467.26L241.37 1465.88L241.73 1464.34L242.09 1462.66L242.46 1460.91L242.82 1459.13L243.18 1457.38L243.55 1455.72L243.91 1454.27L244.27 1453.26L244.55 1452.91L244.82 1452.42L245.09 1451.86L245.37 1451.27L245.64 1450.66L245.91 1450.07L246.19 1449.5L246.46 1448.97L246.74 1448.51L247.01 1448.11L247.28 1447.79L247.56 1447.55L247.83 1447.41L248.11 1447.36L248.34 1447.41L248.58 1447.55L248.82 1447.79L249.05 1448.11L249.29 1448.51L249.53 1448.97L249.76 1449.5L250 1450.07L250.24 1450.66L250.47 1451.27L250.71 1451.86L250.95 1452.42L251.19 1452.91L251.42 1453.26L252.06 1447.91L252.7 1440.19L253.33 1431.42L253.97 1422.12L254.6 1412.67L255.24 1403.37L255.88 1394.5L256.51 1386.3L257.15 1378.99L257.79 1372.75L258.42 1367.73L259.06 1364.05L259.7 1361.81L260.33 1361.06L260.57 1361.81L260.81 1364.05L261.05 1367.73L261.28 1372.75L261.52 1378.99L261.76 1386.3L261.99 1394.5L262.23 1403.37L262.47 1412.67L262.7 1422.12L262.94 1431.42L263.18 1440.19L263.41 1447.91L263.65 1453.26L263.96 1462.54L264.27 1475.92L264.58 1491.13L264.89 1507.25L265.21 1523.64L265.52 1539.76L265.83 1555.14L266.14 1569.35L266.45 1582.03L266.76 1592.86L267.07 1601.56L267.38 1607.94L267.69 1611.82L268 1613.13L268.28 1611.82L268.57 1607.94L268.85 1601.56L269.13 1592.86L269.41 1582.03L269.69 1569.35L269.97 1555.14L270.25 1539.76L270.53 1523.64L270.82 1507.25L271.1 1491.13L271.38 1475.92L271.66 1462.54L271.94 1453.26L272.16 1444.91L272.39 1432.88L272.61 1419.21L272.83 1404.71L273.05 1389.98L273.27 1375.49L273.5 1361.66L273.72 1348.88L273.94 1337.48L274.16 1327.75L274.38 1319.92L274.61 1314.2L274.83 1310.7L275.05 1309.53L275.27 1310.7L275.48 1314.2L275.69 1319.92L275.91 1327.75L276.12 1337.48L276.34 1348.88L276.55 1361.66L276.77 1375.49L276.98 1389.98L277.2 1404.71L277.41 1419.21L277.63 1432.88L277.84 1444.91L278.06 1453.26L278.33 1465.19L278.6 1482.39L278.88 1501.94L279.15 1522.66L279.43 1543.73L279.7 1564.46L279.97 1584.22L280.25 1602.49L280.52 1618.79L280.79 1632.71L281.07 1643.9L281.34 1652.09L281.62 1657.08L281.89 1658.76L282.16 1657.08L282.44 1652.09L282.71 1643.9L282.99 1632.71L283.26 1618.79L283.53 1602.49L283.81 1584.22L284.08 1564.46L284.36 1543.73L284.63 1522.66L284.9 1501.94L285.18 1482.39L285.45 1465.19L285.72 1453.26L286.09 1445.62L286.45 1434.6L286.81 1422.08L287.18 1408.8L287.54 1395.31L287.9 1382.04L288.26 1369.38L288.63 1357.68L288.99 1347.24L289.35 1338.32L289.71 1331.16L290.08 1325.91L290.44 1322.71L290.8 1321.64L291.14 1322.71L291.47 1325.91L291.8 1331.16L292.14 1338.32L292.47 1347.24L292.8 1357.68L293.13 1369.38L293.47 1382.04L293.8 1395.31L294.13 1408.8L294.47 1422.08L294.8 1434.6L295.13 1445.62L295.47 1453.26L295.63 1456.41L295.79 1460.96L295.95 1466.13L296.12 1471.6L296.28 1477.17L296.44 1482.65L296.61 1487.88L296.77 1492.71L296.93 1497.02L297.09 1500.69L297.26 1503.65L297.42 1505.82L297.58 1507.14L297.75 1507.58L297.95 1507.14L298.15 1505.82L298.35 1503.65L298.55 1500.69L298.75 1497.02L298.95 1492.71L299.15 1487.88L299.34 1482.65L299.54 1477.17L299.74 1471.6L299.94 1466.13L300.14 1460.96L300.34 1456.41L300.54 1453.26L300.82 1446.82L301.09 1437.55L301.37 1427L301.64 1415.83L301.91 1404.47L302.19 1393.29L302.46 1382.63L302.74 1372.78L303.01 1363.99L303.28 1356.48L303.56 1350.45L303.83 1346.03L304.1 1343.34L304.38 1342.43L304.65 1343.34L304.93 1346.03L305.2 1350.45L305.47 1356.48L305.75 1363.99L306.02 1372.78L306.3 1382.63L306.57 1393.29L306.84 1404.47L307.12 1415.83L307.39 1427L307.67 1437.55L307.94 1446.82L308.21 1453.26L308.46 1459.33L308.72 1468.09L308.97 1478.04L309.22 1488.59L309.47 1499.32L309.72 1509.86L309.97 1519.93L310.23 1529.23L310.48 1537.52L310.73 1544.61L310.98 1550.3L311.23 1554.47L311.48 1557.02L311.74 1557.87L312.07 1557.02L312.4 1554.47L312.74 1550.3L313.07 1544.61L313.4 1537.52L313.74 1529.23L314.07 1519.93L314.4 1509.86L314.73 1499.32L315.07 1488.59L315.4 1478.04L315.73 1468.09L316.07 1459.33L316.4 1453.26L316.67 1448.37L316.95 1441.33L317.22 1433.33L317.5 1424.84L317.77 1416.22L318.04 1407.74L318.32 1399.65L318.59 1392.17L318.87 1385.49L319.14 1379.8L319.41 1375.22L319.69 1371.86L319.96 1369.82L320.23 1369.13L320.56 1369.82L320.89 1371.86L321.21 1375.22L321.54 1379.8L321.86 1385.49L322.19 1392.17L322.51 1399.65L322.84 1407.74L323.17 1416.22L323.49 1424.84L323.82 1433.33L324.14 1441.33L324.47 1448.37L324.79 1453.26L324.87 1453.6L324.94 1454.09L325.02 1454.65L325.09 1455.25L325.16 1455.85L325.24 1456.45L325.31 1457.02L325.39 1457.54L325.46 1458.01L325.53 1458.41L325.61 1458.73L325.68 1458.96L325.76 1459.11L325.83 1459.16L325.93 1459.11L326.02 1458.96L326.12 1458.73L326.22 1458.41L326.31 1458.01L326.41 1457.54L326.5 1457.02L326.6 1456.45L326.7 1455.85L326.79 1455.25L326.89 1454.65L326.99 1454.09L327.08 1453.6L327.18 1453.26L327.43 1452.72L327.68 1451.94L327.93 1451.05L328.18 1450.11L328.44 1449.16L328.69 1448.22L328.94 1447.32L329.19 1446.49L329.44 1445.76L329.69 1445.12L329.95 1444.62L330.2 1444.25L330.45 1444.02L330.7 1443.94L331.05 1444.02L331.4 1444.25L331.75 1444.62L332.09 1445.12L332.44 1445.76L332.79 1446.49L333.14 1447.32L333.48 1448.22L333.83 1449.16L334.18 1450.11L334.53 1451.05L334.88 1451.94L335.22 1452.72L335.57 1453.26L335.86 1453.85L336.15 1454.71L336.44 1455.68L336.73 1456.72L337.02 1457.77L337.3 1458.8L337.59 1459.79L337.88 1460.7L338.17 1461.51L338.46 1462.2L338.75 1462.76L339.04 1463.17L339.33 1463.42L339.61 1463.5L339.93 1463.42L340.25 1463.17L340.57 1462.76L340.89 1462.2L341.21 1461.51L341.52 1460.7L341.84 1459.79L342.16 1458.8L342.48 1457.77L342.8 1456.72L343.12 1455.68L343.43 1454.71L343.75 1453.85L344.07 1453.26L344.43 1452.9L344.8 1452.38L345.16 1451.79L345.52 1451.16L345.88 1450.52L346.25 1449.9L346.61 1449.3L346.97 1448.75L347.33 1448.26L347.7 1447.84L348.06 1447.5L348.42 1447.25L348.79 1447.1L349.15 1447.05L350.3 1447.1L351.44 1447.25L352.59 1447.5L353.74 1447.84L354.89 1448.26L356.03 1448.75L357.18 1449.3L358.33 1449.9L359.47 1450.52L360.62 1451.16L361.77 1451.79L362.92 1452.38L364.06 1452.9L365.21 1453.26L441.9 1453.2571428571428" fill="none" stroke="#000" stroke-width="1" stroke-linejoin="round"/>
<path d="M522.22 1453.26L523.53 1452.86L524.85 1452.29L526.17 1451.64L527.49 1450.95L528.8 1450.25L530.12 1449.56L531.44 1448.9L532.76 1448.3L534.07 1447.76L535.39 1447.29L536.71 1446.92L538.03 1446.65L539.34 1446.48L540.66 1446.43L541.05 1446.48L541.43 1446.65L541.82 1446.92L542.2 1447.29L542.59 1447.76L542.97 1448.3L543.36 1448.9L543.74 1449.56L544.13 1450.25L544.51 1450.95L544.9 1451.64L545.28 1452.29L545.67 1452.86L546.05 1453.26Z" fill="#e60012"/>
<path d="M546.05 1453.26L546.36 1453.83L546.67 1454.67L546.98 1455.61L547.3 1456.61L547.61 1457.63L547.92 1458.63L548.23 1459.59L548.54 1460.47L548.85 1461.26L549.16 1461.93L549.47 1462.47L549.78 1462.87L550.09 1463.11L550.4 1463.19L550.69 1463.11L550.97 1462.87L551.25 1462.47L551.53 1461.93L551.81 1461.26L552.09 1460.47L552.37 1459.59L552.65 1458.63L552.94 1457.63L553.22 1456.61L553.5 1455.61L553.78 1454.67L554.06 1453.83L554.34 1453.26Z" fill="#22ac38"/>
<path d="M554.34 1453.26L554.74 1452.64L555.14 1451.76L555.54 1450.76L555.94 1449.69L556.34 1448.61L556.74 1447.55L557.14 1446.53L557.54 1445.59L557.94 1444.76L558.34 1444.04L558.74 1443.47L559.14 1443.05L559.54 1442.79L559.94 1442.7L560.15 1442.79L560.37 1443.05L560.58 1443.47L560.8 1444.04L561.01 1444.76L561.23 1445.59L561.44 1446.53L561.66 1447.55L561.87 1448.61L562.09 1449.69L562.3 1450.76L562.51 1451.76L562.73 1452.64L562.94 1453.26Z" fill="#e60012"/>
<path d="M562.94 1453.26L563.05 1453.55L563.15 1453.96L563.25 1454.43L563.36 1454.93L563.46 1455.44L563.57 1455.94L563.67 1456.42L563.77 1456.86L563.88 1457.26L563.98 1457.59L564.08 1457.86L564.19 1458.06L564.29 1458.18L564.39 1458.22L564.51 1458.18L564.62 1458.06L564.73 1457.86L564.84 1457.59L564.95 1457.26L565.06 1456.86L565.17 1456.42L565.28 1455.94L565.39 1455.44L565.5 1454.93L565.62 1454.43L565.73 1453.96L565.84 1453.55L565.95 1453.26Z" fill="#22ac38"/>
<path d="M565.95 1453.26L566.25 1447.92L566.54 1440.23L566.84 1431.49L567.13 1422.22L567.43 1412.8L567.73 1403.54L568.02 1394.7L568.32 1386.53L568.61 1379.24L568.91 1373.02L569.21 1368.02L569.5 1364.35L569.8 1362.12L570.09 1361.37L570.37 1362.12L570.64 1364.35L570.92 1368.02L571.19 1373.02L571.46 1379.24L571.74 1386.53L572.01 1394.7L572.29 1403.54L572.56 1412.8L572.83 1422.22L573.11 1431.49L573.38 1440.23L573.65 1447.92L573.93 1453.26Z" fill="#e60012"/>
<path d="M573.93 1453.26L574.25 1459.8L574.57 1469.23L574.88 1479.95L575.2 1491.32L575.52 1502.87L575.84 1514.23L576.16 1525.07L576.48 1535.09L576.79 1544.03L577.11 1551.66L577.43 1557.79L577.75 1562.28L578.07 1565.02L578.39 1565.94L578.67 1565.02L578.95 1562.28L579.23 1557.79L579.51 1551.66L579.79 1544.03L580.07 1535.09L580.35 1525.07L580.64 1514.23L580.92 1502.87L581.2 1491.32L581.48 1479.95L581.76 1469.23L582.04 1459.8L582.32 1453.26Z" fill="#22ac38"/>
<path d="M582.32 1453.26L582.55 1446.27L582.78 1436.18L583.01 1424.72L583.24 1412.58L583.47 1400.23L583.7 1388.08L583.93 1376.5L584.16 1365.79L584.39 1356.24L584.62 1348.08L584.85 1341.52L585.08 1336.72L585.31 1333.79L585.54 1332.81L585.84 1333.79L586.14 1336.72L586.45 1341.52L586.75 1348.08L587.05 1356.24L587.36 1365.79L587.66 1376.5L587.96 1388.08L588.27 1400.23L588.57 1412.58L588.87 1424.72L589.18 1436.18L589.48 1446.27L589.78 1453.26Z" fill="#e60012"/>
<path d="M589.78 1453.26L589.96 1456.32L590.13 1460.74L590.3 1465.76L590.47 1471.08L590.64 1476.49L590.81 1481.81L590.98 1486.89L591.15 1491.58L591.32 1495.77L591.49 1499.34L591.66 1502.21L591.83 1504.32L592 1505.6L592.17 1506.03L592.34 1505.6L592.51 1504.32L592.68 1502.21L592.85 1499.34L593.02 1495.77L593.19 1491.58L593.36 1486.89L593.53 1481.81L593.7 1476.49L593.87 1471.08L594.04 1465.76L594.21 1460.74L594.38 1456.32L594.55 1453.26Z" fill="#22ac38"/>
<path d="M594.55 1453.26L594.93 1445.33L595.31 1433.89L595.68 1420.9L596.06 1407.13L596.44 1393.12L596.82 1379.35L597.19 1366.21L597.57 1354.07L597.95 1343.24L598.33 1333.99L598.7 1326.55L599.08 1321.1L599.46 1317.78L599.84 1316.67L600.12 1317.78L600.4 1321.1L600.68 1326.55L600.96 1333.99L601.24 1343.24L601.52 1354.07L601.81 1366.21L602.09 1379.35L602.37 1393.12L602.65 1407.13L602.93 1420.9L603.21 1433.89L603.49 1445.33L603.78 1453.26Z" fill="#e60012"/>
<path d="M603.78 1453.26L604.11 1466.05L604.44 1484.5L604.77 1505.47L605.11 1527.7L605.44 1550.29L605.77 1572.52L606.11 1593.72L606.44 1613.31L606.77 1630.79L607.11 1645.72L607.44 1657.72L607.77 1666.5L608.11 1671.86L608.44 1673.66L608.7 1671.86L608.96 1666.5L609.22 1657.72L609.48 1645.72L609.73 1630.79L609.99 1613.31L610.25 1593.72L610.51 1572.52L610.77 1550.29L611.03 1527.7L611.29 1505.47L611.55 1484.5L611.81 1466.05L612.07 1453.26Z" fill="#22ac38"/>
<path d="M612.07 1453.26L612.3 1444.25L612.52 1431.25L612.75 1416.49L612.98 1400.83L613.21 1384.92L613.44 1369.27L613.67 1354.34L613.9 1340.54L614.13 1328.23L614.36 1317.72L614.59 1309.27L614.82 1303.08L615.05 1299.31L615.28 1298.04L615.52 1299.31L615.75 1303.08L615.99 1309.27L616.23 1317.72L616.46 1328.23L616.7 1340.54L616.94 1354.34L617.17 1369.27L617.41 1384.92L617.65 1400.83L617.88 1416.49L618.12 1431.25L618.36 1444.25L618.59 1453.26Z" fill="#e60012"/>
<path d="M618.59 1453.26L618.85 1463.19L619.1 1477.51L619.35 1493.78L619.6 1511.03L619.85 1528.56L620.1 1545.81L620.36 1562.26L620.61 1577.47L620.86 1591.03L621.11 1602.62L621.36 1611.93L621.62 1618.75L621.87 1622.91L622.12 1624.3L622.42 1622.91L622.73 1618.75L623.03 1611.93L623.33 1602.62L623.64 1591.03L623.94 1577.47L624.24 1562.26L624.55 1545.81L624.85 1528.56L625.15 1511.03L625.46 1493.78L625.76 1477.51L626.06 1463.19L626.37 1453.26Z" fill="#22ac38"/>
<path d="M626.37 1453.26L626.62 1447.45L626.87 1439.09L627.12 1429.58L627.37 1419.5L627.63 1409.25L627.88 1399.17L628.13 1389.56L628.38 1380.67L628.63 1372.74L628.88 1365.97L629.14 1360.53L629.39 1356.54L629.64 1354.12L629.89 1353.3L630.45 1354.12L631.02 1356.54L631.58 1360.53L632.14 1365.97L632.7 1372.74L633.27 1380.67L633.83 1389.56L634.39 1399.17L634.95 1409.25L635.52 1419.5L636.08 1429.58L636.64 1439.09L637.2 1447.45L637.77 1453.26Z" fill="#e60012"/>
<path d="M637.77 1453.26L638.06 1452.84L638.36 1452.24L638.66 1451.57L638.95 1450.85L639.25 1450.11L639.54 1449.39L639.84 1448.71L640.14 1448.07L640.43 1447.51L640.73 1447.02L641.02 1446.63L641.32 1446.35L641.62 1446.18L641.91 1446.12L642.16 1446.18L642.4 1446.35L642.65 1446.63L642.89 1447.02L643.13 1447.51L643.38 1448.07L643.62 1448.71L643.87 1449.39L644.11 1450.11L644.36 1450.85L644.6 1451.57L644.84 1452.24L645.09 1452.84L645.33 1453.26Z" fill="#e60012"/>
<path d="M645.33 1453.26L645.74 1454.27L646.15 1455.72L646.55 1457.38L646.96 1459.13L647.37 1460.91L647.78 1462.66L648.18 1464.34L648.59 1465.88L649 1467.26L649.4 1468.44L649.81 1469.38L650.22 1470.08L650.62 1470.5L651.03 1470.64L651.6 1470.5L652.17 1470.08L652.74 1469.38L653.31 1468.44L653.88 1467.26L654.45 1465.88L655.02 1464.34L655.59 1462.66L656.16 1460.91L656.73 1459.13L657.3 1457.38L657.87 1455.72L658.44 1454.27L659.01 1453.26Z" fill="#22ac38"/>
<path d="M659.01 1453.26L659.42 1453.2L659.83 1453.13L660.23 1453.04L660.64 1452.94L661.05 1452.85L661.45 1452.75L661.86 1452.66L662.27 1452.58L662.68 1452.51L663.08 1452.44L663.49 1452.39L663.9 1452.36L664.3 1452.33L664.71 1452.33L665.3 1452.33L665.9 1452.36L666.49 1452.39L667.08 1452.44L667.67 1452.51L668.26 1452.58L668.86 1452.66L669.45 1452.75L670.04 1452.85L670.63 1452.94L671.23 1453.04L671.82 1453.13L672.41 1453.2L673 1453.26Z" fill="#e60012"/>
<path d="M441.9 1453.2571428571428L522.22 1453.26L523.53 1452.86L524.85 1452.29L526.17 1451.64L527.49 1450.95L528.8 1450.25L530.12 1449.56L531.44 1448.9L532.76 1448.3L534.07 1447.76L535.39 1447.29L536.71 1446.92L538.03 1446.65L539.34 1446.48L540.66 1446.43L541.05 1446.48L541.43 1446.65L541.82 1446.92L542.2 1447.29L542.59 1447.76L542.97 1448.3L543.36 1448.9L543.74 1449.56L544.13 1450.25L544.51 1450.95L544.9 1451.64L545.28 1452.29L545.67 1452.86L546.05 1453.26L546.36 1453.83L546.67 1454.67L546.98 1455.61L547.3 1456.61L547.61 1457.63L547.92 1458.63L548.23 1459.59L548.54 1460.47L548.85 1461.26L549.16 1461.93L549.47 1462.47L549.78 1462.87L550.09 1463.11L550.4 1463.19L550.69 1463.11L550.97 1462.87L551.25 1462.47L551.53 1461.93L551.81 1461.26L552.09 1460.47L552.37 1459.59L552.65 1458.63L552.94 1457.63L553.22 1456.61L553.5 1455.61L553.78 1454.67L554.06 1453.83L554.34 1453.26L554.74 1452.64L555.14 1451.76L555.54 1450.76L555.94 1449.69L556.34 1448.61L556.74 1447.55L557.14 1446.53L557.54 1445.59L557.94 1444.76L558.34 1444.04L558.74 1443.47L559.14 1443.05L559.54 1442.79L559.94 1442.7L560.15 1442.79L560.37 1443.05L560.58 1443.47L560.8 1444.04L561.01 1444.76L561.23 1445.59L561.44 1446.53L561.66 1447.55L561.87 1448.61L562.09 1449.69L562.3 1450.76L562.51 1451.76L562.73 1452.64L562.94 1453.26L563.05 1453.55L563.15 1453.96L563.25 1454.43L563.36 1454.93L563.46 1455.44L563.57 1455.94L563.67 1456.42L563.77 1456.86L563.88 1457.26L563.98 1457.59L564.08 1457.86L564.19 1458.06L564.29 1458.18L564.39 1458.22L564.51 1458.18L564.62 1458.06L564.73 1457.86L564.84 1457.59L564.95 1457.26L565.06 1456.86L565.17 1456.42L565.28 1455.94L565.39 1455.44L565.5 1454.93L565.62 1454.43L565.73 1453.96L565.84 1453.55L565.95 1453.26L566.25 1447.92L566.54 1440.23L566.84 1431.49L567.13 1422.22L567.43 1412.8L567.73 1403.54L568.02 1394.7L568.32 1386.53L568.61 1379.24L568.91 1373.02L569.21 1368.02L569.5 1364.35L569.8 1362.12L570.09 1361.37L570.37 1362.12L570.64 1364.35L570.92 1368.02L571.19 1373.02L571.46 1379.24L571.74 1386.53L572.01 1394.7L572.29 1403.54L572.56 1412.8L572.83 1422.22L573.11 1431.49L573.38 1440.23L573.65 1447.92L573.93 1453.26L574.25 1459.8L574.57 1469.23L574.88 1479.95L575.2 1491.32L575.52 1502.87L575.84 1514.23L576.16 1525.07L576.48 1535.09L576.79 1544.03L577.11 1551.66L577.43 1557.79L577.75 1562.28L578.07 1565.02L578.39 1565.94L578.67 1565.02L578.95 1562.28L579.23 1557.79L579.51 1551.66L579.79 1544.03L580.07 1535.09L580.35 1525.07L580.64 1514.23L580.92 1502.87L581.2 1491.32L581.48 1479.95L581.76 1469.23L582.04 1459.8L582.32 1453.26L582.55 1446.27L582.78 1436.18L583.01 1424.72L583.24 1412.58L583.47 1400.23L583.7 1388.08L583.93 1376.5L584.16 1365.79L584.39 1356.24L584.62 1348.08L584.85 1341.52L585.08 1336.72L585.31 1333.79L585.54 1332.81L585.84 1333.79L586.14 1336.72L586.45 1341.52L586.75 1348.08L587.05 1356.24L587.36 1365.79L587.66 1376.5L587.96 1388.08L588.27 1400.23L588.57 1412.58L588.87 1424.72L589.18 1436.18L589.48 1446.27L589.78 1453.26L589.96 1456.32L590.13 1460.74L590.3 1465.76L590.47 1471.08L590.64 1476.49L590.81 1481.81L590.98 1486.89L591.15 1491.58L591.32 1495.77L591.49 1499.34L591.66 1502.21L591.83 1504.32L592 1505.6L592.17 1506.03L592.34 1505.6L592.51 1504.32L592.68 1502.21L592.85 1499.34L593.02 1495.77L593.19 1491.58L593.36 1486.89L593.53 1481.81L593.7 1476.49L593.87 1471.08L594.04 1465.76L594.21 1460.74L594.38 1456.32L594.55 1453.26L594.93 1445.33L595.31 1433.89L595.68 1420.9L596.06 1407.13L596.44 1393.12L596.82 1379.35L597.19 1366.21L597.57 1354.07L597.95 1343.24L598.33 1333.99L598.7 1326.55L599.08 1321.1L599.46 1317.78L599.84 1316.67L600.12 1317.78L600.4 1321.1L600.68 1326.55L600.96 1333.99L601.24 1343.24L601.52 1354.07L601.81 1366.21L602.09 1379.35L602.37 1393.12L602.65 1407.13L602.93 1420.9L603.21 1433.89L603.49 1445.33L603.78 1453.26L604.11 1466.05L604.44 1484.5L604.77 1505.47L605.11 1527.7L605.44 1550.29L605.77 1572.52L606.11 1593.72L606.44 1613.31L606.77 1630.79L607.11 1645.72L607.44 1657.72L607.77 1666.5L608.11 1671.86L608.44 1673.66L608.7 1671.86L608.96 1666.5L609.22 1657.72L609.48 1645.72L609.73 1630.79L609.99 1613.31L610.25 1593.72L610.51 1572.52L610.77 1550.29L611.03 1527.7L611.29 1505.47L611.55 1484.5L611.81 1466.05L612.07 1453.26L612.3 1444.25L612.52 1431.25L612.75 1416.49L612.98 1400.83L613.21 1384.92L613.44 1369.27L613.67 1354.34L613.9 1340.54L614.13 1328.23L614.36 1317.72L614.59 1309.27L614.82 1303.08L615.05 1299.31L615.28 1298.04L615.52 1299.31L615.75 1303.08L615.99 1309.27L616.23 1317.72L616.46 1328.23L616.7 1340.54L616.94 1354.34L617.17 1369.27L617.41 1384.92L617.65 1400.83L617.88 1416.49L618.12 1431.25L618.36 1444.25L618.59 1453.26L618.85 1463.19L619.1 1477.51L619.35 1493.78L619.6 1511.03L619.85 1528.56L620.1 1545.81L620.36 1562.26L620.61 1577.47L620.86 1591.03L621.11 1602.62L621.36 1611.93L621.62 1618.75L621.87 1622.91L622.12 1624.3L622.42 1622.91L622.73 1618.75L623.03 1611.93L623.33 1602.62L623.64 1591.03L623.94 1577.47L624.24 1562.26L624.55 1545.81L624.85 1528.56L625.15 1511.03L625.46 1493.78L625.76 1477.51L626.06 1463.19L626.37 1453.26L626.62 1447.45L626.87 1439.09L627.12 1429.58L627.37 1419.5L627.63 1409.25L627.88 1399.17L628.13 1389.56L628.38 1380.67L628.63 1372.74L628.88 1365.97L629.14 1360.53L629.39 1356.54L629.64 1354.12L629.89 1353.3L630.45 1354.12L631.02 1356.54L631.58 1360.53L632.14 1365.97L632.7 1372.74L633.27 1380.67L633.83 1389.56L634.39 1399.17L634.95 1409.25L635.52 1419.5L636.08 1429.58L636.64 1439.09L637.2 1447.45L637.77 1453.26L638.06 1452.84L638.36 1452.24L638.66 1451.57L638.95 1450.85L639.25 1450.11L639.54 1449.39L639.84 1448.71L640.14 1448.07L640.43 1447.51L640.73 1447.02L641.02 1446.63L641.32 1446.35L641.62 1446.18L641.91 1446.12L642.16 1446.18L642.4 1446.35L642.65 1446.63L642.89 1447.02L643.13 1447.51L643.38 1448.07L643.62 1448.71L643.87 1449.39L644.11 1450.11L644.36 1450.85L644.6 1451.57L644.84 1452.24L645.09 1452.84L645.33 1453.26L645.74 1454.27L646.15 1455.72L646.55 1457.38L646.96 1459.13L647.37 1460.91L647.78 1462.66L648.18 1464.34L648.59 1465.88L649 1467.26L649.4 1468.44L649.81 1469.38L650.22 1470.08L650.62 1470.5L651.03 1470.64L651.6 1470.5L652.17 1470.08L652.74 1469.38L653.31 1468.44L653.88 1467.26L654.45 1465.88L655.02 1464.34L655.59 1462.66L656.16 1460.91L656.73 1459.13L657.3 1457.38L657.87 1455.72L658.44 1454.27L659.01 1453.26L659.42 1453.2L659.83 1453.13L660.23 1453.04L660.64 1452.94L661.05 1452.85L661.45 1452.75L661.86 1452.66L662.27 1452.58L662.68 1452.51L663.08 1452.44L663.49 1452.39L663.9 1452.36L664.3 1452.33L664.71 1452.33L665.3 1452.33L665.9 1452.36L666.49 1452.39L667.08 1452.44L667.67 1452.51L668.26 1452.58L668.86 1452.66L669.45 1452.75L670.04 1452.85L670.63 1452.94L671.23 1453.04L671.82 1453.13L672.41 1453.2L673 1453.26L752.8 1453.2571428571428" fill="none" stroke="#000" stroke-width="1" stroke-linejoin="round"/>
<path d="M131.0 1267h8.7M131.0 1298.04h4.4M131.0 1329.09h8.7M131.0 1360.13h4.4M131.0 1391.17h8.7M131.0 1422.21h4.4M131.0 1453.26h8.7M131.0 1484.3h4.4M131.0 1515.34h8.7M131.0 1546.39h4.4M131.0 1577.43h8.7M131.0 1608.47h4.4M131.0 1639.51h8.7M131.0 1670.56h4.4M131.0 1701.6h8.7M182.82 1701.6v-8.7M234.63 1701.6v-8.7M286.45 1701.6v-8.7M338.27 1701.6v-8.7M390.08 1701.6v-8.7M156.91 1701.6v-4.4M208.72 1701.6v-4.4M260.54 1701.6v-4.4M312.36 1701.6v-4.4M364.18 1701.6v-4.4M415.99 1701.6v-4.4M493.72 1701.6v-8.7M545.53 1701.6v-8.7M597.35 1701.6v-8.7M649.17 1701.6v-8.7M700.98 1701.6v-8.7M467.81 1701.6v-4.4M519.62 1701.6v-4.4M571.44 1701.6v-4.4M623.26 1701.6v-4.4M675.08 1701.6v-4.4M726.89 1701.6v-4.4" stroke="#000" stroke-width="3.2" fill="none"/>
<rect x="131.0" y="1267.0" width="621.6" height="434.6" fill="none" stroke="#000" stroke-width="3.5"/>
<path d="M441.9 1267.0V1701.6" stroke="#000" stroke-width="3.5"/>
<text x="121.3" y="1275.6" font-size="26.5" text-anchor="end" fill="#000">0.006</text>
<text x="121.3" y="1337.69" font-size="26.5" text-anchor="end" fill="#000">0.004</text>
<text x="121.3" y="1399.77" font-size="26.5" text-anchor="end" fill="#000">0.002</text>
<text x="121.3" y="1461.86" font-size="26.5" text-anchor="end" fill="#000">0.000</text>
<text x="121.3" y="1523.94" font-size="26.5" text-anchor="end" fill="#000">-0.002</text>
<text x="121.3" y="1586.03" font-size="26.5" text-anchor="end" fill="#000">-0.004</text>
<text x="121.3" y="1648.11" font-size="26.5" text-anchor="end" fill="#000">-0.006</text>
<text x="121.3" y="1710.2" font-size="26.5" text-anchor="end" fill="#000">-0.008</text>
<text x="131" y="1731.6" font-size="26" text-anchor="middle" fill="#000">0</text>
<text x="182.82" y="1731.6" font-size="26" text-anchor="middle" fill="#000">5</text>
<text x="234.63" y="1731.6" font-size="26" text-anchor="middle" fill="#000">10</text>
<text x="286.45" y="1731.6" font-size="26" text-anchor="middle" fill="#000">15</text>
<text x="338.27" y="1731.6" font-size="26" text-anchor="middle" fill="#000">20</text>
<text x="390.08" y="1731.6" font-size="26" text-anchor="middle" fill="#000">25</text>
<text x="444.3" y="1731.6" font-size="26" text-anchor="middle" fill="#000" textLength="54" lengthAdjust="spacing">30/0</text>
<text x="493.72" y="1731.6" font-size="26" text-anchor="middle" fill="#000">5</text>
<text x="545.53" y="1731.6" font-size="26" text-anchor="middle" fill="#000">10</text>
<text x="597.35" y="1731.6" font-size="26" text-anchor="middle" fill="#000">15</text>
<text x="649.17" y="1731.6" font-size="26" text-anchor="middle" fill="#000">20</text>
<text x="700.98" y="1731.6" font-size="26" text-anchor="middle" fill="#000">25</text>
<text x="752.8" y="1731.6" font-size="26" text-anchor="middle" fill="#000">30</text>
<text x="405" y="1782" font-size="32.5"><tspan font-style="italic">Z</tspan> (Å)</text>
<text transform="translate(27.8,1456.5) rotate(-90)" font-size="32.3" text-anchor="middle">Charge (e/A)</text>
<ellipse cx="392" cy="1308.8" rx="30.8" ry="22.3" fill="#e60012"/><ellipse cx="392" cy="1639.9" rx="30.8" ry="22.3" fill="#22ac38"/>
<text x="392" y="1319.5" font-size="31" text-anchor="middle" fill="#fff">-e</text>
<text x="392" y="1650.5" font-size="31" text-anchor="middle" fill="#fff">+e</text>
<path d="M175.8 1385V1326.4H167.8L178 1289L188.2 1326.4H180.2V1385Z" fill="#808080"/>
<text x="190.5" y="1354.5" font-size="30" text-anchor="start" fill="#808080" font-weight="bold">P+</text>
<path d="M689.5 1288.8V1347.7H681.7L691.7 1384.9L701.7 1347.7H693.9V1288.8Z" fill="#808080"/>
<text x="709.5" y="1346.2" font-size="30" text-anchor="start" fill="#808080" font-weight="bold">P-</text>
<text x="65.5" y="1233.3" font-size="54.5" text-anchor="start" fill="#000">f</text>
<path d="M935.2 1264.7h8.2M935.2 1301.69h4.2M935.2 1338.68h8.2M935.2 1375.67h4.2M935.2 1412.67h8.2M935.2 1449.66h4.2M935.2 1486.65h8.2M935.2 1523.64h4.2M935.2 1560.63h8.2M935.2 1597.62h4.2M935.2 1634.62h8.2M935.2 1671.61h4.2M935.2 1708.6h8.2M1027.13 1708.6v-8.2M1119.07 1708.6v-8.2M1211 1708.6v-8.2M1302.93 1708.6v-8.2M1394.87 1708.6v-8.2M981.17 1708.6v-4.2M1073.1 1708.6v-4.2M1165.03 1708.6v-4.2M1256.97 1708.6v-4.2M1348.9 1708.6v-4.2M1440.83 1708.6v-4.2" stroke="#000" stroke-width="3.2" fill="none"/>
<rect x="935.2" y="1264.7" width="551.6" height="443.9" fill="none" stroke="#000" stroke-width="3.6"/>
<clipPath id="clipG"><rect x="935.2" y="1264.7" width="553.4" height="445.7"/></clipPath>
<g clip-path="url(#clipG)" fill="none" stroke-width="3.5" stroke-linejoin="round">
<polyline stroke="#000" points="935.2,1343.12 936.12,1343.12 937.04,1343.12 937.96,1343.12 938.88,1343.12 939.8,1343.12 940.72,1343.12 941.64,1343.12 942.55,1343.12 943.47,1343.12 944.39,1343.12 945.31,1343.12 946.23,1343.12 947.15,1343.12 948.07,1343.12 948.99,1343.12 949.91,1343.12 950.83,1343.12 951.75,1343.12 952.67,1343.12 953.59,1343.12 954.51,1343.12 955.43,1343.12 956.34,1343.12 957.26,1343.12 958.18,1343.12 959.1,1343.12 960.02,1343.12 960.94,1343.12 961.86,1343.12 962.78,1343.12 963.7,1343.12 964.62,1343.12 965.54,1343.12 966.46,1343.12 967.38,1343.12 968.3,1343.12 969.22,1343.12 970.13,1343.12 971.05,1343.12 971.97,1343.12 972.89,1343.12 973.81,1343.12 974.73,1343.12 975.65,1343.12 976.57,1343.12 977.49,1343.12 978.41,1343.12 979.33,1343.12 980.25,1343.12 981.17,1343.12 982.09,1343.12 983.01,1343.12 983.92,1343.12 984.84,1343.12 985.76,1343.12 986.68,1343.12 987.6,1343.12 988.52,1343.12 989.44,1343.12 990.36,1343.12 991.28,1343.12 992.2,1343.12 993.12,1343.12 994.04,1343.12 994.96,1343.12 995.88,1343.12 996.8,1343.12 997.71,1343.12 998.63,1343.12 999.55,1343.12 1000.47,1343.12 1001.39,1343.12 1002.31,1343.12 1003.23,1343.12 1004.15,1343.12 1005.07,1343.12 1005.99,1343.12 1006.91,1343.12 1007.83,1343.12 1008.75,1343.12 1009.67,1343.12 1010.59,1343.12 1011.5,1343.12 1012.42,1343.12 1013.34,1343.12 1014.26,1343.12 1015.18,1343.12 1016.1,1343.12 1017.02,1343.12 1017.94,1343.12 1018.86,1343.12 1019.78,1343.12 1020.7,1343.12 1021.62,1343.12 1022.54,1343.12 1023.46,1343.12 1024.38,1343.12 1025.29,1343.12 1026.21,1343.12 1027.13,1343.12 1028.05,1343.12 1028.97,1343.12 1029.89,1343.12 1030.81,1343.12 1031.73,1343.12 1032.65,1343.12 1033.57,1343.13 1034.49,1343.13 1035.41,1343.13 1036.33,1343.13 1037.25,1343.13 1038.17,1343.13 1039.08,1343.13 1040,1343.13 1040.92,1343.13 1041.84,1343.13 1042.76,1343.13 1043.68,1343.13 1044.6,1343.14 1045.52,1343.14 1046.44,1343.14 1047.36,1343.14 1048.28,1343.15 1049.2,1343.15 1050.12,1343.16 1051.04,1343.16 1051.96,1343.17 1052.87,1343.17 1053.79,1343.18 1054.71,1343.19 1055.63,1343.2 1056.55,1343.21 1057.47,1343.22 1058.39,1343.24 1059.31,1343.26 1060.23,1343.28 1061.15,1343.3 1062.07,1343.32 1062.99,1343.35 1063.91,1343.39 1064.83,1343.43 1065.75,1343.47 1066.66,1343.53 1067.58,1343.59 1068.5,1343.66 1069.42,1343.74 1070.34,1343.83 1071.26,1343.93 1072.18,1344.05 1073.1,1344.19 1074.02,1344.35 1074.94,1344.54 1075.86,1344.75 1076.78,1344.99 1077.7,1345.27 1078.62,1345.58 1079.54,1345.95 1080.45,1346.37 1081.37,1346.86 1082.29,1347.41 1083.21,1348.05 1084.13,1348.79 1085.05,1349.63 1085.97,1350.6 1086.89,1351.72 1087.81,1353 1088.73,1354.47 1089.65,1356.16 1090.57,1358.1 1091.49,1360.34 1092.41,1362.9 1093.33,1365.85 1094.24,1369.23 1095.16,1373.12 1096.08,1377.59 1097,1382.73 1097.92,1388.63 1098.84,1395.41 1099.76,1403.2 1100.68,1412.15 1101.6,1422.44 1102.52,1434.25 1103.44,1447.83 1104.36,1463.44 1105.28,1481.36 1106.2,1501.96 1107.12,1525.62 1108.03,1552.82 1108.95,1584.06 1109.87,1619.96 1110.79,1661.21 1111.71,1708.6 1112.63,1763.05 1113.55,1825.62 1114.47,1856.57 1115.39,1856.57 1116.31,1856.57"/>
<polyline stroke="#000" points="1339.71,1856.57 1340.63,1856.57 1341.55,1856.57 1342.46,1853.35 1343.38,1797.64 1344.3,1749.75 1345.22,1708.6 1346.14,1673.23 1347.06,1642.84 1347.98,1616.72 1348.9,1594.27 1349.82,1574.98 1350.74,1558.4 1351.66,1544.15 1352.58,1531.91 1353.5,1521.38 1354.42,1512.34 1355.34,1504.57 1356.25,1497.89 1357.17,1492.15 1358.09,1487.21 1359.01,1482.97 1359.93,1479.33 1360.85,1476.2 1361.77,1473.51 1362.69,1471.19 1363.61,1469.21 1364.53,1467.5 1365.45,1466.03 1366.37,1464.77 1367.29,1463.68 1368.21,1462.75 1369.13,1461.95 1370.04,1461.26 1370.96,1460.67 1371.88,1460.16 1372.8,1459.73 1373.72,1459.35 1374.64,1459.03 1375.56,1458.75 1376.48,1458.51 1377.4,1458.31 1378.32,1458.13 1379.24,1457.98 1380.16,1457.85 1381.08,1457.74 1382,1457.64 1382.92,1457.56 1383.83,1457.49 1384.75,1457.43 1385.67,1457.38 1386.59,1457.33 1387.51,1457.29 1388.43,1457.26 1389.35,1457.23 1390.27,1457.21 1391.19,1457.19 1392.11,1457.17 1393.03,1457.15 1393.95,1457.14 1394.87,1457.13 1395.79,1457.12 1396.71,1457.11 1397.62,1457.1 1398.54,1457.1 1399.46,1457.09 1400.38,1457.09 1401.3,1457.08 1402.22,1457.08 1403.14,1457.07 1404.06,1457.07 1404.98,1457.07 1405.9,1457.07 1406.82,1457.07 1407.74,1457.07 1408.66,1457.06 1409.58,1457.06 1410.5,1457.06 1411.41,1457.06 1412.33,1457.06 1413.25,1457.06 1414.17,1457.06 1415.09,1457.06 1416.01,1457.06 1416.93,1457.06 1417.85,1457.06 1418.77,1457.06 1419.69,1457.06 1420.61,1457.06 1421.53,1457.06 1422.45,1457.06 1423.37,1457.06 1424.29,1457.06 1425.2,1457.06 1426.12,1457.06 1427.04,1457.06 1427.96,1457.06 1428.88,1457.06 1429.8,1457.06 1430.72,1457.06 1431.64,1457.06 1432.56,1457.06 1433.48,1457.06 1434.4,1457.06 1435.32,1457.06 1436.24,1457.06 1437.16,1457.06 1438.08,1457.06 1438.99,1457.06 1439.91,1457.06 1440.83,1457.06 1441.75,1457.06 1442.67,1457.06 1443.59,1457.06 1444.51,1457.06 1445.43,1457.06 1446.35,1457.06 1447.27,1457.06 1448.19,1457.06 1449.11,1457.06 1450.03,1457.06 1450.95,1457.06 1451.87,1457.06 1452.78,1457.06 1453.7,1457.06 1454.62,1457.06 1455.54,1457.06 1456.46,1457.06 1457.38,1457.06 1458.3,1457.06 1459.22,1457.06 1460.14,1457.06 1461.06,1457.06 1461.98,1457.06 1462.9,1457.06 1463.82,1457.06 1464.74,1457.06 1465.66,1457.06 1466.57,1457.06 1467.49,1457.06 1468.41,1457.06 1469.33,1457.06 1470.25,1457.06 1471.17,1457.06 1472.09,1457.06 1473.01,1457.06 1473.93,1457.06 1474.85,1457.06 1475.77,1457.06 1476.69,1457.06 1477.61,1457.06 1478.53,1457.06 1479.45,1457.06 1480.36,1457.06 1481.28,1457.06 1482.2,1457.06 1483.12,1457.06 1484.04,1457.06 1484.96,1457.06 1485.88,1457.06 1486.8,1457.06"/>
<polyline stroke="#ff0000" points="935.2,1451.88 936.12,1451.88 937.04,1451.88 937.96,1451.88 938.88,1451.88 939.8,1451.88 940.72,1451.88 941.64,1451.88 942.55,1451.88 943.47,1451.88 944.39,1451.88 945.31,1451.88 946.23,1451.88 947.15,1451.88 948.07,1451.88 948.99,1451.88 949.91,1451.88 950.83,1451.88 951.75,1451.88 952.67,1451.88 953.59,1451.88 954.51,1451.88 955.43,1451.88 956.34,1451.88 957.26,1451.88 958.18,1451.88 959.1,1451.88 960.02,1451.88 960.94,1451.88 961.86,1451.88 962.78,1451.88 963.7,1451.88 964.62,1451.88 965.54,1451.88 966.46,1451.88 967.38,1451.88 968.3,1451.88 969.22,1451.88 970.13,1451.88 971.05,1451.88 971.97,1451.88 972.89,1451.88 973.81,1451.88 974.73,1451.88 975.65,1451.88 976.57,1451.88 977.49,1451.88 978.41,1451.88 979.33,1451.88 980.25,1451.88 981.17,1451.88 982.09,1451.88 983.01,1451.88 983.92,1451.88 984.84,1451.88 985.76,1451.88 986.68,1451.88 987.6,1451.88 988.52,1451.88 989.44,1451.88 990.36,1451.88 991.28,1451.88 992.2,1451.88 993.12,1451.88 994.04,1451.88 994.96,1451.88 995.88,1451.88 996.8,1451.88 997.71,1451.88 998.63,1451.88 999.55,1451.88 1000.47,1451.88 1001.39,1451.88 1002.31,1451.88 1003.23,1451.88 1004.15,1451.88 1005.07,1451.88 1005.99,1451.88 1006.91,1451.88 1007.83,1451.88 1008.75,1451.88 1009.67,1451.88 1010.59,1451.88 1011.5,1451.88 1012.42,1451.88 1013.34,1451.88 1014.26,1451.88 1015.18,1451.88 1016.1,1451.88 1017.02,1451.88 1017.94,1451.88 1018.86,1451.88 1019.78,1451.88 1020.7,1451.88 1021.62,1451.88 1022.54,1451.88 1023.46,1451.88 1024.38,1451.88 1025.29,1451.88 1026.21,1451.88 1027.13,1451.88 1028.05,1451.88 1028.97,1451.88 1029.89,1451.88 1030.81,1451.88 1031.73,1451.88 1032.65,1451.88 1033.57,1451.88 1034.49,1451.88 1035.41,1451.89 1036.33,1451.89 1037.25,1451.89 1038.17,1451.89 1039.08,1451.89 1040,1451.89 1040.92,1451.9 1041.84,1451.9 1042.76,1451.9 1043.68,1451.91 1044.6,1451.91 1045.52,1451.91 1046.44,1451.92 1047.36,1451.93 1048.28,1451.93 1049.2,1451.94 1050.12,1451.95 1051.04,1451.96 1051.96,1451.97 1052.87,1451.99 1053.79,1452 1054.71,1452.02 1055.63,1452.05 1056.55,1452.07 1057.47,1452.1 1058.39,1452.13 1059.31,1452.17 1060.23,1452.21 1061.15,1452.26 1062.07,1452.32 1062.99,1452.39 1063.91,1452.46 1064.83,1452.55 1065.75,1452.65 1066.66,1452.77 1067.58,1452.9 1068.5,1453.05 1069.42,1453.22 1070.34,1453.43 1071.26,1453.66 1072.18,1453.92 1073.1,1454.23 1074.02,1454.58 1074.94,1454.98 1075.86,1455.44 1076.78,1455.97 1077.7,1456.58 1078.62,1457.28 1079.54,1458.09 1080.45,1459.01 1081.37,1460.07 1082.29,1461.29 1083.21,1462.7 1084.13,1464.31 1085.05,1466.16 1085.97,1468.29 1086.89,1470.73 1087.81,1473.54 1088.73,1476.77 1089.65,1480.48 1090.57,1484.74 1091.49,1489.64 1092.41,1495.27 1093.33,1501.73 1094.24,1509.16 1095.16,1517.7 1096.08,1527.5 1097,1538.77 1097.92,1551.72 1098.84,1566.59 1099.76,1583.68 1100.68,1603.32 1101.6,1625.89 1102.52,1651.81 1103.44,1681.6 1104.36,1715.83 1105.28,1755.16 1106.2,1800.35 1107.12,1852.27 1108.03,1856.57 1108.95,1856.57"/>
<polyline stroke="#ff0000" points="1332.35,1856.57 1333.27,1856.57 1334.19,1856.57 1335.11,1856.57 1336.03,1840.32 1336.95,1769.48 1337.87,1708.6 1338.79,1656.28 1339.71,1611.31 1340.63,1572.67 1341.55,1539.46 1342.46,1510.92 1343.38,1486.39 1344.3,1465.31 1345.22,1447.2 1346.14,1431.63 1347.06,1418.25 1347.98,1406.75 1348.9,1396.87 1349.82,1388.38 1350.74,1381.08 1351.66,1374.81 1352.58,1369.41 1353.5,1364.78 1354.42,1360.8 1355.34,1357.38 1356.25,1354.44 1357.17,1351.91 1358.09,1349.74 1359.01,1347.87 1359.93,1346.27 1360.85,1344.89 1361.77,1343.71 1362.69,1342.69 1363.61,1341.81 1364.53,1341.06 1365.45,1340.41 1366.37,1339.86 1367.29,1339.38 1368.21,1338.97 1369.13,1338.62 1370.04,1338.32 1370.96,1338.06 1371.88,1337.83 1372.8,1337.64 1373.72,1337.47 1374.64,1337.33 1375.56,1337.21 1376.48,1337.11 1377.4,1337.01 1378.32,1336.94 1379.24,1336.87 1380.16,1336.81 1381.08,1336.76 1382,1336.72 1382.92,1336.69 1383.83,1336.65 1384.75,1336.63 1385.67,1336.6 1386.59,1336.58 1387.51,1336.57 1388.43,1336.55 1389.35,1336.54 1390.27,1336.53 1391.19,1336.52 1392.11,1336.51 1393.03,1336.51 1393.95,1336.5 1394.87,1336.49 1395.79,1336.49 1396.71,1336.49 1397.62,1336.48 1398.54,1336.48 1399.46,1336.48 1400.38,1336.48 1401.3,1336.47 1402.22,1336.47 1403.14,1336.47 1404.06,1336.47 1404.98,1336.47 1405.9,1336.47 1406.82,1336.47 1407.74,1336.47 1408.66,1336.47 1409.58,1336.47 1410.5,1336.47 1411.41,1336.47 1412.33,1336.47 1413.25,1336.47 1414.17,1336.47 1415.09,1336.46 1416.01,1336.46 1416.93,1336.46 1417.85,1336.46 1418.77,1336.46 1419.69,1336.46 1420.61,1336.46 1421.53,1336.46 1422.45,1336.46 1423.37,1336.46 1424.29,1336.46 1425.2,1336.46 1426.12,1336.46 1427.04,1336.46 1427.96,1336.46 1428.88,1336.46 1429.8,1336.46 1430.72,1336.46 1431.64,1336.46 1432.56,1336.46 1433.48,1336.46 1434.4,1336.46 1435.32,1336.46 1436.24,1336.46 1437.16,1336.46 1438.08,1336.46 1438.99,1336.46 1439.91,1336.46 1440.83,1336.46 1441.75,1336.46 1442.67,1336.46 1443.59,1336.46 1444.51,1336.46 1445.43,1336.46 1446.35,1336.46 1447.27,1336.46 1448.19,1336.46 1449.11,1336.46 1450.03,1336.46 1450.95,1336.46 1451.87,1336.46 1452.78,1336.46 1453.7,1336.46 1454.62,1336.46 1455.54,1336.46 1456.46,1336.46 1457.38,1336.46 1458.3,1336.46 1459.22,1336.46 1460.14,1336.46 1461.06,1336.46 1461.98,1336.46 1462.9,1336.46 1463.82,1336.46 1464.74,1336.46 1465.66,1336.46 1466.57,1336.46 1467.49,1336.46 1468.41,1336.46 1469.33,1336.46 1470.25,1336.46 1471.17,1336.46 1472.09,1336.46 1473.01,1336.46 1473.93,1336.46 1474.85,1336.46 1475.77,1336.46 1476.69,1336.46 1477.61,1336.46 1478.53,1336.46 1479.45,1336.46 1480.36,1336.46 1481.28,1336.46 1482.2,1336.46 1483.12,1336.46 1484.04,1336.46 1484.96,1336.46 1485.88,1336.46 1486.8,1336.46"/>
</g>
<text x="924.5" y="1272.3" font-size="27" text-anchor="end" fill="#000">4.80</text>
<text x="924.5" y="1346.28" font-size="27" text-anchor="end" fill="#000">4.75</text>
<text x="924.5" y="1420.27" font-size="27" text-anchor="end" fill="#000">4.70</text>
<text x="924.5" y="1494.25" font-size="27" text-anchor="end" fill="#000">4.65</text>
<text x="924.5" y="1568.23" font-size="27" text-anchor="end" fill="#000">4.60</text>
<text x="924.5" y="1642.22" font-size="27" text-anchor="end" fill="#000">4.55</text>
<text x="924.5" y="1716.2" font-size="27" text-anchor="end" fill="#000">4.50</text>
<text x="935.2" y="1739" font-size="27" text-anchor="middle" fill="#000">0</text>
<text x="1027.13" y="1739" font-size="27" text-anchor="middle" fill="#000">5</text>
<text x="1119.07" y="1739" font-size="27" text-anchor="middle" fill="#000">10</text>
<text x="1211" y="1739" font-size="27" text-anchor="middle" fill="#000">15</text>
<text x="1302.93" y="1739" font-size="27" text-anchor="middle" fill="#000">20</text>
<text x="1394.87" y="1739" font-size="27" text-anchor="middle" fill="#000">25</text>
<text x="1483.8" y="1739" font-size="27" text-anchor="middle" fill="#000">30</text>
<text x="1181" y="1782.4" font-size="27.4"><tspan font-style="italic">Z</tspan> (Å)</text>
<text transform="translate(852.5,1487.5) rotate(-90)" font-size="27" text-anchor="middle">Potential (eV)</text>
<path d="M1356.5 1282H1406.5" stroke="#ff0000" stroke-width="3.4" stroke-linecap="round"/><path d="M1356.5 1313.4H1406.5" stroke="#000" stroke-width="3.4" stroke-linecap="round"/>
<text x="1419.5" y="1291" font-size="24.3" text-anchor="start" fill="#000">up</text>
<text x="1419.5" y="1322" font-size="24.3" text-anchor="start" fill="#000">down</text>
<text x="809.5" y="1232.5" font-size="53.5" text-anchor="start" fill="#000">g</text>
</svg></body></html>
